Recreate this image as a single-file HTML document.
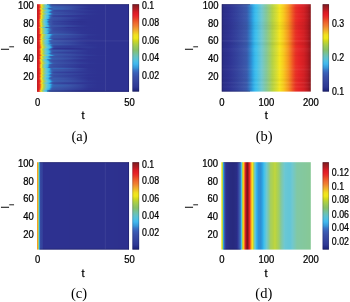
<!DOCTYPE html><html><head><meta charset="utf-8"><style>html,body{margin:0;padding:0;background:#fff;width:350px;height:302px;overflow:hidden}svg{display:block;will-change:transform}text{font-family:"Liberation Sans",sans-serif}text.cap{font-family:"Liberation Serif",serif}text{stroke:#000;stroke-width:0.25px}text.cap{stroke-width:0}text.yl{stroke-width:0.1px}</style></head><body><svg width="350" height="302" viewBox="0 0 350 302" font-family="Liberation Sans, sans-serif" fill="#000" stroke-linejoin="round"><defs><linearGradient id="g1"><stop offset="0" stop-color="#ba1a21"/><stop offset="0.008" stop-color="#ca1d23"/><stop offset="0.016" stop-color="#d72024"/><stop offset="0.024" stop-color="#e42326"/><stop offset="0.032" stop-color="#ef5c23"/><stop offset="0.04" stop-color="#f6a41f"/><stop offset="0.048" stop-color="#f6d81e"/><stop offset="0.056" stop-color="#e0df2b"/><stop offset="0.064" stop-color="#b7d344"/><stop offset="0.072" stop-color="#a3ce65"/><stop offset="0.08" stop-color="#89c893"/><stop offset="0.088" stop-color="#7bc8b5"/><stop offset="0.096" stop-color="#6cc7d2"/><stop offset="0.104" stop-color="#5bc5dc"/><stop offset="0.112" stop-color="#4dc2e5"/><stop offset="0.12" stop-color="#43c1eb"/><stop offset="0.128" stop-color="#39b8eb"/><stop offset="0.136" stop-color="#2da1e1"/><stop offset="0.144" stop-color="#307cc6"/><stop offset="0.152" stop-color="#3567b6"/><stop offset="0.16" stop-color="#3958ab"/><stop offset="0.168" stop-color="#3952a6"/><stop offset="0.176" stop-color="#384ea4"/><stop offset="0.184" stop-color="#374ca3"/><stop offset="0.192" stop-color="#374ca3"/><stop offset="0.2" stop-color="#374ba2"/><stop offset="0.24" stop-color="#3648a0"/><stop offset="0.28" stop-color="#35459f"/><stop offset="0.34" stop-color="#33419c"/><stop offset="0.4" stop-color="#323e9a"/><stop offset="0.48" stop-color="#303896"/><stop offset="0.56" stop-color="#2e3393"/><stop offset="0.66" stop-color="#2e3292"/><stop offset="0.8" stop-color="#2e3292"/><stop offset="1" stop-color="#2e3292"/></linearGradient><linearGradient id="g2"><stop offset="0" stop-color="#ba1a21"/><stop offset="0.008" stop-color="#cb1e23"/><stop offset="0.016" stop-color="#d82024"/><stop offset="0.024" stop-color="#e72826"/><stop offset="0.032" stop-color="#f16a22"/><stop offset="0.04" stop-color="#f7b41f"/><stop offset="0.048" stop-color="#f5e01e"/><stop offset="0.056" stop-color="#d0da35"/><stop offset="0.064" stop-color="#afd150"/><stop offset="0.072" stop-color="#98cc78"/><stop offset="0.08" stop-color="#81c8a4"/><stop offset="0.088" stop-color="#74c8c6"/><stop offset="0.096" stop-color="#62c6d8"/><stop offset="0.104" stop-color="#51c3e2"/><stop offset="0.112" stop-color="#46c1e9"/><stop offset="0.12" stop-color="#3bbbec"/><stop offset="0.128" stop-color="#2fa8e5"/><stop offset="0.136" stop-color="#3083ca"/><stop offset="0.144" stop-color="#356ab8"/><stop offset="0.152" stop-color="#385bad"/><stop offset="0.16" stop-color="#3a56a9"/><stop offset="0.168" stop-color="#3a53a8"/><stop offset="0.176" stop-color="#3952a7"/><stop offset="0.184" stop-color="#3951a6"/><stop offset="0.192" stop-color="#3950a5"/><stop offset="0.2" stop-color="#384fa5"/><stop offset="0.24" stop-color="#374da3"/><stop offset="0.28" stop-color="#3649a1"/><stop offset="0.34" stop-color="#35449e"/><stop offset="0.4" stop-color="#333f9b"/><stop offset="0.48" stop-color="#303795"/><stop offset="0.56" stop-color="#2e3393"/><stop offset="0.66" stop-color="#2e3292"/><stop offset="0.8" stop-color="#2e3292"/><stop offset="1" stop-color="#2e3292"/></linearGradient><linearGradient id="g3"><stop offset="0" stop-color="#ba1a21"/><stop offset="0.008" stop-color="#ca1d23"/><stop offset="0.016" stop-color="#d72024"/><stop offset="0.024" stop-color="#e62326"/><stop offset="0.032" stop-color="#f06023"/><stop offset="0.04" stop-color="#f6a81f"/><stop offset="0.048" stop-color="#f6da1e"/><stop offset="0.056" stop-color="#dbde2e"/><stop offset="0.064" stop-color="#b4d246"/><stop offset="0.072" stop-color="#a0ce69"/><stop offset="0.08" stop-color="#86c898"/><stop offset="0.088" stop-color="#79c8ba"/><stop offset="0.096" stop-color="#69c7d4"/><stop offset="0.104" stop-color="#58c4de"/><stop offset="0.112" stop-color="#4bc2e6"/><stop offset="0.12" stop-color="#3fc0ed"/><stop offset="0.128" stop-color="#38b6ea"/><stop offset="0.136" stop-color="#2e98da"/><stop offset="0.144" stop-color="#3273bf"/><stop offset="0.152" stop-color="#3664b4"/><stop offset="0.16" stop-color="#385daf"/><stop offset="0.168" stop-color="#385bad"/><stop offset="0.176" stop-color="#385daf"/><stop offset="0.184" stop-color="#385daf"/><stop offset="0.192" stop-color="#385cae"/><stop offset="0.2" stop-color="#385cae"/><stop offset="0.24" stop-color="#3958ab"/><stop offset="0.28" stop-color="#3a55a9"/><stop offset="0.34" stop-color="#384fa5"/><stop offset="0.4" stop-color="#3648a0"/><stop offset="0.48" stop-color="#323d99"/><stop offset="0.56" stop-color="#2e3393"/><stop offset="0.66" stop-color="#2e3292"/><stop offset="0.8" stop-color="#2e3292"/><stop offset="1" stop-color="#2e3292"/></linearGradient><linearGradient id="g4"><stop offset="0" stop-color="#ba1a21"/><stop offset="0.008" stop-color="#c91d22"/><stop offset="0.016" stop-color="#d52024"/><stop offset="0.024" stop-color="#df2225"/><stop offset="0.032" stop-color="#eb4125"/><stop offset="0.04" stop-color="#f38221"/><stop offset="0.048" stop-color="#f8c11e"/><stop offset="0.056" stop-color="#f5e11e"/><stop offset="0.064" stop-color="#d3dc33"/><stop offset="0.072" stop-color="#b3d248"/><stop offset="0.08" stop-color="#a1ce67"/><stop offset="0.088" stop-color="#89c992"/><stop offset="0.096" stop-color="#7cc8b1"/><stop offset="0.104" stop-color="#71c8ce"/><stop offset="0.112" stop-color="#60c5da"/><stop offset="0.12" stop-color="#52c3e2"/><stop offset="0.128" stop-color="#48c2e8"/><stop offset="0.136" stop-color="#3dbeed"/><stop offset="0.144" stop-color="#36b4ea"/><stop offset="0.152" stop-color="#2e98db"/><stop offset="0.16" stop-color="#317bc4"/><stop offset="0.168" stop-color="#346dba"/><stop offset="0.176" stop-color="#3664b4"/><stop offset="0.184" stop-color="#3761b2"/><stop offset="0.192" stop-color="#375fb0"/><stop offset="0.2" stop-color="#385eaf"/><stop offset="0.24" stop-color="#385bad"/><stop offset="0.28" stop-color="#3958ab"/><stop offset="0.34" stop-color="#3952a7"/><stop offset="0.4" stop-color="#374ba2"/><stop offset="0.48" stop-color="#34429c"/><stop offset="0.56" stop-color="#303896"/><stop offset="0.66" stop-color="#2e3392"/><stop offset="0.8" stop-color="#2e3292"/><stop offset="1" stop-color="#2e3292"/></linearGradient><linearGradient id="g5"><stop offset="0" stop-color="#ba1a21"/><stop offset="0.008" stop-color="#cd1e23"/><stop offset="0.016" stop-color="#db2125"/><stop offset="0.024" stop-color="#ea3c25"/><stop offset="0.032" stop-color="#f48f20"/><stop offset="0.04" stop-color="#f6d51e"/><stop offset="0.048" stop-color="#ddde2d"/><stop offset="0.056" stop-color="#b1d14b"/><stop offset="0.064" stop-color="#98cc77"/><stop offset="0.072" stop-color="#80c8a8"/><stop offset="0.08" stop-color="#71c8cd"/><stop offset="0.088" stop-color="#5cc5dc"/><stop offset="0.096" stop-color="#4cc2e6"/><stop offset="0.104" stop-color="#3ebfee"/><stop offset="0.112" stop-color="#34b0e8"/><stop offset="0.12" stop-color="#2f88cf"/><stop offset="0.128" stop-color="#356ab8"/><stop offset="0.136" stop-color="#385bad"/><stop offset="0.144" stop-color="#3a56a9"/><stop offset="0.152" stop-color="#3a56a9"/><stop offset="0.16" stop-color="#395aac"/><stop offset="0.168" stop-color="#385eaf"/><stop offset="0.176" stop-color="#3663b3"/><stop offset="0.184" stop-color="#3665b4"/><stop offset="0.192" stop-color="#3664b4"/><stop offset="0.2" stop-color="#3663b3"/><stop offset="0.24" stop-color="#375fb0"/><stop offset="0.28" stop-color="#385aad"/><stop offset="0.34" stop-color="#3952a7"/><stop offset="0.4" stop-color="#35479f"/><stop offset="0.48" stop-color="#303896"/><stop offset="0.56" stop-color="#2e3292"/><stop offset="0.66" stop-color="#2e3292"/><stop offset="0.8" stop-color="#2e3292"/><stop offset="1" stop-color="#2e3292"/></linearGradient><linearGradient id="g6"><stop offset="0" stop-color="#ba1a21"/><stop offset="0.008" stop-color="#cc1e23"/><stop offset="0.016" stop-color="#da2125"/><stop offset="0.024" stop-color="#e93525"/><stop offset="0.032" stop-color="#f38321"/><stop offset="0.04" stop-color="#f7d01e"/><stop offset="0.048" stop-color="#e8e226"/><stop offset="0.056" stop-color="#b8d343"/><stop offset="0.064" stop-color="#a1ce68"/><stop offset="0.072" stop-color="#85c89b"/><stop offset="0.08" stop-color="#76c8c0"/><stop offset="0.088" stop-color="#63c6d8"/><stop offset="0.096" stop-color="#51c3e2"/><stop offset="0.104" stop-color="#45c1ea"/><stop offset="0.112" stop-color="#3ab9eb"/><stop offset="0.12" stop-color="#2d9fe0"/><stop offset="0.128" stop-color="#3276c1"/><stop offset="0.136" stop-color="#3663b3"/><stop offset="0.144" stop-color="#3959ac"/><stop offset="0.152" stop-color="#3957aa"/><stop offset="0.16" stop-color="#385cae"/><stop offset="0.168" stop-color="#3762b2"/><stop offset="0.176" stop-color="#3567b6"/><stop offset="0.184" stop-color="#356ab8"/><stop offset="0.192" stop-color="#3569b7"/><stop offset="0.2" stop-color="#3568b7"/><stop offset="0.24" stop-color="#3664b4"/><stop offset="0.28" stop-color="#3760b1"/><stop offset="0.34" stop-color="#3957aa"/><stop offset="0.4" stop-color="#374ba2"/><stop offset="0.48" stop-color="#313b98"/><stop offset="0.56" stop-color="#2e3292"/><stop offset="0.66" stop-color="#2e3292"/><stop offset="0.8" stop-color="#2e3292"/><stop offset="1" stop-color="#2e3292"/></linearGradient><linearGradient id="g7"><stop offset="0" stop-color="#ba1a21"/><stop offset="0.008" stop-color="#c91d23"/><stop offset="0.016" stop-color="#d62024"/><stop offset="0.024" stop-color="#e12225"/><stop offset="0.032" stop-color="#ed4e24"/><stop offset="0.04" stop-color="#f59520"/><stop offset="0.048" stop-color="#f7d11e"/><stop offset="0.056" stop-color="#eee422"/><stop offset="0.064" stop-color="#c1d63e"/><stop offset="0.072" stop-color="#aad057"/><stop offset="0.08" stop-color="#95cb7e"/><stop offset="0.088" stop-color="#81c8a5"/><stop offset="0.096" stop-color="#75c8c4"/><stop offset="0.104" stop-color="#65c6d7"/><stop offset="0.112" stop-color="#55c4e0"/><stop offset="0.12" stop-color="#4ac2e7"/><stop offset="0.128" stop-color="#3ec0ee"/><stop offset="0.136" stop-color="#37b6ea"/><stop offset="0.144" stop-color="#2e99db"/><stop offset="0.152" stop-color="#3277c1"/><stop offset="0.16" stop-color="#3567b6"/><stop offset="0.168" stop-color="#385cae"/><stop offset="0.176" stop-color="#3959ab"/><stop offset="0.184" stop-color="#3957aa"/><stop offset="0.192" stop-color="#3956aa"/><stop offset="0.2" stop-color="#3a56a9"/><stop offset="0.24" stop-color="#3952a7"/><stop offset="0.28" stop-color="#3950a5"/><stop offset="0.34" stop-color="#374ba2"/><stop offset="0.4" stop-color="#35469f"/><stop offset="0.48" stop-color="#323e99"/><stop offset="0.56" stop-color="#2f3594"/><stop offset="0.66" stop-color="#2e3292"/><stop offset="0.8" stop-color="#2e3292"/><stop offset="1" stop-color="#2e3292"/></linearGradient><linearGradient id="g8"><stop offset="0" stop-color="#ba1a21"/><stop offset="0.008" stop-color="#c81d22"/><stop offset="0.016" stop-color="#d41f24"/><stop offset="0.024" stop-color="#de2125"/><stop offset="0.032" stop-color="#ea3c25"/><stop offset="0.04" stop-color="#f27a22"/><stop offset="0.048" stop-color="#f8b71e"/><stop offset="0.056" stop-color="#f6dd1e"/><stop offset="0.064" stop-color="#dcde2d"/><stop offset="0.072" stop-color="#b8d343"/><stop offset="0.08" stop-color="#a6cf5f"/><stop offset="0.088" stop-color="#90ca85"/><stop offset="0.096" stop-color="#80c8a8"/><stop offset="0.104" stop-color="#75c8c4"/><stop offset="0.112" stop-color="#65c6d6"/><stop offset="0.12" stop-color="#57c4df"/><stop offset="0.128" stop-color="#4cc2e6"/><stop offset="0.136" stop-color="#42c1eb"/><stop offset="0.144" stop-color="#3ab9eb"/><stop offset="0.152" stop-color="#2ea7e5"/><stop offset="0.16" stop-color="#3082c9"/><stop offset="0.168" stop-color="#3762b2"/><stop offset="0.176" stop-color="#3950a5"/><stop offset="0.184" stop-color="#3648a0"/><stop offset="0.192" stop-color="#35449e"/><stop offset="0.2" stop-color="#34449d"/><stop offset="0.24" stop-color="#33419b"/><stop offset="0.28" stop-color="#323e9a"/><stop offset="0.34" stop-color="#313c98"/><stop offset="0.4" stop-color="#313c98"/><stop offset="0.48" stop-color="#313b98"/><stop offset="0.56" stop-color="#303996"/><stop offset="0.66" stop-color="#2e3393"/><stop offset="0.8" stop-color="#2e3292"/><stop offset="1" stop-color="#2e3292"/></linearGradient><linearGradient id="g9"><stop offset="0" stop-color="#ba1a21"/><stop offset="0.008" stop-color="#ca1d23"/><stop offset="0.016" stop-color="#d72024"/><stop offset="0.024" stop-color="#e52326"/><stop offset="0.032" stop-color="#f05f23"/><stop offset="0.04" stop-color="#f6a71f"/><stop offset="0.048" stop-color="#f6da1e"/><stop offset="0.056" stop-color="#dcde2d"/><stop offset="0.064" stop-color="#b5d245"/><stop offset="0.072" stop-color="#a1ce68"/><stop offset="0.08" stop-color="#87c897"/><stop offset="0.088" stop-color="#79c8b8"/><stop offset="0.096" stop-color="#69c7d4"/><stop offset="0.104" stop-color="#59c4de"/><stop offset="0.112" stop-color="#4cc2e6"/><stop offset="0.12" stop-color="#40c0ed"/><stop offset="0.128" stop-color="#38b6ea"/><stop offset="0.136" stop-color="#2e9adc"/><stop offset="0.144" stop-color="#3276c1"/><stop offset="0.152" stop-color="#3664b4"/><stop offset="0.16" stop-color="#3958ab"/><stop offset="0.168" stop-color="#3952a7"/><stop offset="0.176" stop-color="#3950a5"/><stop offset="0.184" stop-color="#384fa4"/><stop offset="0.192" stop-color="#384ea4"/><stop offset="0.2" stop-color="#384da4"/><stop offset="0.24" stop-color="#374aa2"/><stop offset="0.28" stop-color="#3647a0"/><stop offset="0.34" stop-color="#34439d"/><stop offset="0.4" stop-color="#333f9a"/><stop offset="0.48" stop-color="#303896"/><stop offset="0.56" stop-color="#2e3393"/><stop offset="0.66" stop-color="#2e3292"/><stop offset="0.8" stop-color="#2e3292"/><stop offset="1" stop-color="#2e3292"/></linearGradient><linearGradient id="g10"><stop offset="0" stop-color="#ba1a21"/><stop offset="0.008" stop-color="#cb1e23"/><stop offset="0.016" stop-color="#d82024"/><stop offset="0.024" stop-color="#e72826"/><stop offset="0.032" stop-color="#f16a22"/><stop offset="0.04" stop-color="#f7b41f"/><stop offset="0.048" stop-color="#f5e01e"/><stop offset="0.056" stop-color="#cfda35"/><stop offset="0.064" stop-color="#afd150"/><stop offset="0.072" stop-color="#98cc78"/><stop offset="0.08" stop-color="#81c8a5"/><stop offset="0.088" stop-color="#74c8c6"/><stop offset="0.096" stop-color="#62c6d8"/><stop offset="0.104" stop-color="#51c3e2"/><stop offset="0.112" stop-color="#46c1e9"/><stop offset="0.12" stop-color="#3bbbec"/><stop offset="0.128" stop-color="#2fa8e5"/><stop offset="0.136" stop-color="#3082ca"/><stop offset="0.144" stop-color="#3569b8"/><stop offset="0.152" stop-color="#385bad"/><stop offset="0.16" stop-color="#3956aa"/><stop offset="0.168" stop-color="#3a54a8"/><stop offset="0.176" stop-color="#3a53a7"/><stop offset="0.184" stop-color="#3952a7"/><stop offset="0.192" stop-color="#3951a6"/><stop offset="0.2" stop-color="#3951a6"/><stop offset="0.24" stop-color="#384ea4"/><stop offset="0.28" stop-color="#374ba2"/><stop offset="0.34" stop-color="#35459f"/><stop offset="0.4" stop-color="#33409b"/><stop offset="0.48" stop-color="#303896"/><stop offset="0.56" stop-color="#2e3393"/><stop offset="0.66" stop-color="#2e3292"/><stop offset="0.8" stop-color="#2e3292"/><stop offset="1" stop-color="#2e3292"/></linearGradient><linearGradient id="g11"><stop offset="0" stop-color="#ba1a21"/><stop offset="0.008" stop-color="#c91d22"/><stop offset="0.016" stop-color="#d52024"/><stop offset="0.024" stop-color="#df2225"/><stop offset="0.032" stop-color="#eb4224"/><stop offset="0.04" stop-color="#f38521"/><stop offset="0.048" stop-color="#f8c31e"/><stop offset="0.056" stop-color="#f5e21e"/><stop offset="0.064" stop-color="#d1db34"/><stop offset="0.072" stop-color="#b2d24a"/><stop offset="0.08" stop-color="#a0ce6a"/><stop offset="0.088" stop-color="#87c895"/><stop offset="0.096" stop-color="#7bc8b4"/><stop offset="0.104" stop-color="#70c8d0"/><stop offset="0.112" stop-color="#5fc5da"/><stop offset="0.12" stop-color="#50c3e3"/><stop offset="0.128" stop-color="#47c1e9"/><stop offset="0.136" stop-color="#3cbded"/><stop offset="0.144" stop-color="#34b1e8"/><stop offset="0.152" stop-color="#2e93d6"/><stop offset="0.16" stop-color="#3370bd"/><stop offset="0.168" stop-color="#3760b1"/><stop offset="0.176" stop-color="#3a54a8"/><stop offset="0.184" stop-color="#3950a5"/><stop offset="0.192" stop-color="#384fa5"/><stop offset="0.2" stop-color="#384ea4"/><stop offset="0.24" stop-color="#374ba2"/><stop offset="0.28" stop-color="#3648a1"/><stop offset="0.34" stop-color="#35459e"/><stop offset="0.4" stop-color="#34429c"/><stop offset="0.48" stop-color="#323d99"/><stop offset="0.56" stop-color="#303795"/><stop offset="0.66" stop-color="#2e3392"/><stop offset="0.8" stop-color="#2e3292"/><stop offset="1" stop-color="#2e3292"/></linearGradient><linearGradient id="g12"><stop offset="0" stop-color="#ba1a21"/><stop offset="0.008" stop-color="#c91d22"/><stop offset="0.016" stop-color="#d52024"/><stop offset="0.024" stop-color="#df2225"/><stop offset="0.032" stop-color="#eb4124"/><stop offset="0.04" stop-color="#f38321"/><stop offset="0.048" stop-color="#f8c11e"/><stop offset="0.056" stop-color="#f5e11e"/><stop offset="0.064" stop-color="#d3dc33"/><stop offset="0.072" stop-color="#b3d248"/><stop offset="0.08" stop-color="#a1ce68"/><stop offset="0.088" stop-color="#89c892"/><stop offset="0.096" stop-color="#7cc8b2"/><stop offset="0.104" stop-color="#71c8ce"/><stop offset="0.112" stop-color="#60c5da"/><stop offset="0.12" stop-color="#51c3e2"/><stop offset="0.128" stop-color="#48c2e8"/><stop offset="0.136" stop-color="#3dbeed"/><stop offset="0.144" stop-color="#36b3e9"/><stop offset="0.152" stop-color="#2e97da"/><stop offset="0.16" stop-color="#3178c3"/><stop offset="0.168" stop-color="#356ab8"/><stop offset="0.176" stop-color="#3760b1"/><stop offset="0.184" stop-color="#385daf"/><stop offset="0.192" stop-color="#385bad"/><stop offset="0.2" stop-color="#385aad"/><stop offset="0.24" stop-color="#3957aa"/><stop offset="0.28" stop-color="#3a54a8"/><stop offset="0.34" stop-color="#384fa5"/><stop offset="0.4" stop-color="#3649a1"/><stop offset="0.48" stop-color="#33419c"/><stop offset="0.56" stop-color="#303896"/><stop offset="0.66" stop-color="#2e3392"/><stop offset="0.8" stop-color="#2e3292"/><stop offset="1" stop-color="#2e3292"/></linearGradient><linearGradient id="g13"><stop offset="0" stop-color="#ba1a21"/><stop offset="0.008" stop-color="#cc1e23"/><stop offset="0.016" stop-color="#d92024"/><stop offset="0.024" stop-color="#e82e25"/><stop offset="0.032" stop-color="#f27522"/><stop offset="0.04" stop-color="#f8c11e"/><stop offset="0.048" stop-color="#f5e61e"/><stop offset="0.056" stop-color="#c2d63d"/><stop offset="0.064" stop-color="#a8cf5b"/><stop offset="0.072" stop-color="#8eca89"/><stop offset="0.08" stop-color="#7cc8b1"/><stop offset="0.088" stop-color="#6dc8d2"/><stop offset="0.096" stop-color="#5ac5dd"/><stop offset="0.104" stop-color="#4cc2e6"/><stop offset="0.112" stop-color="#3ec0ee"/><stop offset="0.12" stop-color="#37b4ea"/><stop offset="0.128" stop-color="#2e91d5"/><stop offset="0.136" stop-color="#336fbc"/><stop offset="0.144" stop-color="#375eb0"/><stop offset="0.152" stop-color="#3958ab"/><stop offset="0.16" stop-color="#3a53a8"/><stop offset="0.168" stop-color="#3951a6"/><stop offset="0.176" stop-color="#384fa5"/><stop offset="0.184" stop-color="#384ea4"/><stop offset="0.192" stop-color="#384da3"/><stop offset="0.2" stop-color="#374ca3"/><stop offset="0.24" stop-color="#3649a1"/><stop offset="0.28" stop-color="#35469f"/><stop offset="0.34" stop-color="#33419c"/><stop offset="0.4" stop-color="#323c99"/><stop offset="0.48" stop-color="#2f3594"/><stop offset="0.56" stop-color="#2e3392"/><stop offset="0.66" stop-color="#2e3292"/><stop offset="0.8" stop-color="#2e3292"/><stop offset="1" stop-color="#2e3292"/></linearGradient><linearGradient id="g14"><stop offset="0" stop-color="#ba1a21"/><stop offset="0.008" stop-color="#cb1e23"/><stop offset="0.016" stop-color="#d82024"/><stop offset="0.024" stop-color="#e72926"/><stop offset="0.032" stop-color="#f16d22"/><stop offset="0.04" stop-color="#f7b71e"/><stop offset="0.048" stop-color="#f5e11e"/><stop offset="0.056" stop-color="#ccd937"/><stop offset="0.064" stop-color="#add053"/><stop offset="0.072" stop-color="#95cb7c"/><stop offset="0.08" stop-color="#80c8a8"/><stop offset="0.088" stop-color="#73c8c9"/><stop offset="0.096" stop-color="#60c5da"/><stop offset="0.104" stop-color="#50c3e3"/><stop offset="0.112" stop-color="#44c1ea"/><stop offset="0.12" stop-color="#3ab9ec"/><stop offset="0.128" stop-color="#2da3e3"/><stop offset="0.136" stop-color="#307cc5"/><stop offset="0.144" stop-color="#3567b6"/><stop offset="0.152" stop-color="#3959ab"/><stop offset="0.16" stop-color="#384ea4"/><stop offset="0.168" stop-color="#3547a0"/><stop offset="0.176" stop-color="#33409b"/><stop offset="0.184" stop-color="#323c99"/><stop offset="0.192" stop-color="#313c98"/><stop offset="0.2" stop-color="#313b98"/><stop offset="0.24" stop-color="#303896"/><stop offset="0.28" stop-color="#2f3594"/><stop offset="0.34" stop-color="#2e3292"/><stop offset="0.4" stop-color="#2e3292"/><stop offset="0.48" stop-color="#2e3191"/><stop offset="0.56" stop-color="#2e3392"/><stop offset="0.66" stop-color="#2e3292"/><stop offset="0.8" stop-color="#2e3292"/><stop offset="1" stop-color="#2e3292"/></linearGradient><linearGradient id="g15"><stop offset="0" stop-color="#ba1a21"/><stop offset="0.008" stop-color="#ca1d23"/><stop offset="0.016" stop-color="#d72024"/><stop offset="0.024" stop-color="#e32226"/><stop offset="0.032" stop-color="#ef5a23"/><stop offset="0.04" stop-color="#f6a21f"/><stop offset="0.048" stop-color="#f6d71e"/><stop offset="0.056" stop-color="#e2e02a"/><stop offset="0.064" stop-color="#b8d343"/><stop offset="0.072" stop-color="#a4ce63"/><stop offset="0.08" stop-color="#8ac990"/><stop offset="0.088" stop-color="#7cc8b3"/><stop offset="0.096" stop-color="#6ec8d1"/><stop offset="0.104" stop-color="#5cc5dc"/><stop offset="0.112" stop-color="#4ec3e4"/><stop offset="0.12" stop-color="#43c1eb"/><stop offset="0.128" stop-color="#3ab9eb"/><stop offset="0.136" stop-color="#2da5e4"/><stop offset="0.144" stop-color="#3080c8"/><stop offset="0.152" stop-color="#3568b7"/><stop offset="0.16" stop-color="#3957aa"/><stop offset="0.168" stop-color="#3950a5"/><stop offset="0.176" stop-color="#374ba2"/><stop offset="0.184" stop-color="#3649a1"/><stop offset="0.192" stop-color="#3648a0"/><stop offset="0.2" stop-color="#3647a0"/><stop offset="0.24" stop-color="#35459e"/><stop offset="0.28" stop-color="#34429c"/><stop offset="0.34" stop-color="#323e9a"/><stop offset="0.4" stop-color="#313b98"/><stop offset="0.48" stop-color="#303795"/><stop offset="0.56" stop-color="#2e3393"/><stop offset="0.66" stop-color="#2e3292"/><stop offset="0.8" stop-color="#2e3292"/><stop offset="1" stop-color="#2e3292"/></linearGradient><linearGradient id="g16"><stop offset="0" stop-color="#ba1a21"/><stop offset="0.008" stop-color="#cb1e23"/><stop offset="0.016" stop-color="#d92024"/><stop offset="0.024" stop-color="#e72c26"/><stop offset="0.032" stop-color="#f27122"/><stop offset="0.04" stop-color="#f8bc1e"/><stop offset="0.048" stop-color="#f5e41e"/><stop offset="0.056" stop-color="#c7d83a"/><stop offset="0.064" stop-color="#abd057"/><stop offset="0.072" stop-color="#92ca83"/><stop offset="0.08" stop-color="#7ec8ad"/><stop offset="0.088" stop-color="#71c8cf"/><stop offset="0.096" stop-color="#5dc5db"/><stop offset="0.104" stop-color="#4ec3e5"/><stop offset="0.112" stop-color="#42c1ec"/><stop offset="0.12" stop-color="#38b7eb"/><stop offset="0.128" stop-color="#2e9adb"/><stop offset="0.136" stop-color="#3273bf"/><stop offset="0.144" stop-color="#3762b2"/><stop offset="0.152" stop-color="#3959ac"/><stop offset="0.16" stop-color="#3956aa"/><stop offset="0.168" stop-color="#3a56a9"/><stop offset="0.176" stop-color="#3a55a9"/><stop offset="0.184" stop-color="#3a55a8"/><stop offset="0.192" stop-color="#3a54a8"/><stop offset="0.2" stop-color="#3a53a8"/><stop offset="0.24" stop-color="#3950a6"/><stop offset="0.28" stop-color="#384da3"/><stop offset="0.34" stop-color="#3647a0"/><stop offset="0.4" stop-color="#33419c"/><stop offset="0.48" stop-color="#303796"/><stop offset="0.56" stop-color="#2e3392"/><stop offset="0.66" stop-color="#2e3292"/><stop offset="0.8" stop-color="#2e3292"/><stop offset="1" stop-color="#2e3292"/></linearGradient><linearGradient id="g17"><stop offset="0" stop-color="#ba1a21"/><stop offset="0.008" stop-color="#cb1e23"/><stop offset="0.016" stop-color="#d82024"/><stop offset="0.024" stop-color="#e72926"/><stop offset="0.032" stop-color="#f16c22"/><stop offset="0.04" stop-color="#f7b61e"/><stop offset="0.048" stop-color="#f5e11e"/><stop offset="0.056" stop-color="#cdda36"/><stop offset="0.064" stop-color="#aed152"/><stop offset="0.072" stop-color="#96cb7b"/><stop offset="0.08" stop-color="#80c8a7"/><stop offset="0.088" stop-color="#73c8c8"/><stop offset="0.096" stop-color="#61c6d9"/><stop offset="0.104" stop-color="#50c3e3"/><stop offset="0.112" stop-color="#45c1ea"/><stop offset="0.12" stop-color="#3abaec"/><stop offset="0.128" stop-color="#2da5e4"/><stop offset="0.136" stop-color="#307fc7"/><stop offset="0.144" stop-color="#3568b6"/><stop offset="0.152" stop-color="#385bad"/><stop offset="0.16" stop-color="#3a56a9"/><stop offset="0.168" stop-color="#3a54a8"/><stop offset="0.176" stop-color="#3a53a7"/><stop offset="0.184" stop-color="#3952a7"/><stop offset="0.192" stop-color="#3951a6"/><stop offset="0.2" stop-color="#3950a6"/><stop offset="0.24" stop-color="#384ea4"/><stop offset="0.28" stop-color="#374aa2"/><stop offset="0.34" stop-color="#35459e"/><stop offset="0.4" stop-color="#33409b"/><stop offset="0.48" stop-color="#303795"/><stop offset="0.56" stop-color="#2e3393"/><stop offset="0.66" stop-color="#2e3292"/><stop offset="0.8" stop-color="#2e3292"/><stop offset="1" stop-color="#2e3292"/></linearGradient><linearGradient id="g18"><stop offset="0" stop-color="#ba1a21"/><stop offset="0.008" stop-color="#ce1e23"/><stop offset="0.016" stop-color="#dd2125"/><stop offset="0.024" stop-color="#ec4924"/><stop offset="0.032" stop-color="#f6a41f"/><stop offset="0.04" stop-color="#f6df1e"/><stop offset="0.048" stop-color="#c7d83a"/><stop offset="0.056" stop-color="#a7cf5d"/><stop offset="0.064" stop-color="#88c893"/><stop offset="0.072" stop-color="#77c8bd"/><stop offset="0.08" stop-color="#63c6d8"/><stop offset="0.088" stop-color="#50c3e3"/><stop offset="0.096" stop-color="#42c1eb"/><stop offset="0.104" stop-color="#37b5ea"/><stop offset="0.112" stop-color="#2f8dd2"/><stop offset="0.12" stop-color="#346bb9"/><stop offset="0.128" stop-color="#385bad"/><stop offset="0.136" stop-color="#3a56a9"/><stop offset="0.144" stop-color="#3a54a8"/><stop offset="0.152" stop-color="#3a53a8"/><stop offset="0.16" stop-color="#3952a7"/><stop offset="0.168" stop-color="#3951a6"/><stop offset="0.176" stop-color="#3950a5"/><stop offset="0.184" stop-color="#384fa5"/><stop offset="0.192" stop-color="#384ea4"/><stop offset="0.2" stop-color="#384ea4"/><stop offset="0.24" stop-color="#364aa2"/><stop offset="0.28" stop-color="#35469f"/><stop offset="0.34" stop-color="#333f9b"/><stop offset="0.4" stop-color="#303796"/><stop offset="0.48" stop-color="#2e3292"/><stop offset="0.56" stop-color="#2e3292"/><stop offset="0.66" stop-color="#2e3292"/><stop offset="0.8" stop-color="#2e3292"/><stop offset="1" stop-color="#2e3292"/></linearGradient><linearGradient id="g19"><stop offset="0" stop-color="#ba1a21"/><stop offset="0.008" stop-color="#cc1e23"/><stop offset="0.016" stop-color="#da2125"/><stop offset="0.024" stop-color="#e93325"/><stop offset="0.032" stop-color="#f37e21"/><stop offset="0.04" stop-color="#f7ca1e"/><stop offset="0.048" stop-color="#eee423"/><stop offset="0.056" stop-color="#bcd441"/><stop offset="0.064" stop-color="#a4ce63"/><stop offset="0.072" stop-color="#87c896"/><stop offset="0.08" stop-color="#79c8bb"/><stop offset="0.088" stop-color="#67c6d6"/><stop offset="0.096" stop-color="#54c4e1"/><stop offset="0.104" stop-color="#48c2e8"/><stop offset="0.112" stop-color="#3bbcec"/><stop offset="0.12" stop-color="#2fa8e5"/><stop offset="0.128" stop-color="#3080c9"/><stop offset="0.136" stop-color="#3567b6"/><stop offset="0.144" stop-color="#385aad"/><stop offset="0.152" stop-color="#3a55a9"/><stop offset="0.16" stop-color="#3a53a7"/><stop offset="0.168" stop-color="#3951a6"/><stop offset="0.176" stop-color="#384ea4"/><stop offset="0.184" stop-color="#384da4"/><stop offset="0.192" stop-color="#374da3"/><stop offset="0.2" stop-color="#374ca3"/><stop offset="0.24" stop-color="#3649a1"/><stop offset="0.28" stop-color="#35459e"/><stop offset="0.34" stop-color="#33409b"/><stop offset="0.4" stop-color="#313b98"/><stop offset="0.48" stop-color="#2e3393"/><stop offset="0.56" stop-color="#2e3392"/><stop offset="0.66" stop-color="#2e3292"/><stop offset="0.8" stop-color="#2e3292"/><stop offset="1" stop-color="#2e3292"/></linearGradient><linearGradient id="g20"><stop offset="0" stop-color="#ba1a21"/><stop offset="0.008" stop-color="#ce1e23"/><stop offset="0.016" stop-color="#dc2125"/><stop offset="0.024" stop-color="#ec4624"/><stop offset="0.032" stop-color="#f6a21f"/><stop offset="0.04" stop-color="#f6dd1e"/><stop offset="0.048" stop-color="#cad938"/><stop offset="0.056" stop-color="#a9cf5a"/><stop offset="0.064" stop-color="#8bc98f"/><stop offset="0.072" stop-color="#79c8ba"/><stop offset="0.08" stop-color="#65c6d7"/><stop offset="0.088" stop-color="#51c3e3"/><stop offset="0.096" stop-color="#44c1eb"/><stop offset="0.104" stop-color="#38b7eb"/><stop offset="0.112" stop-color="#2e93d6"/><stop offset="0.12" stop-color="#346dbb"/><stop offset="0.128" stop-color="#385cae"/><stop offset="0.136" stop-color="#3956aa"/><stop offset="0.144" stop-color="#3a55a8"/><stop offset="0.152" stop-color="#3953a7"/><stop offset="0.16" stop-color="#384ea4"/><stop offset="0.168" stop-color="#3649a1"/><stop offset="0.176" stop-color="#35459e"/><stop offset="0.184" stop-color="#34429d"/><stop offset="0.192" stop-color="#34429c"/><stop offset="0.2" stop-color="#33419c"/><stop offset="0.24" stop-color="#323d99"/><stop offset="0.28" stop-color="#313997"/><stop offset="0.34" stop-color="#2f3493"/><stop offset="0.4" stop-color="#2d3190"/><stop offset="0.48" stop-color="#2d318f"/><stop offset="0.56" stop-color="#2e3292"/><stop offset="0.66" stop-color="#2e3292"/><stop offset="0.8" stop-color="#2e3292"/><stop offset="1" stop-color="#2e3292"/></linearGradient><linearGradient id="g21"><stop offset="0" stop-color="#ba1a21"/><stop offset="0.008" stop-color="#cd1e23"/><stop offset="0.016" stop-color="#db2125"/><stop offset="0.024" stop-color="#eb3f25"/><stop offset="0.032" stop-color="#f59620"/><stop offset="0.04" stop-color="#f6d71e"/><stop offset="0.048" stop-color="#d8dd30"/><stop offset="0.056" stop-color="#afd14f"/><stop offset="0.064" stop-color="#95cb7e"/><stop offset="0.072" stop-color="#7ec8ad"/><stop offset="0.08" stop-color="#6ec8d1"/><stop offset="0.088" stop-color="#59c4de"/><stop offset="0.096" stop-color="#4ac2e7"/><stop offset="0.104" stop-color="#3cbded"/><stop offset="0.112" stop-color="#30a9e6"/><stop offset="0.12" stop-color="#307fc8"/><stop offset="0.128" stop-color="#3666b5"/><stop offset="0.136" stop-color="#395aac"/><stop offset="0.144" stop-color="#3a55a9"/><stop offset="0.152" stop-color="#3a54a8"/><stop offset="0.16" stop-color="#3950a5"/><stop offset="0.168" stop-color="#374ca3"/><stop offset="0.176" stop-color="#3649a1"/><stop offset="0.184" stop-color="#3547a0"/><stop offset="0.192" stop-color="#35469f"/><stop offset="0.2" stop-color="#35469f"/><stop offset="0.24" stop-color="#34429d"/><stop offset="0.28" stop-color="#323e9a"/><stop offset="0.34" stop-color="#303996"/><stop offset="0.4" stop-color="#2f3493"/><stop offset="0.48" stop-color="#2d3190"/><stop offset="0.56" stop-color="#2e3292"/><stop offset="0.66" stop-color="#2e3292"/><stop offset="0.8" stop-color="#2e3292"/><stop offset="1" stop-color="#2e3292"/></linearGradient><linearGradient id="g22"><stop offset="0" stop-color="#ba1a21"/><stop offset="0.008" stop-color="#cd1e23"/><stop offset="0.016" stop-color="#db2125"/><stop offset="0.024" stop-color="#ea3e25"/><stop offset="0.032" stop-color="#f59420"/><stop offset="0.04" stop-color="#f6d71e"/><stop offset="0.048" stop-color="#d9dd2f"/><stop offset="0.056" stop-color="#b0d14e"/><stop offset="0.064" stop-color="#96cb7c"/><stop offset="0.072" stop-color="#7ec8ac"/><stop offset="0.08" stop-color="#6fc8d1"/><stop offset="0.088" stop-color="#5ac4dd"/><stop offset="0.096" stop-color="#4ac2e7"/><stop offset="0.104" stop-color="#3dbeed"/><stop offset="0.112" stop-color="#31abe6"/><stop offset="0.12" stop-color="#3082ca"/><stop offset="0.128" stop-color="#3567b6"/><stop offset="0.136" stop-color="#395aac"/><stop offset="0.144" stop-color="#3a55a9"/><stop offset="0.152" stop-color="#3a54a8"/><stop offset="0.16" stop-color="#3951a6"/><stop offset="0.168" stop-color="#384ea4"/><stop offset="0.176" stop-color="#374ca3"/><stop offset="0.184" stop-color="#374aa2"/><stop offset="0.192" stop-color="#364aa1"/><stop offset="0.2" stop-color="#3649a1"/><stop offset="0.24" stop-color="#35469f"/><stop offset="0.28" stop-color="#34429c"/><stop offset="0.34" stop-color="#323c98"/><stop offset="0.4" stop-color="#303695"/><stop offset="0.48" stop-color="#2e3291"/><stop offset="0.56" stop-color="#2e3292"/><stop offset="0.66" stop-color="#2e3292"/><stop offset="0.8" stop-color="#2e3292"/><stop offset="1" stop-color="#2e3292"/></linearGradient><linearGradient id="g23"><stop offset="0" stop-color="#ba1a21"/><stop offset="0.008" stop-color="#cc1e23"/><stop offset="0.016" stop-color="#d92024"/><stop offset="0.024" stop-color="#e82f25"/><stop offset="0.032" stop-color="#f27622"/><stop offset="0.04" stop-color="#f8c21e"/><stop offset="0.048" stop-color="#f4e61e"/><stop offset="0.056" stop-color="#c1d63e"/><stop offset="0.064" stop-color="#a8cf5c"/><stop offset="0.072" stop-color="#8dc98a"/><stop offset="0.08" stop-color="#7cc8b2"/><stop offset="0.088" stop-color="#6cc7d2"/><stop offset="0.096" stop-color="#5ac4dd"/><stop offset="0.104" stop-color="#4bc2e6"/><stop offset="0.112" stop-color="#3ec0ee"/><stop offset="0.12" stop-color="#36b3e9"/><stop offset="0.128" stop-color="#2f8fd4"/><stop offset="0.136" stop-color="#346ebb"/><stop offset="0.144" stop-color="#385daf"/><stop offset="0.152" stop-color="#3956aa"/><stop offset="0.16" stop-color="#3850a5"/><stop offset="0.168" stop-color="#374ba2"/><stop offset="0.176" stop-color="#35469f"/><stop offset="0.184" stop-color="#34439d"/><stop offset="0.192" stop-color="#34429c"/><stop offset="0.2" stop-color="#33429c"/><stop offset="0.24" stop-color="#323f9a"/><stop offset="0.28" stop-color="#313b98"/><stop offset="0.34" stop-color="#303795"/><stop offset="0.4" stop-color="#2f3594"/><stop offset="0.48" stop-color="#2e3291"/><stop offset="0.56" stop-color="#2e3392"/><stop offset="0.66" stop-color="#2e3292"/><stop offset="0.8" stop-color="#2e3292"/><stop offset="1" stop-color="#2e3292"/></linearGradient><linearGradient id="g24"><stop offset="0" stop-color="#ba1a21"/><stop offset="0.008" stop-color="#cd1e23"/><stop offset="0.016" stop-color="#db2125"/><stop offset="0.024" stop-color="#eb3f25"/><stop offset="0.032" stop-color="#f59620"/><stop offset="0.04" stop-color="#f6d81e"/><stop offset="0.048" stop-color="#d7dd30"/><stop offset="0.056" stop-color="#afd14f"/><stop offset="0.064" stop-color="#94cb7f"/><stop offset="0.072" stop-color="#7ec8ae"/><stop offset="0.08" stop-color="#6dc8d2"/><stop offset="0.088" stop-color="#59c4de"/><stop offset="0.096" stop-color="#49c2e7"/><stop offset="0.104" stop-color="#3cbded"/><stop offset="0.112" stop-color="#2fa9e5"/><stop offset="0.12" stop-color="#307ec7"/><stop offset="0.128" stop-color="#3665b5"/><stop offset="0.136" stop-color="#3959ac"/><stop offset="0.144" stop-color="#3a55a9"/><stop offset="0.152" stop-color="#3a54a8"/><stop offset="0.16" stop-color="#3951a6"/><stop offset="0.168" stop-color="#384ea4"/><stop offset="0.176" stop-color="#374ca3"/><stop offset="0.184" stop-color="#374aa2"/><stop offset="0.192" stop-color="#364aa1"/><stop offset="0.2" stop-color="#3649a1"/><stop offset="0.24" stop-color="#35459f"/><stop offset="0.28" stop-color="#33429c"/><stop offset="0.34" stop-color="#313c98"/><stop offset="0.4" stop-color="#2f3695"/><stop offset="0.48" stop-color="#2e3291"/><stop offset="0.56" stop-color="#2e3292"/><stop offset="0.66" stop-color="#2e3292"/><stop offset="0.8" stop-color="#2e3292"/><stop offset="1" stop-color="#2e3292"/></linearGradient><linearGradient id="g25"><stop offset="0" stop-color="#ba1a21"/><stop offset="0.008" stop-color="#cb1e23"/><stop offset="0.016" stop-color="#d82024"/><stop offset="0.024" stop-color="#e72b26"/><stop offset="0.032" stop-color="#f16f22"/><stop offset="0.04" stop-color="#f8b91e"/><stop offset="0.048" stop-color="#f5e21e"/><stop offset="0.056" stop-color="#cad939"/><stop offset="0.064" stop-color="#acd054"/><stop offset="0.072" stop-color="#94cb7f"/><stop offset="0.08" stop-color="#7fc8aa"/><stop offset="0.088" stop-color="#72c8cc"/><stop offset="0.096" stop-color="#5fc5da"/><stop offset="0.104" stop-color="#4fc3e4"/><stop offset="0.112" stop-color="#43c1eb"/><stop offset="0.12" stop-color="#39b8eb"/><stop offset="0.128" stop-color="#2d9fdf"/><stop offset="0.136" stop-color="#3178c2"/><stop offset="0.144" stop-color="#3665b4"/><stop offset="0.152" stop-color="#395aac"/><stop offset="0.16" stop-color="#3957aa"/><stop offset="0.168" stop-color="#3956aa"/><stop offset="0.176" stop-color="#3956aa"/><stop offset="0.184" stop-color="#3a56a9"/><stop offset="0.192" stop-color="#3a55a9"/><stop offset="0.2" stop-color="#3a54a8"/><stop offset="0.24" stop-color="#3951a6"/><stop offset="0.28" stop-color="#384ea4"/><stop offset="0.34" stop-color="#3648a1"/><stop offset="0.4" stop-color="#34429c"/><stop offset="0.48" stop-color="#303896"/><stop offset="0.56" stop-color="#2e3392"/><stop offset="0.66" stop-color="#2e3292"/><stop offset="0.8" stop-color="#2e3292"/><stop offset="1" stop-color="#2e3292"/></linearGradient><linearGradient id="g26"><stop offset="0" stop-color="#ba1a21"/><stop offset="0.008" stop-color="#cb1e23"/><stop offset="0.016" stop-color="#d82024"/><stop offset="0.024" stop-color="#e72926"/><stop offset="0.032" stop-color="#f16d22"/><stop offset="0.04" stop-color="#f7b71e"/><stop offset="0.048" stop-color="#f5e11e"/><stop offset="0.056" stop-color="#cdda37"/><stop offset="0.064" stop-color="#add052"/><stop offset="0.072" stop-color="#96cb7c"/><stop offset="0.08" stop-color="#80c8a7"/><stop offset="0.088" stop-color="#73c8c9"/><stop offset="0.096" stop-color="#60c5d9"/><stop offset="0.104" stop-color="#50c3e3"/><stop offset="0.112" stop-color="#45c1ea"/><stop offset="0.12" stop-color="#3abaec"/><stop offset="0.128" stop-color="#2da4e3"/><stop offset="0.136" stop-color="#307dc6"/><stop offset="0.144" stop-color="#3567b6"/><stop offset="0.152" stop-color="#385bad"/><stop offset="0.16" stop-color="#3957aa"/><stop offset="0.168" stop-color="#3956aa"/><stop offset="0.176" stop-color="#3a56a9"/><stop offset="0.184" stop-color="#3a55a9"/><stop offset="0.192" stop-color="#3a54a8"/><stop offset="0.2" stop-color="#3a54a8"/><stop offset="0.24" stop-color="#3951a6"/><stop offset="0.28" stop-color="#384ea4"/><stop offset="0.34" stop-color="#3648a0"/><stop offset="0.4" stop-color="#34429c"/><stop offset="0.48" stop-color="#303896"/><stop offset="0.56" stop-color="#2e3393"/><stop offset="0.66" stop-color="#2e3292"/><stop offset="0.8" stop-color="#2e3292"/><stop offset="1" stop-color="#2e3292"/></linearGradient><linearGradient id="g27"><stop offset="0" stop-color="#ba1a21"/><stop offset="0.008" stop-color="#d21f24"/><stop offset="0.016" stop-color="#e72626"/><stop offset="0.024" stop-color="#f48c21"/><stop offset="0.032" stop-color="#f6de1e"/><stop offset="0.04" stop-color="#bdd540"/><stop offset="0.048" stop-color="#9acc74"/><stop offset="0.056" stop-color="#7cc8b2"/><stop offset="0.064" stop-color="#64c6d7"/><stop offset="0.072" stop-color="#4dc2e5"/><stop offset="0.08" stop-color="#3cbded"/><stop offset="0.088" stop-color="#2e9cdd"/><stop offset="0.096" stop-color="#346cba"/><stop offset="0.104" stop-color="#395aac"/><stop offset="0.112" stop-color="#3a55a9"/><stop offset="0.12" stop-color="#3a54a8"/><stop offset="0.128" stop-color="#3952a7"/><stop offset="0.136" stop-color="#3952a6"/><stop offset="0.144" stop-color="#3951a6"/><stop offset="0.152" stop-color="#3850a5"/><stop offset="0.16" stop-color="#384ea4"/><stop offset="0.168" stop-color="#374ca3"/><stop offset="0.176" stop-color="#374aa2"/><stop offset="0.184" stop-color="#3649a1"/><stop offset="0.192" stop-color="#3648a0"/><stop offset="0.2" stop-color="#35479f"/><stop offset="0.24" stop-color="#33429c"/><stop offset="0.28" stop-color="#313c98"/><stop offset="0.34" stop-color="#2e3292"/><stop offset="0.4" stop-color="#2e3191"/><stop offset="0.48" stop-color="#2e3291"/><stop offset="0.56" stop-color="#2e3292"/><stop offset="0.66" stop-color="#2e3292"/><stop offset="0.8" stop-color="#2e3292"/><stop offset="1" stop-color="#2e3292"/></linearGradient><linearGradient id="g28"><stop offset="0" stop-color="#ba1a21"/><stop offset="0.008" stop-color="#cb1e23"/><stop offset="0.016" stop-color="#d82024"/><stop offset="0.024" stop-color="#e72826"/><stop offset="0.032" stop-color="#f16b22"/><stop offset="0.04" stop-color="#f7b41e"/><stop offset="0.048" stop-color="#f5e01e"/><stop offset="0.056" stop-color="#cfda35"/><stop offset="0.064" stop-color="#aed150"/><stop offset="0.072" stop-color="#97cc79"/><stop offset="0.08" stop-color="#81c8a5"/><stop offset="0.088" stop-color="#74c8c6"/><stop offset="0.096" stop-color="#62c6d9"/><stop offset="0.104" stop-color="#51c3e3"/><stop offset="0.112" stop-color="#46c1e9"/><stop offset="0.12" stop-color="#3bbbec"/><stop offset="0.128" stop-color="#2ea7e5"/><stop offset="0.136" stop-color="#3081c9"/><stop offset="0.144" stop-color="#3569b7"/><stop offset="0.152" stop-color="#385aad"/><stop offset="0.16" stop-color="#3a53a7"/><stop offset="0.168" stop-color="#384fa5"/><stop offset="0.176" stop-color="#374ba2"/><stop offset="0.184" stop-color="#3649a1"/><stop offset="0.192" stop-color="#3648a1"/><stop offset="0.2" stop-color="#3648a0"/><stop offset="0.24" stop-color="#35459e"/><stop offset="0.28" stop-color="#34429c"/><stop offset="0.34" stop-color="#323d99"/><stop offset="0.4" stop-color="#313a97"/><stop offset="0.48" stop-color="#2f3594"/><stop offset="0.56" stop-color="#2e3393"/><stop offset="0.66" stop-color="#2e3292"/><stop offset="0.8" stop-color="#2e3292"/><stop offset="1" stop-color="#2e3292"/></linearGradient><linearGradient id="g29"><stop offset="0" stop-color="#ba1a21"/><stop offset="0.008" stop-color="#cd1e23"/><stop offset="0.016" stop-color="#db2125"/><stop offset="0.024" stop-color="#ea3a25"/><stop offset="0.032" stop-color="#f48c21"/><stop offset="0.04" stop-color="#f6d41e"/><stop offset="0.048" stop-color="#e0df2b"/><stop offset="0.056" stop-color="#b3d248"/><stop offset="0.064" stop-color="#9bcc73"/><stop offset="0.072" stop-color="#81c8a5"/><stop offset="0.08" stop-color="#72c8ca"/><stop offset="0.088" stop-color="#5ec5db"/><stop offset="0.096" stop-color="#4dc2e5"/><stop offset="0.104" stop-color="#40c0ed"/><stop offset="0.112" stop-color="#36b4e9"/><stop offset="0.12" stop-color="#2f8ed3"/><stop offset="0.128" stop-color="#346dba"/><stop offset="0.136" stop-color="#385cae"/><stop offset="0.144" stop-color="#3957aa"/><stop offset="0.152" stop-color="#3a54a8"/><stop offset="0.16" stop-color="#3950a6"/><stop offset="0.168" stop-color="#374da3"/><stop offset="0.176" stop-color="#3649a1"/><stop offset="0.184" stop-color="#3648a0"/><stop offset="0.192" stop-color="#3547a0"/><stop offset="0.2" stop-color="#35469f"/><stop offset="0.24" stop-color="#34439d"/><stop offset="0.28" stop-color="#333f9a"/><stop offset="0.34" stop-color="#313a97"/><stop offset="0.4" stop-color="#2f3594"/><stop offset="0.48" stop-color="#2d3190"/><stop offset="0.56" stop-color="#2e3292"/><stop offset="0.66" stop-color="#2e3292"/><stop offset="0.8" stop-color="#2e3292"/><stop offset="1" stop-color="#2e3292"/></linearGradient><linearGradient id="g30"><stop offset="0" stop-color="#ba1a21"/><stop offset="0.008" stop-color="#ca1d23"/><stop offset="0.016" stop-color="#d62024"/><stop offset="0.024" stop-color="#e22225"/><stop offset="0.032" stop-color="#ee5424"/><stop offset="0.04" stop-color="#f59c20"/><stop offset="0.048" stop-color="#f6d41e"/><stop offset="0.056" stop-color="#e8e226"/><stop offset="0.064" stop-color="#bdd541"/><stop offset="0.072" stop-color="#a7cf5d"/><stop offset="0.08" stop-color="#90ca87"/><stop offset="0.088" stop-color="#7ec8ac"/><stop offset="0.096" stop-color="#72c8cb"/><stop offset="0.104" stop-color="#60c6d9"/><stop offset="0.112" stop-color="#51c3e3"/><stop offset="0.12" stop-color="#47c1e9"/><stop offset="0.128" stop-color="#3cbced"/><stop offset="0.136" stop-color="#32ade7"/><stop offset="0.144" stop-color="#2f8cd2"/><stop offset="0.152" stop-color="#346ebb"/><stop offset="0.16" stop-color="#385bad"/><stop offset="0.168" stop-color="#3951a6"/><stop offset="0.176" stop-color="#374ba2"/><stop offset="0.184" stop-color="#3649a1"/><stop offset="0.192" stop-color="#3648a0"/><stop offset="0.2" stop-color="#3648a0"/><stop offset="0.24" stop-color="#35459e"/><stop offset="0.28" stop-color="#34429c"/><stop offset="0.34" stop-color="#323e9a"/><stop offset="0.4" stop-color="#323c98"/><stop offset="0.48" stop-color="#303896"/><stop offset="0.56" stop-color="#2f3493"/><stop offset="0.66" stop-color="#2e3292"/><stop offset="0.8" stop-color="#2e3292"/><stop offset="1" stop-color="#2e3292"/></linearGradient><linearGradient id="g31"><stop offset="0" stop-color="#ba1a21"/><stop offset="0.008" stop-color="#ce1e23"/><stop offset="0.016" stop-color="#dc2125"/><stop offset="0.024" stop-color="#eb4124"/><stop offset="0.032" stop-color="#f59a20"/><stop offset="0.04" stop-color="#f6d91e"/><stop offset="0.048" stop-color="#d3dc33"/><stop offset="0.056" stop-color="#add053"/><stop offset="0.064" stop-color="#91ca84"/><stop offset="0.072" stop-color="#7cc8b2"/><stop offset="0.08" stop-color="#6ac7d4"/><stop offset="0.088" stop-color="#56c4e0"/><stop offset="0.096" stop-color="#48c2e8"/><stop offset="0.104" stop-color="#3bbbec"/><stop offset="0.112" stop-color="#2da3e2"/><stop offset="0.12" stop-color="#3276c1"/><stop offset="0.128" stop-color="#3762b2"/><stop offset="0.136" stop-color="#3958ab"/><stop offset="0.144" stop-color="#3a55a9"/><stop offset="0.152" stop-color="#3a54a8"/><stop offset="0.16" stop-color="#3952a6"/><stop offset="0.168" stop-color="#3850a5"/><stop offset="0.176" stop-color="#384ea4"/><stop offset="0.184" stop-color="#374da3"/><stop offset="0.192" stop-color="#374ca3"/><stop offset="0.2" stop-color="#374ba2"/><stop offset="0.24" stop-color="#3648a0"/><stop offset="0.28" stop-color="#34449e"/><stop offset="0.34" stop-color="#323e9a"/><stop offset="0.4" stop-color="#303795"/><stop offset="0.48" stop-color="#2e3292"/><stop offset="0.56" stop-color="#2e3292"/><stop offset="0.66" stop-color="#2e3292"/><stop offset="0.8" stop-color="#2e3292"/><stop offset="1" stop-color="#2e3292"/></linearGradient><linearGradient id="g32"><stop offset="0" stop-color="#ba1a21"/><stop offset="0.008" stop-color="#cb1e23"/><stop offset="0.016" stop-color="#d82024"/><stop offset="0.024" stop-color="#e72826"/><stop offset="0.032" stop-color="#f16a22"/><stop offset="0.04" stop-color="#f7b41f"/><stop offset="0.048" stop-color="#f5e01e"/><stop offset="0.056" stop-color="#cfda35"/><stop offset="0.064" stop-color="#aed150"/><stop offset="0.072" stop-color="#98cc78"/><stop offset="0.08" stop-color="#81c8a5"/><stop offset="0.088" stop-color="#74c8c6"/><stop offset="0.096" stop-color="#62c6d9"/><stop offset="0.104" stop-color="#51c3e2"/><stop offset="0.112" stop-color="#46c1e9"/><stop offset="0.12" stop-color="#3bbbec"/><stop offset="0.128" stop-color="#2fa8e5"/><stop offset="0.136" stop-color="#3082ca"/><stop offset="0.144" stop-color="#3569b8"/><stop offset="0.152" stop-color="#385bad"/><stop offset="0.16" stop-color="#3a55a9"/><stop offset="0.168" stop-color="#3a53a7"/><stop offset="0.176" stop-color="#3951a6"/><stop offset="0.184" stop-color="#3850a5"/><stop offset="0.192" stop-color="#384fa5"/><stop offset="0.2" stop-color="#384ea4"/><stop offset="0.24" stop-color="#374ba2"/><stop offset="0.28" stop-color="#3648a0"/><stop offset="0.34" stop-color="#34439d"/><stop offset="0.4" stop-color="#323f9a"/><stop offset="0.48" stop-color="#303795"/><stop offset="0.56" stop-color="#2e3393"/><stop offset="0.66" stop-color="#2e3292"/><stop offset="0.8" stop-color="#2e3292"/><stop offset="1" stop-color="#2e3292"/></linearGradient><linearGradient id="g33"><stop offset="0" stop-color="#ba1a21"/><stop offset="0.008" stop-color="#cc1e23"/><stop offset="0.016" stop-color="#d92024"/><stop offset="0.024" stop-color="#e83025"/><stop offset="0.032" stop-color="#f27922"/><stop offset="0.04" stop-color="#f8c41e"/><stop offset="0.048" stop-color="#f2e520"/><stop offset="0.056" stop-color="#c0d63f"/><stop offset="0.064" stop-color="#a7cf5e"/><stop offset="0.072" stop-color="#8cc98e"/><stop offset="0.08" stop-color="#7bc8b5"/><stop offset="0.088" stop-color="#6ac7d4"/><stop offset="0.096" stop-color="#58c4de"/><stop offset="0.104" stop-color="#4ac2e7"/><stop offset="0.112" stop-color="#3dbfed"/><stop offset="0.12" stop-color="#34b0e8"/><stop offset="0.128" stop-color="#2f8bd0"/><stop offset="0.136" stop-color="#346cba"/><stop offset="0.144" stop-color="#385cae"/><stop offset="0.152" stop-color="#3957aa"/><stop offset="0.16" stop-color="#3a54a8"/><stop offset="0.168" stop-color="#3952a7"/><stop offset="0.176" stop-color="#3951a6"/><stop offset="0.184" stop-color="#3850a5"/><stop offset="0.192" stop-color="#384fa5"/><stop offset="0.2" stop-color="#384fa4"/><stop offset="0.24" stop-color="#374ba2"/><stop offset="0.28" stop-color="#3648a0"/><stop offset="0.34" stop-color="#34439d"/><stop offset="0.4" stop-color="#323d99"/><stop offset="0.48" stop-color="#2f3594"/><stop offset="0.56" stop-color="#2e3392"/><stop offset="0.66" stop-color="#2e3292"/><stop offset="0.8" stop-color="#2e3292"/><stop offset="1" stop-color="#2e3292"/></linearGradient><linearGradient id="g34"><stop offset="0" stop-color="#ba1a21"/><stop offset="0.008" stop-color="#cd1e23"/><stop offset="0.016" stop-color="#db2125"/><stop offset="0.024" stop-color="#eb3e25"/><stop offset="0.032" stop-color="#f59520"/><stop offset="0.04" stop-color="#f6d71e"/><stop offset="0.048" stop-color="#d8dd30"/><stop offset="0.056" stop-color="#afd14e"/><stop offset="0.064" stop-color="#95cb7d"/><stop offset="0.072" stop-color="#7ec8ad"/><stop offset="0.08" stop-color="#6ec8d1"/><stop offset="0.088" stop-color="#59c4de"/><stop offset="0.096" stop-color="#4ac2e7"/><stop offset="0.104" stop-color="#3cbded"/><stop offset="0.112" stop-color="#30aae6"/><stop offset="0.12" stop-color="#3080c8"/><stop offset="0.128" stop-color="#3666b5"/><stop offset="0.136" stop-color="#395aac"/><stop offset="0.144" stop-color="#3a55a9"/><stop offset="0.152" stop-color="#3a55a8"/><stop offset="0.16" stop-color="#3a55a9"/><stop offset="0.168" stop-color="#3a55a9"/><stop offset="0.176" stop-color="#3a56a9"/><stop offset="0.184" stop-color="#3a56a9"/><stop offset="0.192" stop-color="#3a55a9"/><stop offset="0.2" stop-color="#3a54a8"/><stop offset="0.24" stop-color="#3951a6"/><stop offset="0.28" stop-color="#374da3"/><stop offset="0.34" stop-color="#35469f"/><stop offset="0.4" stop-color="#323e9a"/><stop offset="0.48" stop-color="#2f3493"/><stop offset="0.56" stop-color="#2e3292"/><stop offset="0.66" stop-color="#2e3292"/><stop offset="0.8" stop-color="#2e3292"/><stop offset="1" stop-color="#2e3292"/></linearGradient><linearGradient id="g35"><stop offset="0" stop-color="#ba1a21"/><stop offset="0.008" stop-color="#c81d22"/><stop offset="0.016" stop-color="#d41f24"/><stop offset="0.024" stop-color="#de2125"/><stop offset="0.032" stop-color="#ea3c25"/><stop offset="0.04" stop-color="#f27a22"/><stop offset="0.048" stop-color="#f8b81e"/><stop offset="0.056" stop-color="#f6dd1e"/><stop offset="0.064" stop-color="#dcde2d"/><stop offset="0.072" stop-color="#b8d343"/><stop offset="0.08" stop-color="#a6cf60"/><stop offset="0.088" stop-color="#90ca86"/><stop offset="0.096" stop-color="#7fc8a9"/><stop offset="0.104" stop-color="#74c8c5"/><stop offset="0.112" stop-color="#65c6d7"/><stop offset="0.12" stop-color="#57c4df"/><stop offset="0.128" stop-color="#4cc2e6"/><stop offset="0.136" stop-color="#42c1ec"/><stop offset="0.144" stop-color="#3ab9eb"/><stop offset="0.152" stop-color="#2fa8e5"/><stop offset="0.16" stop-color="#2f8dd2"/><stop offset="0.168" stop-color="#3178c3"/><stop offset="0.176" stop-color="#336fbc"/><stop offset="0.184" stop-color="#356bb8"/><stop offset="0.192" stop-color="#3567b6"/><stop offset="0.2" stop-color="#3666b5"/><stop offset="0.24" stop-color="#3762b2"/><stop offset="0.28" stop-color="#375fb0"/><stop offset="0.34" stop-color="#3959ac"/><stop offset="0.4" stop-color="#3950a6"/><stop offset="0.48" stop-color="#35459e"/><stop offset="0.56" stop-color="#303996"/><stop offset="0.66" stop-color="#2e3393"/><stop offset="0.8" stop-color="#2e3292"/><stop offset="1" stop-color="#2e3292"/></linearGradient><linearGradient id="g36"><stop offset="0" stop-color="#ba1a21"/><stop offset="0.008" stop-color="#c91d22"/><stop offset="0.016" stop-color="#d52024"/><stop offset="0.024" stop-color="#df2225"/><stop offset="0.032" stop-color="#eb4025"/><stop offset="0.04" stop-color="#f38121"/><stop offset="0.048" stop-color="#f8bf1e"/><stop offset="0.056" stop-color="#f5e01e"/><stop offset="0.064" stop-color="#d5dc32"/><stop offset="0.072" stop-color="#b4d247"/><stop offset="0.08" stop-color="#a2ce66"/><stop offset="0.088" stop-color="#8ac990"/><stop offset="0.096" stop-color="#7dc8b0"/><stop offset="0.104" stop-color="#71c8cc"/><stop offset="0.112" stop-color="#61c6d9"/><stop offset="0.12" stop-color="#52c3e2"/><stop offset="0.128" stop-color="#48c2e8"/><stop offset="0.136" stop-color="#3dbfee"/><stop offset="0.144" stop-color="#37b5ea"/><stop offset="0.152" stop-color="#2e9bdc"/><stop offset="0.16" stop-color="#307bc5"/><stop offset="0.168" stop-color="#346bb9"/><stop offset="0.176" stop-color="#3760b0"/><stop offset="0.184" stop-color="#385cae"/><stop offset="0.192" stop-color="#395aac"/><stop offset="0.2" stop-color="#3959ac"/><stop offset="0.24" stop-color="#3a55a9"/><stop offset="0.28" stop-color="#3a53a7"/><stop offset="0.34" stop-color="#384ea4"/><stop offset="0.4" stop-color="#3649a1"/><stop offset="0.48" stop-color="#33419c"/><stop offset="0.56" stop-color="#303896"/><stop offset="0.66" stop-color="#2e3392"/><stop offset="0.8" stop-color="#2e3292"/><stop offset="1" stop-color="#2e3292"/></linearGradient><linearGradient id="g37"><stop offset="0" stop-color="#ba1a21"/><stop offset="0.008" stop-color="#ca1d23"/><stop offset="0.016" stop-color="#d72024"/><stop offset="0.024" stop-color="#e32226"/><stop offset="0.032" stop-color="#ef5923"/><stop offset="0.04" stop-color="#f6a11f"/><stop offset="0.048" stop-color="#f6d71e"/><stop offset="0.056" stop-color="#e3e029"/><stop offset="0.064" stop-color="#b9d443"/><stop offset="0.072" stop-color="#a4ce62"/><stop offset="0.08" stop-color="#8bc98f"/><stop offset="0.088" stop-color="#7cc8b2"/><stop offset="0.096" stop-color="#6fc8d1"/><stop offset="0.104" stop-color="#5dc5db"/><stop offset="0.112" stop-color="#4fc3e4"/><stop offset="0.12" stop-color="#44c1ea"/><stop offset="0.128" stop-color="#3abaec"/><stop offset="0.136" stop-color="#2ea6e4"/><stop offset="0.144" stop-color="#3082ca"/><stop offset="0.152" stop-color="#356ab8"/><stop offset="0.16" stop-color="#385bad"/><stop offset="0.168" stop-color="#3a55a9"/><stop offset="0.176" stop-color="#3952a7"/><stop offset="0.184" stop-color="#3951a6"/><stop offset="0.192" stop-color="#3950a6"/><stop offset="0.2" stop-color="#3850a5"/><stop offset="0.24" stop-color="#374da3"/><stop offset="0.28" stop-color="#364aa2"/><stop offset="0.34" stop-color="#35459f"/><stop offset="0.4" stop-color="#33419c"/><stop offset="0.48" stop-color="#313a97"/><stop offset="0.56" stop-color="#2e3393"/><stop offset="0.66" stop-color="#2e3292"/><stop offset="0.8" stop-color="#2e3292"/><stop offset="1" stop-color="#2e3292"/></linearGradient><linearGradient id="g38"><stop offset="0" stop-color="#ba1a21"/><stop offset="0.008" stop-color="#ca1d23"/><stop offset="0.016" stop-color="#d62024"/><stop offset="0.024" stop-color="#e12225"/><stop offset="0.032" stop-color="#ee5224"/><stop offset="0.04" stop-color="#f59a20"/><stop offset="0.048" stop-color="#f6d31e"/><stop offset="0.056" stop-color="#eae325"/><stop offset="0.064" stop-color="#bed540"/><stop offset="0.072" stop-color="#a8cf5b"/><stop offset="0.08" stop-color="#91ca84"/><stop offset="0.088" stop-color="#7fc8aa"/><stop offset="0.096" stop-color="#73c8c8"/><stop offset="0.104" stop-color="#62c6d9"/><stop offset="0.112" stop-color="#52c3e2"/><stop offset="0.12" stop-color="#48c2e8"/><stop offset="0.128" stop-color="#3cbded"/><stop offset="0.136" stop-color="#34b0e8"/><stop offset="0.144" stop-color="#2f91d5"/><stop offset="0.152" stop-color="#3371bd"/><stop offset="0.16" stop-color="#3664b4"/><stop offset="0.168" stop-color="#385daf"/><stop offset="0.176" stop-color="#385bad"/><stop offset="0.184" stop-color="#385aad"/><stop offset="0.192" stop-color="#3959ac"/><stop offset="0.2" stop-color="#3959ab"/><stop offset="0.24" stop-color="#3a55a9"/><stop offset="0.28" stop-color="#3952a7"/><stop offset="0.34" stop-color="#384da4"/><stop offset="0.4" stop-color="#3547a0"/><stop offset="0.48" stop-color="#323e9a"/><stop offset="0.56" stop-color="#2f3493"/><stop offset="0.66" stop-color="#2e3292"/><stop offset="0.8" stop-color="#2e3292"/><stop offset="1" stop-color="#2e3292"/></linearGradient><linearGradient id="g39"><stop offset="0" stop-color="#ba1a21"/><stop offset="0.008" stop-color="#ca1d23"/><stop offset="0.016" stop-color="#d72024"/><stop offset="0.024" stop-color="#e52326"/><stop offset="0.032" stop-color="#f06023"/><stop offset="0.04" stop-color="#f6a81f"/><stop offset="0.048" stop-color="#f6da1e"/><stop offset="0.056" stop-color="#dbde2e"/><stop offset="0.064" stop-color="#b4d246"/><stop offset="0.072" stop-color="#a0ce69"/><stop offset="0.08" stop-color="#86c898"/><stop offset="0.088" stop-color="#79c8b9"/><stop offset="0.096" stop-color="#69c7d4"/><stop offset="0.104" stop-color="#58c4de"/><stop offset="0.112" stop-color="#4bc2e6"/><stop offset="0.12" stop-color="#3fc0ed"/><stop offset="0.128" stop-color="#38b6ea"/><stop offset="0.136" stop-color="#2e98da"/><stop offset="0.144" stop-color="#3274bf"/><stop offset="0.152" stop-color="#3664b3"/><stop offset="0.16" stop-color="#395aac"/><stop offset="0.168" stop-color="#3a55a9"/><stop offset="0.176" stop-color="#3a54a8"/><stop offset="0.184" stop-color="#3a53a7"/><stop offset="0.192" stop-color="#3952a7"/><stop offset="0.2" stop-color="#3952a6"/><stop offset="0.24" stop-color="#384fa5"/><stop offset="0.28" stop-color="#374ca3"/><stop offset="0.34" stop-color="#3547a0"/><stop offset="0.4" stop-color="#34429c"/><stop offset="0.48" stop-color="#313a97"/><stop offset="0.56" stop-color="#2e3393"/><stop offset="0.66" stop-color="#2e3292"/><stop offset="0.8" stop-color="#2e3292"/><stop offset="1" stop-color="#2e3292"/></linearGradient><linearGradient id="g40"><stop offset="0" stop-color="#ba1a21"/><stop offset="0.008" stop-color="#cc1e23"/><stop offset="0.016" stop-color="#d92024"/><stop offset="0.024" stop-color="#e82f25"/><stop offset="0.032" stop-color="#f27822"/><stop offset="0.04" stop-color="#f8c31e"/><stop offset="0.048" stop-color="#f3e51f"/><stop offset="0.056" stop-color="#c0d63f"/><stop offset="0.064" stop-color="#a7cf5d"/><stop offset="0.072" stop-color="#8cc98d"/><stop offset="0.08" stop-color="#7bc8b4"/><stop offset="0.088" stop-color="#6bc7d3"/><stop offset="0.096" stop-color="#59c4de"/><stop offset="0.104" stop-color="#4bc2e6"/><stop offset="0.112" stop-color="#3dbfee"/><stop offset="0.12" stop-color="#34b1e8"/><stop offset="0.128" stop-color="#2f8dd2"/><stop offset="0.136" stop-color="#346dba"/><stop offset="0.144" stop-color="#385cae"/><stop offset="0.152" stop-color="#3957aa"/><stop offset="0.16" stop-color="#3952a7"/><stop offset="0.168" stop-color="#384fa5"/><stop offset="0.176" stop-color="#374ba2"/><stop offset="0.184" stop-color="#364aa1"/><stop offset="0.192" stop-color="#3649a1"/><stop offset="0.2" stop-color="#3648a0"/><stop offset="0.24" stop-color="#35459f"/><stop offset="0.28" stop-color="#34429c"/><stop offset="0.34" stop-color="#323d99"/><stop offset="0.4" stop-color="#313997"/><stop offset="0.48" stop-color="#2e3393"/><stop offset="0.56" stop-color="#2e3392"/><stop offset="0.66" stop-color="#2e3292"/><stop offset="0.8" stop-color="#2e3292"/><stop offset="1" stop-color="#2e3292"/></linearGradient><linearGradient id="g41"><stop offset="0" stop-color="#ba1a21"/><stop offset="0.008" stop-color="#c91d22"/><stop offset="0.016" stop-color="#d52024"/><stop offset="0.024" stop-color="#df2225"/><stop offset="0.032" stop-color="#eb4025"/><stop offset="0.04" stop-color="#f38121"/><stop offset="0.048" stop-color="#f8bf1e"/><stop offset="0.056" stop-color="#f5e11e"/><stop offset="0.064" stop-color="#d5dc32"/><stop offset="0.072" stop-color="#b4d247"/><stop offset="0.08" stop-color="#a2ce66"/><stop offset="0.088" stop-color="#8ac990"/><stop offset="0.096" stop-color="#7dc8b0"/><stop offset="0.104" stop-color="#71c8cc"/><stop offset="0.112" stop-color="#61c6d9"/><stop offset="0.12" stop-color="#52c3e2"/><stop offset="0.128" stop-color="#48c2e8"/><stop offset="0.136" stop-color="#3dbfee"/><stop offset="0.144" stop-color="#37b5ea"/><stop offset="0.152" stop-color="#2e99db"/><stop offset="0.16" stop-color="#3275c0"/><stop offset="0.168" stop-color="#3760b1"/><stop offset="0.176" stop-color="#3950a6"/><stop offset="0.184" stop-color="#374ba2"/><stop offset="0.192" stop-color="#364aa1"/><stop offset="0.2" stop-color="#3649a1"/><stop offset="0.24" stop-color="#35469f"/><stop offset="0.28" stop-color="#34439d"/><stop offset="0.34" stop-color="#33409b"/><stop offset="0.4" stop-color="#323e9a"/><stop offset="0.48" stop-color="#313c98"/><stop offset="0.56" stop-color="#303896"/><stop offset="0.66" stop-color="#2e3392"/><stop offset="0.8" stop-color="#2e3292"/><stop offset="1" stop-color="#2e3292"/></linearGradient><linearGradient id="g42"><stop offset="0" stop-color="#ba1a21"/><stop offset="0.008" stop-color="#cb1e23"/><stop offset="0.016" stop-color="#d82024"/><stop offset="0.024" stop-color="#e72b26"/><stop offset="0.032" stop-color="#f27022"/><stop offset="0.04" stop-color="#f8ba1e"/><stop offset="0.048" stop-color="#f5e31e"/><stop offset="0.056" stop-color="#c9d839"/><stop offset="0.064" stop-color="#abd055"/><stop offset="0.072" stop-color="#93cb81"/><stop offset="0.08" stop-color="#7fc8ab"/><stop offset="0.088" stop-color="#71c8cd"/><stop offset="0.096" stop-color="#5ec5db"/><stop offset="0.104" stop-color="#4ec3e4"/><stop offset="0.112" stop-color="#43c1eb"/><stop offset="0.12" stop-color="#39b8eb"/><stop offset="0.128" stop-color="#2e9dde"/><stop offset="0.136" stop-color="#3276c1"/><stop offset="0.144" stop-color="#3664b4"/><stop offset="0.152" stop-color="#395aac"/><stop offset="0.16" stop-color="#3956aa"/><stop offset="0.168" stop-color="#3a56a9"/><stop offset="0.176" stop-color="#3a55a9"/><stop offset="0.184" stop-color="#3a54a8"/><stop offset="0.192" stop-color="#3a54a8"/><stop offset="0.2" stop-color="#3a53a7"/><stop offset="0.24" stop-color="#3950a6"/><stop offset="0.28" stop-color="#384da3"/><stop offset="0.34" stop-color="#3647a0"/><stop offset="0.4" stop-color="#33419c"/><stop offset="0.48" stop-color="#303896"/><stop offset="0.56" stop-color="#2e3392"/><stop offset="0.66" stop-color="#2e3292"/><stop offset="0.8" stop-color="#2e3292"/><stop offset="1" stop-color="#2e3292"/></linearGradient><linearGradient id="g43"><stop offset="0" stop-color="#ba1a21"/><stop offset="0.008" stop-color="#cb1e23"/><stop offset="0.016" stop-color="#d92024"/><stop offset="0.024" stop-color="#e82c26"/><stop offset="0.032" stop-color="#f27222"/><stop offset="0.04" stop-color="#f8bd1e"/><stop offset="0.048" stop-color="#f5e41e"/><stop offset="0.056" stop-color="#c6d83b"/><stop offset="0.064" stop-color="#aad058"/><stop offset="0.072" stop-color="#91ca84"/><stop offset="0.08" stop-color="#7ec8ae"/><stop offset="0.088" stop-color="#70c8d0"/><stop offset="0.096" stop-color="#5cc5dc"/><stop offset="0.104" stop-color="#4dc2e5"/><stop offset="0.112" stop-color="#41c1ec"/><stop offset="0.12" stop-color="#38b6ea"/><stop offset="0.128" stop-color="#2e98da"/><stop offset="0.136" stop-color="#3372be"/><stop offset="0.144" stop-color="#3761b2"/><stop offset="0.152" stop-color="#3959ac"/><stop offset="0.16" stop-color="#3957aa"/><stop offset="0.168" stop-color="#3957aa"/><stop offset="0.176" stop-color="#3957aa"/><stop offset="0.184" stop-color="#3957aa"/><stop offset="0.192" stop-color="#3956aa"/><stop offset="0.2" stop-color="#3a56a9"/><stop offset="0.24" stop-color="#3952a7"/><stop offset="0.28" stop-color="#384fa5"/><stop offset="0.34" stop-color="#3649a1"/><stop offset="0.4" stop-color="#34439d"/><stop offset="0.48" stop-color="#303896"/><stop offset="0.56" stop-color="#2e3392"/><stop offset="0.66" stop-color="#2e3292"/><stop offset="0.8" stop-color="#2e3292"/><stop offset="1" stop-color="#2e3292"/></linearGradient><linearGradient id="g44"><stop offset="0" stop-color="#ba1a21"/><stop offset="0.008" stop-color="#cb1e23"/><stop offset="0.016" stop-color="#d82024"/><stop offset="0.024" stop-color="#e72726"/><stop offset="0.032" stop-color="#f16823"/><stop offset="0.04" stop-color="#f7b11f"/><stop offset="0.048" stop-color="#f6de1e"/><stop offset="0.056" stop-color="#d2db33"/><stop offset="0.064" stop-color="#b0d14d"/><stop offset="0.072" stop-color="#9acc75"/><stop offset="0.08" stop-color="#82c8a2"/><stop offset="0.088" stop-color="#75c8c3"/><stop offset="0.096" stop-color="#63c6d8"/><stop offset="0.104" stop-color="#53c3e2"/><stop offset="0.112" stop-color="#47c1e9"/><stop offset="0.12" stop-color="#3cbced"/><stop offset="0.128" stop-color="#31abe6"/><stop offset="0.136" stop-color="#2f87ce"/><stop offset="0.144" stop-color="#346cb9"/><stop offset="0.152" stop-color="#385cae"/><stop offset="0.16" stop-color="#3957aa"/><stop offset="0.168" stop-color="#3a55a9"/><stop offset="0.176" stop-color="#3a54a8"/><stop offset="0.184" stop-color="#3a53a7"/><stop offset="0.192" stop-color="#3952a7"/><stop offset="0.2" stop-color="#3952a7"/><stop offset="0.24" stop-color="#384fa5"/><stop offset="0.28" stop-color="#374ca3"/><stop offset="0.34" stop-color="#35479f"/><stop offset="0.4" stop-color="#33419c"/><stop offset="0.48" stop-color="#303896"/><stop offset="0.56" stop-color="#2e3393"/><stop offset="0.66" stop-color="#2e3292"/><stop offset="0.8" stop-color="#2e3292"/><stop offset="1" stop-color="#2e3292"/></linearGradient><linearGradient id="g45"><stop offset="0" stop-color="#ba1a21"/><stop offset="0.008" stop-color="#ca1d23"/><stop offset="0.016" stop-color="#d72024"/><stop offset="0.024" stop-color="#e32226"/><stop offset="0.032" stop-color="#ef5923"/><stop offset="0.04" stop-color="#f6a11f"/><stop offset="0.048" stop-color="#f6d71e"/><stop offset="0.056" stop-color="#e2e029"/><stop offset="0.064" stop-color="#b9d343"/><stop offset="0.072" stop-color="#a4ce62"/><stop offset="0.08" stop-color="#8bc98f"/><stop offset="0.088" stop-color="#7cc8b2"/><stop offset="0.096" stop-color="#6fc8d1"/><stop offset="0.104" stop-color="#5dc5db"/><stop offset="0.112" stop-color="#4fc3e4"/><stop offset="0.12" stop-color="#44c1eb"/><stop offset="0.128" stop-color="#3ab9ec"/><stop offset="0.136" stop-color="#2ea6e4"/><stop offset="0.144" stop-color="#3082c9"/><stop offset="0.152" stop-color="#356ab8"/><stop offset="0.16" stop-color="#385bad"/><stop offset="0.168" stop-color="#3956aa"/><stop offset="0.176" stop-color="#3a54a8"/><stop offset="0.184" stop-color="#3a53a7"/><stop offset="0.192" stop-color="#3952a7"/><stop offset="0.2" stop-color="#3951a6"/><stop offset="0.24" stop-color="#384fa4"/><stop offset="0.28" stop-color="#374ca3"/><stop offset="0.34" stop-color="#3547a0"/><stop offset="0.4" stop-color="#34429c"/><stop offset="0.48" stop-color="#313b98"/><stop offset="0.56" stop-color="#2e3393"/><stop offset="0.66" stop-color="#2e3292"/><stop offset="0.8" stop-color="#2e3292"/><stop offset="1" stop-color="#2e3292"/></linearGradient><linearGradient id="g46"><stop offset="0" stop-color="#ba1a21"/><stop offset="0.008" stop-color="#cc1e23"/><stop offset="0.016" stop-color="#da2125"/><stop offset="0.024" stop-color="#e93525"/><stop offset="0.032" stop-color="#f38321"/><stop offset="0.04" stop-color="#f7cf1e"/><stop offset="0.048" stop-color="#e9e225"/><stop offset="0.056" stop-color="#b9d343"/><stop offset="0.064" stop-color="#a1ce67"/><stop offset="0.072" stop-color="#85c89b"/><stop offset="0.08" stop-color="#76c8c0"/><stop offset="0.088" stop-color="#64c6d7"/><stop offset="0.096" stop-color="#52c3e2"/><stop offset="0.104" stop-color="#45c1ea"/><stop offset="0.112" stop-color="#3ab9ec"/><stop offset="0.12" stop-color="#2da0e1"/><stop offset="0.128" stop-color="#3177c2"/><stop offset="0.136" stop-color="#3663b3"/><stop offset="0.144" stop-color="#3959ac"/><stop offset="0.152" stop-color="#3a56a9"/><stop offset="0.16" stop-color="#3956aa"/><stop offset="0.168" stop-color="#3957aa"/><stop offset="0.176" stop-color="#3958ab"/><stop offset="0.184" stop-color="#3958ab"/><stop offset="0.192" stop-color="#3957aa"/><stop offset="0.2" stop-color="#3956aa"/><stop offset="0.24" stop-color="#3a53a7"/><stop offset="0.28" stop-color="#384fa5"/><stop offset="0.34" stop-color="#3649a1"/><stop offset="0.4" stop-color="#33419c"/><stop offset="0.48" stop-color="#2f3694"/><stop offset="0.56" stop-color="#2e3292"/><stop offset="0.66" stop-color="#2e3292"/><stop offset="0.8" stop-color="#2e3292"/><stop offset="1" stop-color="#2e3292"/></linearGradient><linearGradient id="g47"><stop offset="0" stop-color="#ba1a21"/><stop offset="0.008" stop-color="#c81d22"/><stop offset="0.016" stop-color="#d41f24"/><stop offset="0.024" stop-color="#df2225"/><stop offset="0.032" stop-color="#ea3d25"/><stop offset="0.04" stop-color="#f37c21"/><stop offset="0.048" stop-color="#f8ba1e"/><stop offset="0.056" stop-color="#f6de1e"/><stop offset="0.064" stop-color="#dade2f"/><stop offset="0.072" stop-color="#b7d344"/><stop offset="0.08" stop-color="#a5cf61"/><stop offset="0.088" stop-color="#8eca89"/><stop offset="0.096" stop-color="#7fc8ab"/><stop offset="0.104" stop-color="#74c8c7"/><stop offset="0.112" stop-color="#64c6d7"/><stop offset="0.12" stop-color="#55c4e0"/><stop offset="0.128" stop-color="#4bc2e6"/><stop offset="0.136" stop-color="#40c0ed"/><stop offset="0.144" stop-color="#39b8eb"/><stop offset="0.152" stop-color="#2da5e4"/><stop offset="0.16" stop-color="#2f86cd"/><stop offset="0.168" stop-color="#3371bd"/><stop offset="0.176" stop-color="#3666b5"/><stop offset="0.184" stop-color="#3761b2"/><stop offset="0.192" stop-color="#385eaf"/><stop offset="0.2" stop-color="#385dae"/><stop offset="0.24" stop-color="#3959ac"/><stop offset="0.28" stop-color="#3956aa"/><stop offset="0.34" stop-color="#3951a6"/><stop offset="0.4" stop-color="#374ba2"/><stop offset="0.48" stop-color="#34429d"/><stop offset="0.56" stop-color="#303996"/><stop offset="0.66" stop-color="#2e3393"/><stop offset="0.8" stop-color="#2e3292"/><stop offset="1" stop-color="#2e3292"/></linearGradient><linearGradient id="g48"><stop offset="0" stop-color="#ba1a21"/><stop offset="0.008" stop-color="#ca1d23"/><stop offset="0.016" stop-color="#d62024"/><stop offset="0.024" stop-color="#e22226"/><stop offset="0.032" stop-color="#ef5723"/><stop offset="0.04" stop-color="#f69e20"/><stop offset="0.048" stop-color="#f6d51e"/><stop offset="0.056" stop-color="#e5e128"/><stop offset="0.064" stop-color="#bbd442"/><stop offset="0.072" stop-color="#a6cf5f"/><stop offset="0.08" stop-color="#8dc98b"/><stop offset="0.088" stop-color="#7dc8af"/><stop offset="0.096" stop-color="#71c8ce"/><stop offset="0.104" stop-color="#5fc5da"/><stop offset="0.112" stop-color="#50c3e3"/><stop offset="0.12" stop-color="#45c1ea"/><stop offset="0.128" stop-color="#3bbbec"/><stop offset="0.136" stop-color="#30aae6"/><stop offset="0.144" stop-color="#2f87ce"/><stop offset="0.152" stop-color="#346cb9"/><stop offset="0.16" stop-color="#3958ab"/><stop offset="0.168" stop-color="#384fa5"/><stop offset="0.176" stop-color="#364aa1"/><stop offset="0.184" stop-color="#3547a0"/><stop offset="0.192" stop-color="#35469f"/><stop offset="0.2" stop-color="#35459f"/><stop offset="0.24" stop-color="#34439d"/><stop offset="0.28" stop-color="#33409b"/><stop offset="0.34" stop-color="#323c99"/><stop offset="0.4" stop-color="#313a97"/><stop offset="0.48" stop-color="#303795"/><stop offset="0.56" stop-color="#2e3393"/><stop offset="0.66" stop-color="#2e3292"/><stop offset="0.8" stop-color="#2e3292"/><stop offset="1" stop-color="#2e3292"/></linearGradient><linearGradient id="g49"><stop offset="0" stop-color="#ba1a21"/><stop offset="0.008" stop-color="#c81d22"/><stop offset="0.016" stop-color="#d41f24"/><stop offset="0.024" stop-color="#df2225"/><stop offset="0.032" stop-color="#eb3e25"/><stop offset="0.04" stop-color="#f37e21"/><stop offset="0.048" stop-color="#f8bb1e"/><stop offset="0.056" stop-color="#f6df1e"/><stop offset="0.064" stop-color="#d9dd2f"/><stop offset="0.072" stop-color="#b6d345"/><stop offset="0.08" stop-color="#a4ce63"/><stop offset="0.088" stop-color="#8dc98a"/><stop offset="0.096" stop-color="#7ec8ac"/><stop offset="0.104" stop-color="#73c8c8"/><stop offset="0.112" stop-color="#63c6d8"/><stop offset="0.12" stop-color="#55c4e0"/><stop offset="0.128" stop-color="#4ac2e7"/><stop offset="0.136" stop-color="#3fc0ed"/><stop offset="0.144" stop-color="#39b7eb"/><stop offset="0.152" stop-color="#2da1e1"/><stop offset="0.16" stop-color="#317ac4"/><stop offset="0.168" stop-color="#375fb0"/><stop offset="0.176" stop-color="#374da3"/><stop offset="0.184" stop-color="#35479f"/><stop offset="0.192" stop-color="#34449e"/><stop offset="0.2" stop-color="#34439d"/><stop offset="0.24" stop-color="#33409b"/><stop offset="0.28" stop-color="#323e9a"/><stop offset="0.34" stop-color="#313b98"/><stop offset="0.4" stop-color="#313b98"/><stop offset="0.48" stop-color="#313a97"/><stop offset="0.56" stop-color="#303896"/><stop offset="0.66" stop-color="#2e3393"/><stop offset="0.8" stop-color="#2e3292"/><stop offset="1" stop-color="#2e3292"/></linearGradient><linearGradient id="g50"><stop offset="0" stop-color="#ba1a21"/><stop offset="0.008" stop-color="#c81d22"/><stop offset="0.016" stop-color="#d41f24"/><stop offset="0.024" stop-color="#de2125"/><stop offset="0.032" stop-color="#e93825"/><stop offset="0.04" stop-color="#f27222"/><stop offset="0.048" stop-color="#f7af1f"/><stop offset="0.056" stop-color="#f6d91e"/><stop offset="0.064" stop-color="#e5e128"/><stop offset="0.072" stop-color="#bed540"/><stop offset="0.08" stop-color="#aad058"/><stop offset="0.088" stop-color="#97cb7a"/><stop offset="0.096" stop-color="#83c8a0"/><stop offset="0.104" stop-color="#78c8bb"/><stop offset="0.112" stop-color="#6ac7d3"/><stop offset="0.12" stop-color="#5cc5dc"/><stop offset="0.128" stop-color="#50c3e3"/><stop offset="0.136" stop-color="#46c1e9"/><stop offset="0.144" stop-color="#3cbded"/><stop offset="0.152" stop-color="#35b2e9"/><stop offset="0.16" stop-color="#2e91d5"/><stop offset="0.168" stop-color="#346dba"/><stop offset="0.176" stop-color="#3957ab"/><stop offset="0.184" stop-color="#374ba2"/><stop offset="0.192" stop-color="#3647a0"/><stop offset="0.2" stop-color="#35459e"/><stop offset="0.24" stop-color="#34429c"/><stop offset="0.28" stop-color="#33409b"/><stop offset="0.34" stop-color="#323d99"/><stop offset="0.4" stop-color="#323d99"/><stop offset="0.48" stop-color="#323c99"/><stop offset="0.56" stop-color="#313a97"/><stop offset="0.66" stop-color="#2e3393"/><stop offset="0.8" stop-color="#2e3292"/><stop offset="1" stop-color="#2e3292"/></linearGradient><linearGradient id="g51"><stop offset="0" stop-color="#ba1a21"/><stop offset="0.008" stop-color="#ca1d23"/><stop offset="0.016" stop-color="#d62024"/><stop offset="0.024" stop-color="#e12225"/><stop offset="0.032" stop-color="#ed5024"/><stop offset="0.04" stop-color="#f59720"/><stop offset="0.048" stop-color="#f7d21e"/><stop offset="0.056" stop-color="#ede323"/><stop offset="0.064" stop-color="#c0d63f"/><stop offset="0.072" stop-color="#aad059"/><stop offset="0.08" stop-color="#93cb80"/><stop offset="0.088" stop-color="#80c8a7"/><stop offset="0.096" stop-color="#74c8c6"/><stop offset="0.104" stop-color="#63c6d8"/><stop offset="0.112" stop-color="#54c3e1"/><stop offset="0.12" stop-color="#49c2e7"/><stop offset="0.128" stop-color="#3dbfee"/><stop offset="0.136" stop-color="#36b4e9"/><stop offset="0.144" stop-color="#2e96d8"/><stop offset="0.152" stop-color="#3371bd"/><stop offset="0.16" stop-color="#3958ab"/><stop offset="0.168" stop-color="#35469f"/><stop offset="0.176" stop-color="#313b98"/><stop offset="0.184" stop-color="#2f3594"/><stop offset="0.192" stop-color="#2f3594"/><stop offset="0.2" stop-color="#2f3493"/><stop offset="0.24" stop-color="#2e3291"/><stop offset="0.28" stop-color="#2d3190"/><stop offset="0.34" stop-color="#2d308e"/><stop offset="0.4" stop-color="#2d3190"/><stop offset="0.48" stop-color="#2e3292"/><stop offset="0.56" stop-color="#2f3594"/><stop offset="0.66" stop-color="#2e3292"/><stop offset="0.8" stop-color="#2e3292"/><stop offset="1" stop-color="#2e3292"/></linearGradient><linearGradient id="g52"><stop offset="0" stop-color="#ba1a21"/><stop offset="0.008" stop-color="#cb1e23"/><stop offset="0.016" stop-color="#d92024"/><stop offset="0.024" stop-color="#e72c26"/><stop offset="0.032" stop-color="#f27122"/><stop offset="0.04" stop-color="#f8bb1e"/><stop offset="0.048" stop-color="#f5e31e"/><stop offset="0.056" stop-color="#c8d83a"/><stop offset="0.064" stop-color="#abd056"/><stop offset="0.072" stop-color="#92ca82"/><stop offset="0.08" stop-color="#7ec8ac"/><stop offset="0.088" stop-color="#71c8ce"/><stop offset="0.096" stop-color="#5dc5db"/><stop offset="0.104" stop-color="#4ec3e4"/><stop offset="0.112" stop-color="#42c1eb"/><stop offset="0.12" stop-color="#38b7eb"/><stop offset="0.128" stop-color="#2e9bdc"/><stop offset="0.136" stop-color="#3274bf"/><stop offset="0.144" stop-color="#3663b3"/><stop offset="0.152" stop-color="#3958ab"/><stop offset="0.16" stop-color="#384ea4"/><stop offset="0.168" stop-color="#35479f"/><stop offset="0.176" stop-color="#33409b"/><stop offset="0.184" stop-color="#323c98"/><stop offset="0.192" stop-color="#313b98"/><stop offset="0.2" stop-color="#313b98"/><stop offset="0.24" stop-color="#303896"/><stop offset="0.28" stop-color="#2f3594"/><stop offset="0.34" stop-color="#2e3291"/><stop offset="0.4" stop-color="#2e3291"/><stop offset="0.48" stop-color="#2d3190"/><stop offset="0.56" stop-color="#2e3392"/><stop offset="0.66" stop-color="#2e3292"/><stop offset="0.8" stop-color="#2e3292"/><stop offset="1" stop-color="#2e3292"/></linearGradient><linearGradient id="g53"><stop offset="0" stop-color="#ba1a21"/><stop offset="0.008" stop-color="#cb1e23"/><stop offset="0.016" stop-color="#d82024"/><stop offset="0.024" stop-color="#e72826"/><stop offset="0.032" stop-color="#f16a22"/><stop offset="0.04" stop-color="#f7b41e"/><stop offset="0.048" stop-color="#f5e01e"/><stop offset="0.056" stop-color="#cfda35"/><stop offset="0.064" stop-color="#aed150"/><stop offset="0.072" stop-color="#98cc79"/><stop offset="0.08" stop-color="#81c8a5"/><stop offset="0.088" stop-color="#74c8c6"/><stop offset="0.096" stop-color="#62c6d9"/><stop offset="0.104" stop-color="#51c3e3"/><stop offset="0.112" stop-color="#46c1e9"/><stop offset="0.12" stop-color="#3bbbec"/><stop offset="0.128" stop-color="#2fa8e5"/><stop offset="0.136" stop-color="#3082ca"/><stop offset="0.144" stop-color="#3569b7"/><stop offset="0.152" stop-color="#385cae"/><stop offset="0.16" stop-color="#3959ab"/><stop offset="0.168" stop-color="#3958ab"/><stop offset="0.176" stop-color="#3959ac"/><stop offset="0.184" stop-color="#3959ab"/><stop offset="0.192" stop-color="#3958ab"/><stop offset="0.2" stop-color="#3957aa"/><stop offset="0.24" stop-color="#3a54a8"/><stop offset="0.28" stop-color="#3951a6"/><stop offset="0.34" stop-color="#374ba2"/><stop offset="0.4" stop-color="#34449e"/><stop offset="0.48" stop-color="#313a97"/><stop offset="0.56" stop-color="#2e3393"/><stop offset="0.66" stop-color="#2e3292"/><stop offset="0.8" stop-color="#2e3292"/><stop offset="1" stop-color="#2e3292"/></linearGradient><linearGradient id="g54"><stop offset="0" stop-color="#ba1a21"/><stop offset="0.008" stop-color="#c91d23"/><stop offset="0.016" stop-color="#d62024"/><stop offset="0.024" stop-color="#e12225"/><stop offset="0.032" stop-color="#ed4d24"/><stop offset="0.04" stop-color="#f59420"/><stop offset="0.048" stop-color="#f7d11e"/><stop offset="0.056" stop-color="#f0e421"/><stop offset="0.064" stop-color="#c3d63d"/><stop offset="0.072" stop-color="#abd056"/><stop offset="0.08" stop-color="#96cb7c"/><stop offset="0.088" stop-color="#82c8a4"/><stop offset="0.096" stop-color="#76c8c2"/><stop offset="0.104" stop-color="#65c6d6"/><stop offset="0.112" stop-color="#56c4e0"/><stop offset="0.12" stop-color="#4ac2e7"/><stop offset="0.128" stop-color="#3fc0ee"/><stop offset="0.136" stop-color="#38b6ea"/><stop offset="0.144" stop-color="#2e9cdd"/><stop offset="0.152" stop-color="#317ac4"/><stop offset="0.16" stop-color="#356ab8"/><stop offset="0.168" stop-color="#3761b2"/><stop offset="0.176" stop-color="#3760b0"/><stop offset="0.184" stop-color="#375fb0"/><stop offset="0.192" stop-color="#385eaf"/><stop offset="0.2" stop-color="#385daf"/><stop offset="0.24" stop-color="#395aac"/><stop offset="0.28" stop-color="#3957aa"/><stop offset="0.34" stop-color="#3951a6"/><stop offset="0.4" stop-color="#364aa1"/><stop offset="0.48" stop-color="#33409b"/><stop offset="0.56" stop-color="#2f3594"/><stop offset="0.66" stop-color="#2e3292"/><stop offset="0.8" stop-color="#2e3292"/><stop offset="1" stop-color="#2e3292"/></linearGradient><linearGradient id="g55"><stop offset="0" stop-color="#ba1a21"/><stop offset="0.008" stop-color="#ca1d23"/><stop offset="0.016" stop-color="#d72024"/><stop offset="0.024" stop-color="#e22226"/><stop offset="0.032" stop-color="#ef5723"/><stop offset="0.04" stop-color="#f69f20"/><stop offset="0.048" stop-color="#f6d61e"/><stop offset="0.056" stop-color="#e5e128"/><stop offset="0.064" stop-color="#bad442"/><stop offset="0.072" stop-color="#a5cf60"/><stop offset="0.08" stop-color="#8dc98c"/><stop offset="0.088" stop-color="#7dc8b0"/><stop offset="0.096" stop-color="#71c8cf"/><stop offset="0.104" stop-color="#5ec5db"/><stop offset="0.112" stop-color="#50c3e3"/><stop offset="0.12" stop-color="#45c1ea"/><stop offset="0.128" stop-color="#3bbbec"/><stop offset="0.136" stop-color="#2fa9e5"/><stop offset="0.144" stop-color="#2f86cd"/><stop offset="0.152" stop-color="#346bb9"/><stop offset="0.16" stop-color="#395aac"/><stop offset="0.168" stop-color="#3a53a8"/><stop offset="0.176" stop-color="#384fa5"/><stop offset="0.184" stop-color="#384da4"/><stop offset="0.192" stop-color="#374da3"/><stop offset="0.2" stop-color="#374ca3"/><stop offset="0.24" stop-color="#3649a1"/><stop offset="0.28" stop-color="#35469f"/><stop offset="0.34" stop-color="#34429c"/><stop offset="0.4" stop-color="#323f9a"/><stop offset="0.48" stop-color="#303997"/><stop offset="0.56" stop-color="#2e3393"/><stop offset="0.66" stop-color="#2e3292"/><stop offset="0.8" stop-color="#2e3292"/><stop offset="1" stop-color="#2e3292"/></linearGradient><linearGradient id="g56"><stop offset="0" stop-color="#ba1a21"/><stop offset="0.008" stop-color="#ca1d23"/><stop offset="0.016" stop-color="#d62024"/><stop offset="0.024" stop-color="#e12225"/><stop offset="0.032" stop-color="#ee5324"/><stop offset="0.04" stop-color="#f59b20"/><stop offset="0.048" stop-color="#f6d41e"/><stop offset="0.056" stop-color="#e9e225"/><stop offset="0.064" stop-color="#bdd540"/><stop offset="0.072" stop-color="#a8cf5c"/><stop offset="0.08" stop-color="#90ca85"/><stop offset="0.088" stop-color="#7fc8ab"/><stop offset="0.096" stop-color="#73c8ca"/><stop offset="0.104" stop-color="#61c6d9"/><stop offset="0.112" stop-color="#52c3e2"/><stop offset="0.12" stop-color="#47c1e9"/><stop offset="0.128" stop-color="#3cbded"/><stop offset="0.136" stop-color="#33afe8"/><stop offset="0.144" stop-color="#2f8fd3"/><stop offset="0.152" stop-color="#336fbc"/><stop offset="0.16" stop-color="#385cae"/><stop offset="0.168" stop-color="#3951a6"/><stop offset="0.176" stop-color="#374aa2"/><stop offset="0.184" stop-color="#3648a0"/><stop offset="0.192" stop-color="#3547a0"/><stop offset="0.2" stop-color="#35469f"/><stop offset="0.24" stop-color="#34449d"/><stop offset="0.28" stop-color="#33419c"/><stop offset="0.34" stop-color="#323d99"/><stop offset="0.4" stop-color="#313b98"/><stop offset="0.48" stop-color="#303896"/><stop offset="0.56" stop-color="#2f3493"/><stop offset="0.66" stop-color="#2e3292"/><stop offset="0.8" stop-color="#2e3292"/><stop offset="1" stop-color="#2e3292"/></linearGradient><linearGradient id="g57"><stop offset="0" stop-color="#ba1a21"/><stop offset="0.008" stop-color="#cb1e23"/><stop offset="0.016" stop-color="#d82024"/><stop offset="0.024" stop-color="#e72926"/><stop offset="0.032" stop-color="#f16c22"/><stop offset="0.04" stop-color="#f7b61e"/><stop offset="0.048" stop-color="#f5e11e"/><stop offset="0.056" stop-color="#cdda36"/><stop offset="0.064" stop-color="#add152"/><stop offset="0.072" stop-color="#96cb7b"/><stop offset="0.08" stop-color="#80c8a7"/><stop offset="0.088" stop-color="#73c8c8"/><stop offset="0.096" stop-color="#61c6d9"/><stop offset="0.104" stop-color="#50c3e3"/><stop offset="0.112" stop-color="#45c1ea"/><stop offset="0.12" stop-color="#3abaec"/><stop offset="0.128" stop-color="#2da5e4"/><stop offset="0.136" stop-color="#307ec7"/><stop offset="0.144" stop-color="#3568b6"/><stop offset="0.152" stop-color="#385bad"/><stop offset="0.16" stop-color="#3957aa"/><stop offset="0.168" stop-color="#3a56a9"/><stop offset="0.176" stop-color="#3a55a9"/><stop offset="0.184" stop-color="#3a54a8"/><stop offset="0.192" stop-color="#3a53a8"/><stop offset="0.2" stop-color="#3a53a7"/><stop offset="0.24" stop-color="#3950a5"/><stop offset="0.28" stop-color="#374da3"/><stop offset="0.34" stop-color="#3647a0"/><stop offset="0.4" stop-color="#33419c"/><stop offset="0.48" stop-color="#303896"/><stop offset="0.56" stop-color="#2e3393"/><stop offset="0.66" stop-color="#2e3292"/><stop offset="0.8" stop-color="#2e3292"/><stop offset="1" stop-color="#2e3292"/></linearGradient><linearGradient id="g58"><stop offset="0" stop-color="#ba1a21"/><stop offset="0.008" stop-color="#ca1d23"/><stop offset="0.016" stop-color="#d62024"/><stop offset="0.024" stop-color="#e12225"/><stop offset="0.032" stop-color="#ed4e24"/><stop offset="0.04" stop-color="#f59620"/><stop offset="0.048" stop-color="#f7d11e"/><stop offset="0.056" stop-color="#eee422"/><stop offset="0.064" stop-color="#c1d63e"/><stop offset="0.072" stop-color="#aad057"/><stop offset="0.08" stop-color="#94cb7e"/><stop offset="0.088" stop-color="#81c8a6"/><stop offset="0.096" stop-color="#75c8c4"/><stop offset="0.104" stop-color="#64c6d7"/><stop offset="0.112" stop-color="#55c4e0"/><stop offset="0.12" stop-color="#4ac2e7"/><stop offset="0.128" stop-color="#3ebfee"/><stop offset="0.136" stop-color="#37b5ea"/><stop offset="0.144" stop-color="#2e98db"/><stop offset="0.152" stop-color="#3277c1"/><stop offset="0.16" stop-color="#3569b7"/><stop offset="0.168" stop-color="#3760b1"/><stop offset="0.176" stop-color="#375eb0"/><stop offset="0.184" stop-color="#385eaf"/><stop offset="0.192" stop-color="#385daf"/><stop offset="0.2" stop-color="#385cae"/><stop offset="0.24" stop-color="#3959ac"/><stop offset="0.28" stop-color="#3a56a9"/><stop offset="0.34" stop-color="#3950a6"/><stop offset="0.4" stop-color="#3649a1"/><stop offset="0.48" stop-color="#333f9b"/><stop offset="0.56" stop-color="#2f3594"/><stop offset="0.66" stop-color="#2e3292"/><stop offset="0.8" stop-color="#2e3292"/><stop offset="1" stop-color="#2e3292"/></linearGradient><linearGradient id="g59"><stop offset="0" stop-color="#ba1a21"/><stop offset="0.008" stop-color="#c71d22"/><stop offset="0.016" stop-color="#d21f24"/><stop offset="0.024" stop-color="#dc2125"/><stop offset="0.032" stop-color="#e72b26"/><stop offset="0.04" stop-color="#f05d23"/><stop offset="0.048" stop-color="#f59820"/><stop offset="0.056" stop-color="#f7cc1e"/><stop offset="0.064" stop-color="#f5e31e"/><stop offset="0.072" stop-color="#d5dc32"/><stop offset="0.08" stop-color="#b6d345"/><stop offset="0.088" stop-color="#a6cf5f"/><stop offset="0.096" stop-color="#93cb81"/><stop offset="0.104" stop-color="#82c8a3"/><stop offset="0.112" stop-color="#78c8bc"/><stop offset="0.12" stop-color="#6bc7d3"/><stop offset="0.128" stop-color="#5ec5db"/><stop offset="0.136" stop-color="#51c3e3"/><stop offset="0.144" stop-color="#48c2e8"/><stop offset="0.152" stop-color="#3ec0ee"/><stop offset="0.16" stop-color="#39b8eb"/><stop offset="0.168" stop-color="#2ea7e5"/><stop offset="0.176" stop-color="#2f8ad0"/><stop offset="0.184" stop-color="#3371bd"/><stop offset="0.192" stop-color="#3665b4"/><stop offset="0.2" stop-color="#385cae"/><stop offset="0.24" stop-color="#3a54a8"/><stop offset="0.28" stop-color="#3952a7"/><stop offset="0.34" stop-color="#384fa4"/><stop offset="0.4" stop-color="#374aa2"/><stop offset="0.48" stop-color="#34449e"/><stop offset="0.56" stop-color="#323e9a"/><stop offset="0.66" stop-color="#2f3594"/><stop offset="0.8" stop-color="#2e3292"/><stop offset="1" stop-color="#2e3292"/></linearGradient><linearGradient id="g60"><stop offset="0" stop-color="#ba1a21"/><stop offset="0.008" stop-color="#cb1e23"/><stop offset="0.016" stop-color="#d82024"/><stop offset="0.024" stop-color="#e62526"/><stop offset="0.032" stop-color="#f16523"/><stop offset="0.04" stop-color="#f7ae1f"/><stop offset="0.048" stop-color="#f6dd1e"/><stop offset="0.056" stop-color="#d6dc31"/><stop offset="0.064" stop-color="#b1d14b"/><stop offset="0.072" stop-color="#9ccd70"/><stop offset="0.08" stop-color="#84c89e"/><stop offset="0.088" stop-color="#77c8bf"/><stop offset="0.096" stop-color="#66c6d6"/><stop offset="0.104" stop-color="#55c4e0"/><stop offset="0.112" stop-color="#49c2e8"/><stop offset="0.12" stop-color="#3dbeed"/><stop offset="0.128" stop-color="#34b0e8"/><stop offset="0.136" stop-color="#2f8ed3"/><stop offset="0.144" stop-color="#336fbc"/><stop offset="0.152" stop-color="#375fb0"/><stop offset="0.16" stop-color="#3958ab"/><stop offset="0.168" stop-color="#3a55a9"/><stop offset="0.176" stop-color="#3a54a8"/><stop offset="0.184" stop-color="#3a53a8"/><stop offset="0.192" stop-color="#3953a7"/><stop offset="0.2" stop-color="#3952a7"/><stop offset="0.24" stop-color="#384fa5"/><stop offset="0.28" stop-color="#374ca3"/><stop offset="0.34" stop-color="#3547a0"/><stop offset="0.4" stop-color="#33429c"/><stop offset="0.48" stop-color="#303996"/><stop offset="0.56" stop-color="#2e3393"/><stop offset="0.66" stop-color="#2e3292"/><stop offset="0.8" stop-color="#2e3292"/><stop offset="1" stop-color="#2e3292"/></linearGradient><linearGradient id="g61"><stop offset="0" stop-color="#ba1a21"/><stop offset="0.008" stop-color="#cc1e23"/><stop offset="0.016" stop-color="#d92024"/><stop offset="0.024" stop-color="#e83125"/><stop offset="0.032" stop-color="#f27a22"/><stop offset="0.04" stop-color="#f7c61e"/><stop offset="0.048" stop-color="#f1e521"/><stop offset="0.056" stop-color="#bed540"/><stop offset="0.064" stop-color="#a6cf60"/><stop offset="0.072" stop-color="#8ac990"/><stop offset="0.08" stop-color="#7ac8b7"/><stop offset="0.088" stop-color="#69c7d4"/><stop offset="0.096" stop-color="#57c4df"/><stop offset="0.104" stop-color="#49c2e7"/><stop offset="0.112" stop-color="#3cbeed"/><stop offset="0.12" stop-color="#32ade7"/><stop offset="0.128" stop-color="#2f87ce"/><stop offset="0.136" stop-color="#346bb9"/><stop offset="0.144" stop-color="#385bad"/><stop offset="0.152" stop-color="#3957aa"/><stop offset="0.16" stop-color="#3a55a9"/><stop offset="0.168" stop-color="#3a54a8"/><stop offset="0.176" stop-color="#3a53a7"/><stop offset="0.184" stop-color="#3952a7"/><stop offset="0.192" stop-color="#3952a6"/><stop offset="0.2" stop-color="#3951a6"/><stop offset="0.24" stop-color="#384ea4"/><stop offset="0.28" stop-color="#374aa2"/><stop offset="0.34" stop-color="#35459e"/><stop offset="0.4" stop-color="#323f9a"/><stop offset="0.48" stop-color="#2f3594"/><stop offset="0.56" stop-color="#2e3392"/><stop offset="0.66" stop-color="#2e3292"/><stop offset="0.8" stop-color="#2e3292"/><stop offset="1" stop-color="#2e3292"/></linearGradient><linearGradient id="g62"><stop offset="0" stop-color="#ba1a21"/><stop offset="0.008" stop-color="#ca1d23"/><stop offset="0.016" stop-color="#d62024"/><stop offset="0.024" stop-color="#e22225"/><stop offset="0.032" stop-color="#ef5623"/><stop offset="0.04" stop-color="#f69e20"/><stop offset="0.048" stop-color="#f6d51e"/><stop offset="0.056" stop-color="#e6e127"/><stop offset="0.064" stop-color="#bbd442"/><stop offset="0.072" stop-color="#a6cf5f"/><stop offset="0.08" stop-color="#8eca8a"/><stop offset="0.088" stop-color="#7dc8ae"/><stop offset="0.096" stop-color="#71c8cd"/><stop offset="0.104" stop-color="#5fc5da"/><stop offset="0.112" stop-color="#50c3e3"/><stop offset="0.12" stop-color="#46c1e9"/><stop offset="0.128" stop-color="#3bbbec"/><stop offset="0.136" stop-color="#31abe6"/><stop offset="0.144" stop-color="#2f88cf"/><stop offset="0.152" stop-color="#346ebb"/><stop offset="0.16" stop-color="#3760b1"/><stop offset="0.168" stop-color="#385cae"/><stop offset="0.176" stop-color="#385bad"/><stop offset="0.184" stop-color="#385aad"/><stop offset="0.192" stop-color="#395aac"/><stop offset="0.2" stop-color="#3959ab"/><stop offset="0.24" stop-color="#3a55a9"/><stop offset="0.28" stop-color="#3952a7"/><stop offset="0.34" stop-color="#384da4"/><stop offset="0.4" stop-color="#35479f"/><stop offset="0.48" stop-color="#323d99"/><stop offset="0.56" stop-color="#2e3393"/><stop offset="0.66" stop-color="#2e3292"/><stop offset="0.8" stop-color="#2e3292"/><stop offset="1" stop-color="#2e3292"/></linearGradient><linearGradient id="g63"><stop offset="0" stop-color="#ba1a21"/><stop offset="0.008" stop-color="#c91d23"/><stop offset="0.016" stop-color="#d52024"/><stop offset="0.024" stop-color="#e02225"/><stop offset="0.032" stop-color="#ec4624"/><stop offset="0.04" stop-color="#f48b21"/><stop offset="0.048" stop-color="#f7c91e"/><stop offset="0.056" stop-color="#f5e51e"/><stop offset="0.064" stop-color="#cbd938"/><stop offset="0.072" stop-color="#afd14f"/><stop offset="0.08" stop-color="#9ccd71"/><stop offset="0.088" stop-color="#85c89b"/><stop offset="0.096" stop-color="#79c8ba"/><stop offset="0.104" stop-color="#6ac7d4"/><stop offset="0.112" stop-color="#5bc5dd"/><stop offset="0.12" stop-color="#4ec3e4"/><stop offset="0.128" stop-color="#44c1ea"/><stop offset="0.136" stop-color="#3abaec"/><stop offset="0.144" stop-color="#30a9e6"/><stop offset="0.152" stop-color="#2f89cf"/><stop offset="0.16" stop-color="#3371bd"/><stop offset="0.168" stop-color="#3665b5"/><stop offset="0.176" stop-color="#3761b2"/><stop offset="0.184" stop-color="#375fb0"/><stop offset="0.192" stop-color="#375eb0"/><stop offset="0.2" stop-color="#385eaf"/><stop offset="0.24" stop-color="#395aac"/><stop offset="0.28" stop-color="#3957aa"/><stop offset="0.34" stop-color="#3951a6"/><stop offset="0.4" stop-color="#374ba2"/><stop offset="0.48" stop-color="#33419c"/><stop offset="0.56" stop-color="#303695"/><stop offset="0.66" stop-color="#2e3392"/><stop offset="0.8" stop-color="#2e3292"/><stop offset="1" stop-color="#2e3292"/></linearGradient><linearGradient id="g64"><stop offset="0" stop-color="#ba1a21"/><stop offset="0.008" stop-color="#ce1e23"/><stop offset="0.016" stop-color="#dd2125"/><stop offset="0.024" stop-color="#ec4924"/><stop offset="0.032" stop-color="#f6a41f"/><stop offset="0.04" stop-color="#f6df1e"/><stop offset="0.048" stop-color="#c7d83a"/><stop offset="0.056" stop-color="#a7cf5d"/><stop offset="0.064" stop-color="#88c893"/><stop offset="0.072" stop-color="#77c8bd"/><stop offset="0.08" stop-color="#63c6d8"/><stop offset="0.088" stop-color="#50c3e3"/><stop offset="0.096" stop-color="#42c1eb"/><stop offset="0.104" stop-color="#37b5ea"/><stop offset="0.112" stop-color="#2f8dd2"/><stop offset="0.12" stop-color="#346bb9"/><stop offset="0.128" stop-color="#385bad"/><stop offset="0.136" stop-color="#3a56a9"/><stop offset="0.144" stop-color="#3a54a8"/><stop offset="0.152" stop-color="#3a54a8"/><stop offset="0.16" stop-color="#3a54a8"/><stop offset="0.168" stop-color="#3a55a8"/><stop offset="0.176" stop-color="#3a55a9"/><stop offset="0.184" stop-color="#3a55a9"/><stop offset="0.192" stop-color="#3a54a8"/><stop offset="0.2" stop-color="#3a54a8"/><stop offset="0.24" stop-color="#3950a5"/><stop offset="0.28" stop-color="#374ca3"/><stop offset="0.34" stop-color="#35459e"/><stop offset="0.4" stop-color="#313b98"/><stop offset="0.48" stop-color="#2f3493"/><stop offset="0.56" stop-color="#2e3292"/><stop offset="0.66" stop-color="#2e3292"/><stop offset="0.8" stop-color="#2e3292"/><stop offset="1" stop-color="#2e3292"/></linearGradient><linearGradient id="g65"><stop offset="0" stop-color="#ba1a21"/><stop offset="0.008" stop-color="#cc1e23"/><stop offset="0.016" stop-color="#d92024"/><stop offset="0.024" stop-color="#e83025"/><stop offset="0.032" stop-color="#f27922"/><stop offset="0.04" stop-color="#f7c51e"/><stop offset="0.048" stop-color="#f2e520"/><stop offset="0.056" stop-color="#bfd53f"/><stop offset="0.064" stop-color="#a6cf5e"/><stop offset="0.072" stop-color="#8bc98f"/><stop offset="0.08" stop-color="#7ac8b6"/><stop offset="0.088" stop-color="#69c7d4"/><stop offset="0.096" stop-color="#58c4df"/><stop offset="0.104" stop-color="#4ac2e7"/><stop offset="0.112" stop-color="#3dbeed"/><stop offset="0.12" stop-color="#33afe8"/><stop offset="0.128" stop-color="#2f89cf"/><stop offset="0.136" stop-color="#346cb9"/><stop offset="0.144" stop-color="#385cae"/><stop offset="0.152" stop-color="#3956aa"/><stop offset="0.16" stop-color="#3a53a7"/><stop offset="0.168" stop-color="#3951a6"/><stop offset="0.176" stop-color="#384fa5"/><stop offset="0.184" stop-color="#384da4"/><stop offset="0.192" stop-color="#374da3"/><stop offset="0.2" stop-color="#374ca3"/><stop offset="0.24" stop-color="#3649a1"/><stop offset="0.28" stop-color="#35469f"/><stop offset="0.34" stop-color="#33409b"/><stop offset="0.4" stop-color="#313c98"/><stop offset="0.48" stop-color="#2f3493"/><stop offset="0.56" stop-color="#2e3392"/><stop offset="0.66" stop-color="#2e3292"/><stop offset="0.8" stop-color="#2e3292"/><stop offset="1" stop-color="#2e3292"/></linearGradient><linearGradient id="g66"><stop offset="0" stop-color="#ba1a21"/><stop offset="0.008" stop-color="#cb1e23"/><stop offset="0.016" stop-color="#d82024"/><stop offset="0.024" stop-color="#e72726"/><stop offset="0.032" stop-color="#f16823"/><stop offset="0.04" stop-color="#f7b11f"/><stop offset="0.048" stop-color="#f6de1e"/><stop offset="0.056" stop-color="#d2db33"/><stop offset="0.064" stop-color="#b0d14d"/><stop offset="0.072" stop-color="#9acc75"/><stop offset="0.08" stop-color="#82c8a2"/><stop offset="0.088" stop-color="#75c8c3"/><stop offset="0.096" stop-color="#64c6d7"/><stop offset="0.104" stop-color="#53c3e2"/><stop offset="0.112" stop-color="#47c1e8"/><stop offset="0.12" stop-color="#3cbced"/><stop offset="0.128" stop-color="#31abe6"/><stop offset="0.136" stop-color="#2f87ce"/><stop offset="0.144" stop-color="#346cb9"/><stop offset="0.152" stop-color="#385cae"/><stop offset="0.16" stop-color="#3956aa"/><stop offset="0.168" stop-color="#3a53a7"/><stop offset="0.176" stop-color="#3951a6"/><stop offset="0.184" stop-color="#3950a5"/><stop offset="0.192" stop-color="#384fa5"/><stop offset="0.2" stop-color="#384fa5"/><stop offset="0.24" stop-color="#374ca3"/><stop offset="0.28" stop-color="#3649a1"/><stop offset="0.34" stop-color="#34449e"/><stop offset="0.4" stop-color="#333f9a"/><stop offset="0.48" stop-color="#303795"/><stop offset="0.56" stop-color="#2e3393"/><stop offset="0.66" stop-color="#2e3292"/><stop offset="0.8" stop-color="#2e3292"/><stop offset="1" stop-color="#2e3292"/></linearGradient><linearGradient id="g67"><stop offset="0" stop-color="#ba1a21"/><stop offset="0.008" stop-color="#cb1e23"/><stop offset="0.016" stop-color="#d82024"/><stop offset="0.024" stop-color="#e62526"/><stop offset="0.032" stop-color="#f16523"/><stop offset="0.04" stop-color="#f7ae1f"/><stop offset="0.048" stop-color="#f6dd1e"/><stop offset="0.056" stop-color="#d6dc31"/><stop offset="0.064" stop-color="#b2d14a"/><stop offset="0.072" stop-color="#9ccd70"/><stop offset="0.08" stop-color="#84c89e"/><stop offset="0.088" stop-color="#77c8bf"/><stop offset="0.096" stop-color="#66c6d6"/><stop offset="0.104" stop-color="#55c4e0"/><stop offset="0.112" stop-color="#49c2e8"/><stop offset="0.12" stop-color="#3dbeed"/><stop offset="0.128" stop-color="#34b0e8"/><stop offset="0.136" stop-color="#2f8ed3"/><stop offset="0.144" stop-color="#336fbc"/><stop offset="0.152" stop-color="#375fb0"/><stop offset="0.16" stop-color="#3958ab"/><stop offset="0.168" stop-color="#3a55a8"/><stop offset="0.176" stop-color="#3a53a8"/><stop offset="0.184" stop-color="#3952a7"/><stop offset="0.192" stop-color="#3952a6"/><stop offset="0.2" stop-color="#3951a6"/><stop offset="0.24" stop-color="#384ea4"/><stop offset="0.28" stop-color="#374ba2"/><stop offset="0.34" stop-color="#35469f"/><stop offset="0.4" stop-color="#33419c"/><stop offset="0.48" stop-color="#303996"/><stop offset="0.56" stop-color="#2e3393"/><stop offset="0.66" stop-color="#2e3292"/><stop offset="0.8" stop-color="#2e3292"/><stop offset="1" stop-color="#2e3292"/></linearGradient><linearGradient id="g68"><stop offset="0" stop-color="#ba1a21"/><stop offset="0.008" stop-color="#c81d22"/><stop offset="0.016" stop-color="#d41f24"/><stop offset="0.024" stop-color="#de2125"/><stop offset="0.032" stop-color="#ea3b25"/><stop offset="0.04" stop-color="#f27822"/><stop offset="0.048" stop-color="#f7b61e"/><stop offset="0.056" stop-color="#f6dc1e"/><stop offset="0.064" stop-color="#dedf2c"/><stop offset="0.072" stop-color="#bad443"/><stop offset="0.08" stop-color="#a7cf5e"/><stop offset="0.088" stop-color="#92ca83"/><stop offset="0.096" stop-color="#80c8a7"/><stop offset="0.104" stop-color="#75c8c2"/><stop offset="0.112" stop-color="#66c6d6"/><stop offset="0.12" stop-color="#58c4de"/><stop offset="0.128" stop-color="#4dc2e5"/><stop offset="0.136" stop-color="#43c1eb"/><stop offset="0.144" stop-color="#3abaec"/><stop offset="0.152" stop-color="#30aae6"/><stop offset="0.16" stop-color="#2f8cd1"/><stop offset="0.168" stop-color="#3372be"/><stop offset="0.176" stop-color="#3665b4"/><stop offset="0.184" stop-color="#385daf"/><stop offset="0.192" stop-color="#3959ac"/><stop offset="0.2" stop-color="#3958ab"/><stop offset="0.24" stop-color="#3a54a8"/><stop offset="0.28" stop-color="#3952a7"/><stop offset="0.34" stop-color="#384ea4"/><stop offset="0.4" stop-color="#3649a1"/><stop offset="0.48" stop-color="#33429c"/><stop offset="0.56" stop-color="#313997"/><stop offset="0.66" stop-color="#2e3393"/><stop offset="0.8" stop-color="#2e3292"/><stop offset="1" stop-color="#2e3292"/></linearGradient><linearGradient id="g69"><stop offset="0" stop-color="#ba1a21"/><stop offset="0.008" stop-color="#cb1e23"/><stop offset="0.016" stop-color="#d92024"/><stop offset="0.024" stop-color="#e72c26"/><stop offset="0.032" stop-color="#f27122"/><stop offset="0.04" stop-color="#f8bc1e"/><stop offset="0.048" stop-color="#f5e41e"/><stop offset="0.056" stop-color="#c7d83a"/><stop offset="0.064" stop-color="#abd057"/><stop offset="0.072" stop-color="#92ca83"/><stop offset="0.08" stop-color="#7ec8ad"/><stop offset="0.088" stop-color="#71c8cf"/><stop offset="0.096" stop-color="#5dc5db"/><stop offset="0.104" stop-color="#4ec3e5"/><stop offset="0.112" stop-color="#42c1ec"/><stop offset="0.12" stop-color="#38b7eb"/><stop offset="0.128" stop-color="#2e99db"/><stop offset="0.136" stop-color="#3273bf"/><stop offset="0.144" stop-color="#3762b2"/><stop offset="0.152" stop-color="#3959ac"/><stop offset="0.16" stop-color="#3a55a9"/><stop offset="0.168" stop-color="#3a54a8"/><stop offset="0.176" stop-color="#3953a7"/><stop offset="0.184" stop-color="#3952a6"/><stop offset="0.192" stop-color="#3951a6"/><stop offset="0.2" stop-color="#3950a6"/><stop offset="0.24" stop-color="#384da4"/><stop offset="0.28" stop-color="#374aa2"/><stop offset="0.34" stop-color="#35459e"/><stop offset="0.4" stop-color="#333f9b"/><stop offset="0.48" stop-color="#303695"/><stop offset="0.56" stop-color="#2e3392"/><stop offset="0.66" stop-color="#2e3292"/><stop offset="0.8" stop-color="#2e3292"/><stop offset="1" stop-color="#2e3292"/></linearGradient><linearGradient id="g70"><stop offset="0" stop-color="#ba1a21"/><stop offset="0.008" stop-color="#cb1e23"/><stop offset="0.016" stop-color="#d82024"/><stop offset="0.024" stop-color="#e72a26"/><stop offset="0.032" stop-color="#f16f22"/><stop offset="0.04" stop-color="#f8b91e"/><stop offset="0.048" stop-color="#f5e21e"/><stop offset="0.056" stop-color="#cad938"/><stop offset="0.064" stop-color="#acd054"/><stop offset="0.072" stop-color="#94cb7f"/><stop offset="0.08" stop-color="#7fc8aa"/><stop offset="0.088" stop-color="#72c8cb"/><stop offset="0.096" stop-color="#5fc5da"/><stop offset="0.104" stop-color="#4fc3e4"/><stop offset="0.112" stop-color="#44c1eb"/><stop offset="0.12" stop-color="#39b8eb"/><stop offset="0.128" stop-color="#2da0e0"/><stop offset="0.136" stop-color="#3179c3"/><stop offset="0.144" stop-color="#3665b4"/><stop offset="0.152" stop-color="#3959ac"/><stop offset="0.16" stop-color="#3952a7"/><stop offset="0.168" stop-color="#384fa5"/><stop offset="0.176" stop-color="#374ca3"/><stop offset="0.184" stop-color="#374aa2"/><stop offset="0.192" stop-color="#364aa1"/><stop offset="0.2" stop-color="#3649a1"/><stop offset="0.24" stop-color="#35469f"/><stop offset="0.28" stop-color="#34439d"/><stop offset="0.34" stop-color="#323e9a"/><stop offset="0.4" stop-color="#313b98"/><stop offset="0.48" stop-color="#2f3494"/><stop offset="0.56" stop-color="#2e3392"/><stop offset="0.66" stop-color="#2e3292"/><stop offset="0.8" stop-color="#2e3292"/><stop offset="1" stop-color="#2e3292"/></linearGradient><linearGradient id="g71"><stop offset="0" stop-color="#ba1a21"/><stop offset="0.008" stop-color="#cc1e23"/><stop offset="0.016" stop-color="#d92024"/><stop offset="0.024" stop-color="#e83125"/><stop offset="0.032" stop-color="#f37b21"/><stop offset="0.04" stop-color="#f7c71e"/><stop offset="0.048" stop-color="#f0e421"/><stop offset="0.056" stop-color="#bed540"/><stop offset="0.064" stop-color="#a5cf61"/><stop offset="0.072" stop-color="#89c892"/><stop offset="0.08" stop-color="#7ac8b8"/><stop offset="0.088" stop-color="#68c7d5"/><stop offset="0.096" stop-color="#56c4e0"/><stop offset="0.104" stop-color="#49c2e8"/><stop offset="0.112" stop-color="#3cbded"/><stop offset="0.12" stop-color="#31ace6"/><stop offset="0.128" stop-color="#2f85cc"/><stop offset="0.136" stop-color="#356ab8"/><stop offset="0.144" stop-color="#385bad"/><stop offset="0.152" stop-color="#3956aa"/><stop offset="0.16" stop-color="#3a54a8"/><stop offset="0.168" stop-color="#3a53a7"/><stop offset="0.176" stop-color="#3952a7"/><stop offset="0.184" stop-color="#3951a6"/><stop offset="0.192" stop-color="#3951a6"/><stop offset="0.2" stop-color="#3950a5"/><stop offset="0.24" stop-color="#384da3"/><stop offset="0.28" stop-color="#3649a1"/><stop offset="0.34" stop-color="#34449e"/><stop offset="0.4" stop-color="#323e9a"/><stop offset="0.48" stop-color="#2f3594"/><stop offset="0.56" stop-color="#2e3392"/><stop offset="0.66" stop-color="#2e3292"/><stop offset="0.8" stop-color="#2e3292"/><stop offset="1" stop-color="#2e3292"/></linearGradient><linearGradient id="g72"><stop offset="0" stop-color="#ba1a21"/><stop offset="0.008" stop-color="#cc1e23"/><stop offset="0.016" stop-color="#d92024"/><stop offset="0.024" stop-color="#e82f25"/><stop offset="0.032" stop-color="#f27722"/><stop offset="0.04" stop-color="#f8c21e"/><stop offset="0.048" stop-color="#f4e61e"/><stop offset="0.056" stop-color="#c1d63e"/><stop offset="0.064" stop-color="#a8cf5c"/><stop offset="0.072" stop-color="#8dc98b"/><stop offset="0.08" stop-color="#7cc8b3"/><stop offset="0.088" stop-color="#6cc7d2"/><stop offset="0.096" stop-color="#59c4de"/><stop offset="0.104" stop-color="#4bc2e6"/><stop offset="0.112" stop-color="#3ec0ee"/><stop offset="0.12" stop-color="#35b2e9"/><stop offset="0.128" stop-color="#2f8fd3"/><stop offset="0.136" stop-color="#346ebb"/><stop offset="0.144" stop-color="#385daf"/><stop offset="0.152" stop-color="#3957aa"/><stop offset="0.16" stop-color="#3952a7"/><stop offset="0.168" stop-color="#384fa5"/><stop offset="0.176" stop-color="#374ca3"/><stop offset="0.184" stop-color="#374aa2"/><stop offset="0.192" stop-color="#364aa1"/><stop offset="0.2" stop-color="#3649a1"/><stop offset="0.24" stop-color="#35469f"/><stop offset="0.28" stop-color="#34439d"/><stop offset="0.34" stop-color="#323e9a"/><stop offset="0.4" stop-color="#313a97"/><stop offset="0.48" stop-color="#2e3393"/><stop offset="0.56" stop-color="#2e3392"/><stop offset="0.66" stop-color="#2e3292"/><stop offset="0.8" stop-color="#2e3292"/><stop offset="1" stop-color="#2e3292"/></linearGradient><linearGradient id="g73"><stop offset="0" stop-color="#ba1a21"/><stop offset="0.008" stop-color="#cd1e23"/><stop offset="0.016" stop-color="#db2125"/><stop offset="0.024" stop-color="#ea3925"/><stop offset="0.032" stop-color="#f48921"/><stop offset="0.04" stop-color="#f6d21e"/><stop offset="0.048" stop-color="#e2e029"/><stop offset="0.056" stop-color="#b4d246"/><stop offset="0.064" stop-color="#9dcd6f"/><stop offset="0.072" stop-color="#82c8a2"/><stop offset="0.08" stop-color="#74c8c7"/><stop offset="0.088" stop-color="#60c5da"/><stop offset="0.096" stop-color="#4fc3e4"/><stop offset="0.104" stop-color="#42c1ec"/><stop offset="0.112" stop-color="#38b6ea"/><stop offset="0.12" stop-color="#2e94d7"/><stop offset="0.128" stop-color="#336fbc"/><stop offset="0.136" stop-color="#385daf"/><stop offset="0.144" stop-color="#3957aa"/><stop offset="0.152" stop-color="#3a55a9"/><stop offset="0.16" stop-color="#3a55a9"/><stop offset="0.168" stop-color="#3a54a8"/><stop offset="0.176" stop-color="#3a54a8"/><stop offset="0.184" stop-color="#3a54a8"/><stop offset="0.192" stop-color="#3a53a8"/><stop offset="0.2" stop-color="#3a53a7"/><stop offset="0.24" stop-color="#384fa5"/><stop offset="0.28" stop-color="#374ca3"/><stop offset="0.34" stop-color="#35459f"/><stop offset="0.4" stop-color="#323e9a"/><stop offset="0.48" stop-color="#2f3493"/><stop offset="0.56" stop-color="#2e3292"/><stop offset="0.66" stop-color="#2e3292"/><stop offset="0.8" stop-color="#2e3292"/><stop offset="1" stop-color="#2e3292"/></linearGradient><linearGradient id="g74"><stop offset="0" stop-color="#ba1a21"/><stop offset="0.008" stop-color="#ca1d23"/><stop offset="0.016" stop-color="#d62024"/><stop offset="0.024" stop-color="#e22225"/><stop offset="0.032" stop-color="#ee5524"/><stop offset="0.04" stop-color="#f59d20"/><stop offset="0.048" stop-color="#f6d51e"/><stop offset="0.056" stop-color="#e7e226"/><stop offset="0.064" stop-color="#bcd541"/><stop offset="0.072" stop-color="#a7cf5e"/><stop offset="0.08" stop-color="#8fca88"/><stop offset="0.088" stop-color="#7ec8ad"/><stop offset="0.096" stop-color="#72c8cc"/><stop offset="0.104" stop-color="#60c5da"/><stop offset="0.112" stop-color="#51c3e3"/><stop offset="0.12" stop-color="#46c1e9"/><stop offset="0.128" stop-color="#3bbced"/><stop offset="0.136" stop-color="#32ace7"/><stop offset="0.144" stop-color="#2f8bd1"/><stop offset="0.152" stop-color="#3370bc"/><stop offset="0.16" stop-color="#3567b6"/><stop offset="0.168" stop-color="#3566b6"/><stop offset="0.176" stop-color="#3569b8"/><stop offset="0.184" stop-color="#346bb9"/><stop offset="0.192" stop-color="#356ab8"/><stop offset="0.2" stop-color="#356ab8"/><stop offset="0.24" stop-color="#3666b5"/><stop offset="0.28" stop-color="#3663b3"/><stop offset="0.34" stop-color="#385bad"/><stop offset="0.4" stop-color="#3950a6"/><stop offset="0.48" stop-color="#34429c"/><stop offset="0.56" stop-color="#2f3493"/><stop offset="0.66" stop-color="#2e3292"/><stop offset="0.8" stop-color="#2e3292"/><stop offset="1" stop-color="#2e3292"/></linearGradient><linearGradient id="g75"><stop offset="0" stop-color="#ba1a21"/><stop offset="0.008" stop-color="#ca1d23"/><stop offset="0.016" stop-color="#d62024"/><stop offset="0.024" stop-color="#e12225"/><stop offset="0.032" stop-color="#ee5124"/><stop offset="0.04" stop-color="#f59920"/><stop offset="0.048" stop-color="#f6d31e"/><stop offset="0.056" stop-color="#ebe324"/><stop offset="0.064" stop-color="#bfd53f"/><stop offset="0.072" stop-color="#a9cf5a"/><stop offset="0.08" stop-color="#92ca82"/><stop offset="0.088" stop-color="#7fc8a9"/><stop offset="0.096" stop-color="#73c8c7"/><stop offset="0.104" stop-color="#62c6d8"/><stop offset="0.112" stop-color="#53c3e2"/><stop offset="0.12" stop-color="#48c2e8"/><stop offset="0.128" stop-color="#3dbeed"/><stop offset="0.136" stop-color="#35b2e9"/><stop offset="0.144" stop-color="#2e92d6"/><stop offset="0.152" stop-color="#3372be"/><stop offset="0.16" stop-color="#3665b5"/><stop offset="0.168" stop-color="#385eaf"/><stop offset="0.176" stop-color="#385cae"/><stop offset="0.184" stop-color="#385cae"/><stop offset="0.192" stop-color="#385bad"/><stop offset="0.2" stop-color="#395aac"/><stop offset="0.24" stop-color="#3957aa"/><stop offset="0.28" stop-color="#3a54a8"/><stop offset="0.34" stop-color="#384ea4"/><stop offset="0.4" stop-color="#3648a0"/><stop offset="0.48" stop-color="#323e9a"/><stop offset="0.56" stop-color="#2f3493"/><stop offset="0.66" stop-color="#2e3292"/><stop offset="0.8" stop-color="#2e3292"/><stop offset="1" stop-color="#2e3292"/></linearGradient><linearGradient id="g76"><stop offset="0" stop-color="#ba1a21"/><stop offset="0.008" stop-color="#ca1d23"/><stop offset="0.016" stop-color="#d72024"/><stop offset="0.024" stop-color="#e42326"/><stop offset="0.032" stop-color="#f05c23"/><stop offset="0.04" stop-color="#f6a41f"/><stop offset="0.048" stop-color="#f6d81e"/><stop offset="0.056" stop-color="#dfdf2b"/><stop offset="0.064" stop-color="#b7d344"/><stop offset="0.072" stop-color="#a2ce65"/><stop offset="0.08" stop-color="#89c893"/><stop offset="0.088" stop-color="#7bc8b5"/><stop offset="0.096" stop-color="#6cc7d2"/><stop offset="0.104" stop-color="#5bc5dd"/><stop offset="0.112" stop-color="#4dc2e5"/><stop offset="0.12" stop-color="#42c1eb"/><stop offset="0.128" stop-color="#39b8eb"/><stop offset="0.136" stop-color="#2da0e0"/><stop offset="0.144" stop-color="#307cc5"/><stop offset="0.152" stop-color="#3567b6"/><stop offset="0.16" stop-color="#385cae"/><stop offset="0.168" stop-color="#3958ab"/><stop offset="0.176" stop-color="#3957aa"/><stop offset="0.184" stop-color="#3956aa"/><stop offset="0.192" stop-color="#3a55a9"/><stop offset="0.2" stop-color="#3a54a8"/><stop offset="0.24" stop-color="#3952a6"/><stop offset="0.28" stop-color="#384fa5"/><stop offset="0.34" stop-color="#364aa1"/><stop offset="0.4" stop-color="#34449e"/><stop offset="0.48" stop-color="#313b98"/><stop offset="0.56" stop-color="#2e3393"/><stop offset="0.66" stop-color="#2e3292"/><stop offset="0.8" stop-color="#2e3292"/><stop offset="1" stop-color="#2e3292"/></linearGradient><linearGradient id="g77"><stop offset="0" stop-color="#ba1a21"/><stop offset="0.008" stop-color="#c91d22"/><stop offset="0.016" stop-color="#d52024"/><stop offset="0.024" stop-color="#df2225"/><stop offset="0.032" stop-color="#eb4025"/><stop offset="0.04" stop-color="#f38121"/><stop offset="0.048" stop-color="#f8bf1e"/><stop offset="0.056" stop-color="#f5e01e"/><stop offset="0.064" stop-color="#d5dc32"/><stop offset="0.072" stop-color="#b4d247"/><stop offset="0.08" stop-color="#a2ce66"/><stop offset="0.088" stop-color="#8bc990"/><stop offset="0.096" stop-color="#7dc8b0"/><stop offset="0.104" stop-color="#72c8cc"/><stop offset="0.112" stop-color="#61c6d9"/><stop offset="0.12" stop-color="#52c3e2"/><stop offset="0.128" stop-color="#48c2e8"/><stop offset="0.136" stop-color="#3dbfee"/><stop offset="0.144" stop-color="#37b5ea"/><stop offset="0.152" stop-color="#2e9bdd"/><stop offset="0.16" stop-color="#307dc6"/><stop offset="0.168" stop-color="#346dba"/><stop offset="0.176" stop-color="#3663b3"/><stop offset="0.184" stop-color="#3760b1"/><stop offset="0.192" stop-color="#385eaf"/><stop offset="0.2" stop-color="#385dae"/><stop offset="0.24" stop-color="#3959ac"/><stop offset="0.28" stop-color="#3a56a9"/><stop offset="0.34" stop-color="#3951a6"/><stop offset="0.4" stop-color="#374ba2"/><stop offset="0.48" stop-color="#34429c"/><stop offset="0.56" stop-color="#303896"/><stop offset="0.66" stop-color="#2e3392"/><stop offset="0.8" stop-color="#2e3292"/><stop offset="1" stop-color="#2e3292"/></linearGradient><linearGradient id="g78"><stop offset="0" stop-color="#ba1a21"/><stop offset="0.008" stop-color="#cb1e23"/><stop offset="0.016" stop-color="#d92024"/><stop offset="0.024" stop-color="#e82d26"/><stop offset="0.032" stop-color="#f27322"/><stop offset="0.04" stop-color="#f8bd1e"/><stop offset="0.048" stop-color="#f5e41e"/><stop offset="0.056" stop-color="#c6d73b"/><stop offset="0.064" stop-color="#aad058"/><stop offset="0.072" stop-color="#91ca85"/><stop offset="0.08" stop-color="#7dc8ae"/><stop offset="0.088" stop-color="#70c8d0"/><stop offset="0.096" stop-color="#5cc5dc"/><stop offset="0.104" stop-color="#4dc2e5"/><stop offset="0.112" stop-color="#41c0ec"/><stop offset="0.12" stop-color="#38b6ea"/><stop offset="0.128" stop-color="#2e97d9"/><stop offset="0.136" stop-color="#3372be"/><stop offset="0.144" stop-color="#3761b2"/><stop offset="0.152" stop-color="#3958ab"/><stop offset="0.16" stop-color="#3951a6"/><stop offset="0.168" stop-color="#374ca3"/><stop offset="0.176" stop-color="#3648a0"/><stop offset="0.184" stop-color="#35459e"/><stop offset="0.192" stop-color="#35459e"/><stop offset="0.2" stop-color="#34449e"/><stop offset="0.24" stop-color="#33419c"/><stop offset="0.28" stop-color="#323e9a"/><stop offset="0.34" stop-color="#313997"/><stop offset="0.4" stop-color="#303795"/><stop offset="0.48" stop-color="#2e3292"/><stop offset="0.56" stop-color="#2e3392"/><stop offset="0.66" stop-color="#2e3292"/><stop offset="0.8" stop-color="#2e3292"/><stop offset="1" stop-color="#2e3292"/></linearGradient><linearGradient id="g79"><stop offset="0" stop-color="#ba1a21"/><stop offset="0.008" stop-color="#c91d23"/><stop offset="0.016" stop-color="#d62024"/><stop offset="0.024" stop-color="#e12225"/><stop offset="0.032" stop-color="#ed4a24"/><stop offset="0.04" stop-color="#f49020"/><stop offset="0.048" stop-color="#f7cf1e"/><stop offset="0.056" stop-color="#f2e520"/><stop offset="0.064" stop-color="#c6d73b"/><stop offset="0.072" stop-color="#add053"/><stop offset="0.08" stop-color="#98cc78"/><stop offset="0.088" stop-color="#83c8a1"/><stop offset="0.096" stop-color="#77c8bf"/><stop offset="0.104" stop-color="#67c7d5"/><stop offset="0.112" stop-color="#58c4df"/><stop offset="0.12" stop-color="#4cc2e6"/><stop offset="0.128" stop-color="#41c0ec"/><stop offset="0.136" stop-color="#39b8eb"/><stop offset="0.144" stop-color="#2da2e1"/><stop offset="0.152" stop-color="#307ec7"/><stop offset="0.16" stop-color="#3664b4"/><stop offset="0.168" stop-color="#3952a7"/><stop offset="0.176" stop-color="#374ba2"/><stop offset="0.184" stop-color="#35479f"/><stop offset="0.192" stop-color="#35469f"/><stop offset="0.2" stop-color="#35459f"/><stop offset="0.24" stop-color="#34429d"/><stop offset="0.28" stop-color="#33409b"/><stop offset="0.34" stop-color="#323d99"/><stop offset="0.4" stop-color="#313b98"/><stop offset="0.48" stop-color="#303996"/><stop offset="0.56" stop-color="#2f3694"/><stop offset="0.66" stop-color="#2e3392"/><stop offset="0.8" stop-color="#2e3292"/><stop offset="1" stop-color="#2e3292"/></linearGradient><linearGradient id="g80"><stop offset="0" stop-color="#ba1a21"/><stop offset="0.008" stop-color="#c91d22"/><stop offset="0.016" stop-color="#d52024"/><stop offset="0.024" stop-color="#df2225"/><stop offset="0.032" stop-color="#eb4224"/><stop offset="0.04" stop-color="#f38521"/><stop offset="0.048" stop-color="#f8c31e"/><stop offset="0.056" stop-color="#f5e21e"/><stop offset="0.064" stop-color="#d1db34"/><stop offset="0.072" stop-color="#b2d24a"/><stop offset="0.08" stop-color="#a0ce6a"/><stop offset="0.088" stop-color="#87c895"/><stop offset="0.096" stop-color="#7bc8b4"/><stop offset="0.104" stop-color="#70c8d0"/><stop offset="0.112" stop-color="#5fc5da"/><stop offset="0.12" stop-color="#50c3e3"/><stop offset="0.128" stop-color="#47c1e9"/><stop offset="0.136" stop-color="#3cbded"/><stop offset="0.144" stop-color="#34b1e8"/><stop offset="0.152" stop-color="#2e93d7"/><stop offset="0.16" stop-color="#3273bf"/><stop offset="0.168" stop-color="#3665b5"/><stop offset="0.176" stop-color="#385cae"/><stop offset="0.184" stop-color="#3958ab"/><stop offset="0.192" stop-color="#3956aa"/><stop offset="0.2" stop-color="#3a55a9"/><stop offset="0.24" stop-color="#3952a7"/><stop offset="0.28" stop-color="#3850a5"/><stop offset="0.34" stop-color="#374ba2"/><stop offset="0.4" stop-color="#35479f"/><stop offset="0.48" stop-color="#333f9b"/><stop offset="0.56" stop-color="#303795"/><stop offset="0.66" stop-color="#2e3392"/><stop offset="0.8" stop-color="#2e3292"/><stop offset="1" stop-color="#2e3292"/></linearGradient><linearGradient id="g81"><stop offset="0" stop-color="#ba1a21"/><stop offset="0.008" stop-color="#ca1d23"/><stop offset="0.016" stop-color="#d72024"/><stop offset="0.024" stop-color="#e52326"/><stop offset="0.032" stop-color="#f05f23"/><stop offset="0.04" stop-color="#f6a71f"/><stop offset="0.048" stop-color="#f6d91e"/><stop offset="0.056" stop-color="#dddf2d"/><stop offset="0.064" stop-color="#b5d245"/><stop offset="0.072" stop-color="#a1ce67"/><stop offset="0.08" stop-color="#87c897"/><stop offset="0.088" stop-color="#7ac8b8"/><stop offset="0.096" stop-color="#6ac7d4"/><stop offset="0.104" stop-color="#59c4de"/><stop offset="0.112" stop-color="#4cc2e6"/><stop offset="0.12" stop-color="#40c0ed"/><stop offset="0.128" stop-color="#38b7eb"/><stop offset="0.136" stop-color="#2e9bdd"/><stop offset="0.144" stop-color="#3277c1"/><stop offset="0.152" stop-color="#3665b4"/><stop offset="0.16" stop-color="#385aad"/><stop offset="0.168" stop-color="#3a56a9"/><stop offset="0.176" stop-color="#3a55a9"/><stop offset="0.184" stop-color="#3a54a8"/><stop offset="0.192" stop-color="#3a53a7"/><stop offset="0.2" stop-color="#3952a7"/><stop offset="0.24" stop-color="#3850a5"/><stop offset="0.28" stop-color="#374da3"/><stop offset="0.34" stop-color="#3648a0"/><stop offset="0.4" stop-color="#34429d"/><stop offset="0.48" stop-color="#313a97"/><stop offset="0.56" stop-color="#2e3393"/><stop offset="0.66" stop-color="#2e3292"/><stop offset="0.8" stop-color="#2e3292"/><stop offset="1" stop-color="#2e3292"/></linearGradient><linearGradient id="g82"><stop offset="0" stop-color="#ba1a21"/><stop offset="0.008" stop-color="#cb1e23"/><stop offset="0.016" stop-color="#d82024"/><stop offset="0.024" stop-color="#e72926"/><stop offset="0.032" stop-color="#f16b22"/><stop offset="0.04" stop-color="#f7b51e"/><stop offset="0.048" stop-color="#f5e01e"/><stop offset="0.056" stop-color="#ceda36"/><stop offset="0.064" stop-color="#aed151"/><stop offset="0.072" stop-color="#97cb7a"/><stop offset="0.08" stop-color="#81c8a6"/><stop offset="0.088" stop-color="#73c8c7"/><stop offset="0.096" stop-color="#61c6d9"/><stop offset="0.104" stop-color="#51c3e3"/><stop offset="0.112" stop-color="#45c1ea"/><stop offset="0.12" stop-color="#3abaec"/><stop offset="0.128" stop-color="#2ea6e4"/><stop offset="0.136" stop-color="#3080c8"/><stop offset="0.144" stop-color="#3568b7"/><stop offset="0.152" stop-color="#385aad"/><stop offset="0.16" stop-color="#3a54a8"/><stop offset="0.168" stop-color="#3951a6"/><stop offset="0.176" stop-color="#384fa5"/><stop offset="0.184" stop-color="#384da3"/><stop offset="0.192" stop-color="#374ca3"/><stop offset="0.2" stop-color="#374ca3"/><stop offset="0.24" stop-color="#3649a1"/><stop offset="0.28" stop-color="#35469f"/><stop offset="0.34" stop-color="#33419c"/><stop offset="0.4" stop-color="#323d99"/><stop offset="0.48" stop-color="#2f3694"/><stop offset="0.56" stop-color="#2e3393"/><stop offset="0.66" stop-color="#2e3292"/><stop offset="0.8" stop-color="#2e3292"/><stop offset="1" stop-color="#2e3292"/></linearGradient><linearGradient id="g83"><stop offset="0" stop-color="#ba1a21"/><stop offset="0.008" stop-color="#c91d23"/><stop offset="0.016" stop-color="#d52024"/><stop offset="0.024" stop-color="#e02225"/><stop offset="0.032" stop-color="#ec4724"/><stop offset="0.04" stop-color="#f48b21"/><stop offset="0.048" stop-color="#f7ca1e"/><stop offset="0.056" stop-color="#f5e61e"/><stop offset="0.064" stop-color="#cad938"/><stop offset="0.072" stop-color="#afd150"/><stop offset="0.08" stop-color="#9bcc72"/><stop offset="0.088" stop-color="#85c89c"/><stop offset="0.096" stop-color="#78c8bb"/><stop offset="0.104" stop-color="#6ac7d4"/><stop offset="0.112" stop-color="#5ac5dd"/><stop offset="0.12" stop-color="#4ec2e5"/><stop offset="0.128" stop-color="#43c1eb"/><stop offset="0.136" stop-color="#3abaec"/><stop offset="0.144" stop-color="#2fa8e5"/><stop offset="0.152" stop-color="#2f86cd"/><stop offset="0.16" stop-color="#356ab8"/><stop offset="0.168" stop-color="#3959ac"/><stop offset="0.176" stop-color="#3951a6"/><stop offset="0.184" stop-color="#384da4"/><stop offset="0.192" stop-color="#374ca3"/><stop offset="0.2" stop-color="#374ca3"/><stop offset="0.24" stop-color="#3649a1"/><stop offset="0.28" stop-color="#35469f"/><stop offset="0.34" stop-color="#34429d"/><stop offset="0.4" stop-color="#33409b"/><stop offset="0.48" stop-color="#313b98"/><stop offset="0.56" stop-color="#2f3695"/><stop offset="0.66" stop-color="#2e3392"/><stop offset="0.8" stop-color="#2e3292"/><stop offset="1" stop-color="#2e3292"/></linearGradient><linearGradient id="g84"><stop offset="0" stop-color="#ba1a21"/><stop offset="0.008" stop-color="#ca1d23"/><stop offset="0.016" stop-color="#d72024"/><stop offset="0.024" stop-color="#e52326"/><stop offset="0.032" stop-color="#f06023"/><stop offset="0.04" stop-color="#f6a81f"/><stop offset="0.048" stop-color="#f6da1e"/><stop offset="0.056" stop-color="#dbde2e"/><stop offset="0.064" stop-color="#b4d246"/><stop offset="0.072" stop-color="#a0ce69"/><stop offset="0.08" stop-color="#86c898"/><stop offset="0.088" stop-color="#79c8ba"/><stop offset="0.096" stop-color="#69c7d4"/><stop offset="0.104" stop-color="#58c4de"/><stop offset="0.112" stop-color="#4bc2e6"/><stop offset="0.12" stop-color="#3fc0ed"/><stop offset="0.128" stop-color="#38b6ea"/><stop offset="0.136" stop-color="#2e98da"/><stop offset="0.144" stop-color="#3273bf"/><stop offset="0.152" stop-color="#3663b3"/><stop offset="0.16" stop-color="#3959ab"/><stop offset="0.168" stop-color="#3a54a8"/><stop offset="0.176" stop-color="#3952a7"/><stop offset="0.184" stop-color="#3951a6"/><stop offset="0.192" stop-color="#3950a6"/><stop offset="0.2" stop-color="#3850a5"/><stop offset="0.24" stop-color="#374da3"/><stop offset="0.28" stop-color="#364aa1"/><stop offset="0.34" stop-color="#35459e"/><stop offset="0.4" stop-color="#33409b"/><stop offset="0.48" stop-color="#303996"/><stop offset="0.56" stop-color="#2e3393"/><stop offset="0.66" stop-color="#2e3292"/><stop offset="0.8" stop-color="#2e3292"/><stop offset="1" stop-color="#2e3292"/></linearGradient><linearGradient id="g85"><stop offset="0" stop-color="#ba1a21"/><stop offset="0.008" stop-color="#cb1e23"/><stop offset="0.016" stop-color="#d82024"/><stop offset="0.024" stop-color="#e72a26"/><stop offset="0.032" stop-color="#f16d22"/><stop offset="0.04" stop-color="#f7b71e"/><stop offset="0.048" stop-color="#f5e11e"/><stop offset="0.056" stop-color="#ccd937"/><stop offset="0.064" stop-color="#add053"/><stop offset="0.072" stop-color="#95cb7d"/><stop offset="0.08" stop-color="#80c8a8"/><stop offset="0.088" stop-color="#73c8c9"/><stop offset="0.096" stop-color="#60c5da"/><stop offset="0.104" stop-color="#50c3e3"/><stop offset="0.112" stop-color="#44c1ea"/><stop offset="0.12" stop-color="#3ab9ec"/><stop offset="0.128" stop-color="#2da3e2"/><stop offset="0.136" stop-color="#307cc5"/><stop offset="0.144" stop-color="#3567b6"/><stop offset="0.152" stop-color="#385bad"/><stop offset="0.16" stop-color="#3958ab"/><stop offset="0.168" stop-color="#3959ac"/><stop offset="0.176" stop-color="#395aac"/><stop offset="0.184" stop-color="#395aac"/><stop offset="0.192" stop-color="#3959ac"/><stop offset="0.2" stop-color="#3958ab"/><stop offset="0.24" stop-color="#3a55a9"/><stop offset="0.28" stop-color="#3952a6"/><stop offset="0.34" stop-color="#374ca3"/><stop offset="0.4" stop-color="#35459e"/><stop offset="0.48" stop-color="#313a97"/><stop offset="0.56" stop-color="#2e3392"/><stop offset="0.66" stop-color="#2e3292"/><stop offset="0.8" stop-color="#2e3292"/><stop offset="1" stop-color="#2e3292"/></linearGradient><linearGradient id="g86"><stop offset="0" stop-color="#ba1a21"/><stop offset="0.008" stop-color="#cb1e23"/><stop offset="0.016" stop-color="#d92024"/><stop offset="0.024" stop-color="#e82c26"/><stop offset="0.032" stop-color="#f27222"/><stop offset="0.04" stop-color="#f8bd1e"/><stop offset="0.048" stop-color="#f5e41e"/><stop offset="0.056" stop-color="#c6d83b"/><stop offset="0.064" stop-color="#aad057"/><stop offset="0.072" stop-color="#91ca84"/><stop offset="0.08" stop-color="#7ec8ad"/><stop offset="0.088" stop-color="#70c8cf"/><stop offset="0.096" stop-color="#5dc5dc"/><stop offset="0.104" stop-color="#4dc2e5"/><stop offset="0.112" stop-color="#42c1ec"/><stop offset="0.12" stop-color="#38b7eb"/><stop offset="0.128" stop-color="#2e98db"/><stop offset="0.136" stop-color="#3373be"/><stop offset="0.144" stop-color="#3762b2"/><stop offset="0.152" stop-color="#395aac"/><stop offset="0.16" stop-color="#3959ac"/><stop offset="0.168" stop-color="#385bad"/><stop offset="0.176" stop-color="#385dae"/><stop offset="0.184" stop-color="#385daf"/><stop offset="0.192" stop-color="#385dae"/><stop offset="0.2" stop-color="#385cae"/><stop offset="0.24" stop-color="#3958ab"/><stop offset="0.28" stop-color="#3a54a8"/><stop offset="0.34" stop-color="#384ea4"/><stop offset="0.4" stop-color="#35469f"/><stop offset="0.48" stop-color="#313a97"/><stop offset="0.56" stop-color="#2e3392"/><stop offset="0.66" stop-color="#2e3292"/><stop offset="0.8" stop-color="#2e3292"/><stop offset="1" stop-color="#2e3292"/></linearGradient><linearGradient id="g87"><stop offset="0" stop-color="#ba1a21"/><stop offset="0.008" stop-color="#c91d23"/><stop offset="0.016" stop-color="#d62024"/><stop offset="0.024" stop-color="#e12225"/><stop offset="0.032" stop-color="#ed4d24"/><stop offset="0.04" stop-color="#f59420"/><stop offset="0.048" stop-color="#f7d11e"/><stop offset="0.056" stop-color="#f0e421"/><stop offset="0.064" stop-color="#c3d63d"/><stop offset="0.072" stop-color="#abd056"/><stop offset="0.08" stop-color="#96cb7c"/><stop offset="0.088" stop-color="#82c8a4"/><stop offset="0.096" stop-color="#76c8c2"/><stop offset="0.104" stop-color="#65c6d6"/><stop offset="0.112" stop-color="#56c4e0"/><stop offset="0.12" stop-color="#4ac2e7"/><stop offset="0.128" stop-color="#3ec0ee"/><stop offset="0.136" stop-color="#38b6ea"/><stop offset="0.144" stop-color="#2e9cdd"/><stop offset="0.152" stop-color="#317ac3"/><stop offset="0.16" stop-color="#3568b7"/><stop offset="0.168" stop-color="#385dae"/><stop offset="0.176" stop-color="#3959ac"/><stop offset="0.184" stop-color="#3957aa"/><stop offset="0.192" stop-color="#3956aa"/><stop offset="0.2" stop-color="#3a56a9"/><stop offset="0.24" stop-color="#3952a7"/><stop offset="0.28" stop-color="#3950a5"/><stop offset="0.34" stop-color="#374ba2"/><stop offset="0.4" stop-color="#35469f"/><stop offset="0.48" stop-color="#323e9a"/><stop offset="0.56" stop-color="#2f3594"/><stop offset="0.66" stop-color="#2e3292"/><stop offset="0.8" stop-color="#2e3292"/><stop offset="1" stop-color="#2e3292"/></linearGradient><linearGradient id="g88"><stop offset="0" stop-color="#ba1a21"/><stop offset="0.008" stop-color="#c91d23"/><stop offset="0.016" stop-color="#d52024"/><stop offset="0.024" stop-color="#e02225"/><stop offset="0.032" stop-color="#ec4624"/><stop offset="0.04" stop-color="#f48a21"/><stop offset="0.048" stop-color="#f7c91e"/><stop offset="0.056" stop-color="#f5e51e"/><stop offset="0.064" stop-color="#cbd938"/><stop offset="0.072" stop-color="#afd14f"/><stop offset="0.08" stop-color="#9ccd71"/><stop offset="0.088" stop-color="#85c89b"/><stop offset="0.096" stop-color="#79c8b9"/><stop offset="0.104" stop-color="#6ac7d3"/><stop offset="0.112" stop-color="#5bc5dd"/><stop offset="0.12" stop-color="#4ec3e4"/><stop offset="0.128" stop-color="#44c1ea"/><stop offset="0.136" stop-color="#3abaec"/><stop offset="0.144" stop-color="#30aae6"/><stop offset="0.152" stop-color="#2f8ad0"/><stop offset="0.16" stop-color="#3372be"/><stop offset="0.168" stop-color="#3666b5"/><stop offset="0.176" stop-color="#3663b3"/><stop offset="0.184" stop-color="#3760b1"/><stop offset="0.192" stop-color="#3760b0"/><stop offset="0.2" stop-color="#375fb0"/><stop offset="0.24" stop-color="#385bad"/><stop offset="0.28" stop-color="#3958ab"/><stop offset="0.34" stop-color="#3952a7"/><stop offset="0.4" stop-color="#374ba2"/><stop offset="0.48" stop-color="#33419c"/><stop offset="0.56" stop-color="#303695"/><stop offset="0.66" stop-color="#2e3392"/><stop offset="0.8" stop-color="#2e3292"/><stop offset="1" stop-color="#2e3292"/></linearGradient><linearGradient id="g89"><stop offset="0" stop-color="#ba1a21"/><stop offset="0.008" stop-color="#c81d22"/><stop offset="0.016" stop-color="#d41f24"/><stop offset="0.024" stop-color="#de2125"/><stop offset="0.032" stop-color="#ea3c25"/><stop offset="0.04" stop-color="#f27a22"/><stop offset="0.048" stop-color="#f7b71e"/><stop offset="0.056" stop-color="#f6dd1e"/><stop offset="0.064" stop-color="#dddf2d"/><stop offset="0.072" stop-color="#b9d343"/><stop offset="0.08" stop-color="#a6cf5f"/><stop offset="0.088" stop-color="#91ca85"/><stop offset="0.096" stop-color="#80c8a8"/><stop offset="0.104" stop-color="#75c8c4"/><stop offset="0.112" stop-color="#66c6d6"/><stop offset="0.12" stop-color="#57c4df"/><stop offset="0.128" stop-color="#4cc2e6"/><stop offset="0.136" stop-color="#43c1eb"/><stop offset="0.144" stop-color="#3ab9ec"/><stop offset="0.152" stop-color="#2fa9e5"/><stop offset="0.16" stop-color="#2f8bd1"/><stop offset="0.168" stop-color="#3273bf"/><stop offset="0.176" stop-color="#3567b6"/><stop offset="0.184" stop-color="#3761b1"/><stop offset="0.192" stop-color="#385dae"/><stop offset="0.2" stop-color="#385cae"/><stop offset="0.24" stop-color="#3958ab"/><stop offset="0.28" stop-color="#3a55a9"/><stop offset="0.34" stop-color="#3951a6"/><stop offset="0.4" stop-color="#374ba2"/><stop offset="0.48" stop-color="#34429d"/><stop offset="0.56" stop-color="#303997"/><stop offset="0.66" stop-color="#2e3393"/><stop offset="0.8" stop-color="#2e3292"/><stop offset="1" stop-color="#2e3292"/></linearGradient><linearGradient id="g90"><stop offset="0" stop-color="#ba1a21"/><stop offset="0.008" stop-color="#c91d23"/><stop offset="0.016" stop-color="#d62024"/><stop offset="0.024" stop-color="#e12225"/><stop offset="0.032" stop-color="#ed4c24"/><stop offset="0.04" stop-color="#f59220"/><stop offset="0.048" stop-color="#f7d01e"/><stop offset="0.056" stop-color="#f1e520"/><stop offset="0.064" stop-color="#c4d73c"/><stop offset="0.072" stop-color="#acd054"/><stop offset="0.08" stop-color="#97cc7a"/><stop offset="0.088" stop-color="#82c8a2"/><stop offset="0.096" stop-color="#76c8c1"/><stop offset="0.104" stop-color="#66c6d6"/><stop offset="0.112" stop-color="#57c4df"/><stop offset="0.12" stop-color="#4bc2e6"/><stop offset="0.128" stop-color="#40c0ed"/><stop offset="0.136" stop-color="#38b7eb"/><stop offset="0.144" stop-color="#2d9fdf"/><stop offset="0.152" stop-color="#307cc5"/><stop offset="0.16" stop-color="#3666b5"/><stop offset="0.168" stop-color="#3957aa"/><stop offset="0.176" stop-color="#3952a7"/><stop offset="0.184" stop-color="#384fa5"/><stop offset="0.192" stop-color="#384fa4"/><stop offset="0.2" stop-color="#384ea4"/><stop offset="0.24" stop-color="#374ba2"/><stop offset="0.28" stop-color="#3648a0"/><stop offset="0.34" stop-color="#34449e"/><stop offset="0.4" stop-color="#33419c"/><stop offset="0.48" stop-color="#313b98"/><stop offset="0.56" stop-color="#2f3594"/><stop offset="0.66" stop-color="#2e3392"/><stop offset="0.8" stop-color="#2e3292"/><stop offset="1" stop-color="#2e3292"/></linearGradient><linearGradient id="g91"><stop offset="0" stop-color="#ba1a21"/><stop offset="0.008" stop-color="#cb1e23"/><stop offset="0.016" stop-color="#d82024"/><stop offset="0.024" stop-color="#e72926"/><stop offset="0.032" stop-color="#f16b22"/><stop offset="0.04" stop-color="#f7b51e"/><stop offset="0.048" stop-color="#f5e01e"/><stop offset="0.056" stop-color="#ceda36"/><stop offset="0.064" stop-color="#aed151"/><stop offset="0.072" stop-color="#97cb7a"/><stop offset="0.08" stop-color="#81c8a6"/><stop offset="0.088" stop-color="#73c8c7"/><stop offset="0.096" stop-color="#61c6d9"/><stop offset="0.104" stop-color="#51c3e3"/><stop offset="0.112" stop-color="#45c1ea"/><stop offset="0.12" stop-color="#3abaec"/><stop offset="0.128" stop-color="#2ea6e4"/><stop offset="0.136" stop-color="#3080c8"/><stop offset="0.144" stop-color="#3568b7"/><stop offset="0.152" stop-color="#395aac"/><stop offset="0.16" stop-color="#3951a6"/><stop offset="0.168" stop-color="#374da3"/><stop offset="0.176" stop-color="#3648a0"/><stop offset="0.184" stop-color="#35469f"/><stop offset="0.192" stop-color="#35459e"/><stop offset="0.2" stop-color="#35459e"/><stop offset="0.24" stop-color="#34429c"/><stop offset="0.28" stop-color="#323e9a"/><stop offset="0.34" stop-color="#313a97"/><stop offset="0.4" stop-color="#303896"/><stop offset="0.48" stop-color="#2f3393"/><stop offset="0.56" stop-color="#2e3393"/><stop offset="0.66" stop-color="#2e3292"/><stop offset="0.8" stop-color="#2e3292"/><stop offset="1" stop-color="#2e3292"/></linearGradient><linearGradient id="g92"><stop offset="0" stop-color="#ba1a21"/><stop offset="0.008" stop-color="#c81d22"/><stop offset="0.016" stop-color="#d41f24"/><stop offset="0.024" stop-color="#df2225"/><stop offset="0.032" stop-color="#ea3d25"/><stop offset="0.04" stop-color="#f37d21"/><stop offset="0.048" stop-color="#f8ba1e"/><stop offset="0.056" stop-color="#f6de1e"/><stop offset="0.064" stop-color="#dade2f"/><stop offset="0.072" stop-color="#b7d344"/><stop offset="0.08" stop-color="#a5cf62"/><stop offset="0.088" stop-color="#8eca89"/><stop offset="0.096" stop-color="#7fc8ab"/><stop offset="0.104" stop-color="#74c8c7"/><stop offset="0.112" stop-color="#64c6d7"/><stop offset="0.12" stop-color="#55c4e0"/><stop offset="0.128" stop-color="#4bc2e6"/><stop offset="0.136" stop-color="#40c0ed"/><stop offset="0.144" stop-color="#39b8eb"/><stop offset="0.152" stop-color="#2da4e3"/><stop offset="0.16" stop-color="#3083ca"/><stop offset="0.168" stop-color="#346bb9"/><stop offset="0.176" stop-color="#385dae"/><stop offset="0.184" stop-color="#3957aa"/><stop offset="0.192" stop-color="#3a54a8"/><stop offset="0.2" stop-color="#3a53a7"/><stop offset="0.24" stop-color="#3950a5"/><stop offset="0.28" stop-color="#384ea4"/><stop offset="0.34" stop-color="#364aa1"/><stop offset="0.4" stop-color="#35469f"/><stop offset="0.48" stop-color="#33409b"/><stop offset="0.56" stop-color="#303996"/><stop offset="0.66" stop-color="#2e3393"/><stop offset="0.8" stop-color="#2e3292"/><stop offset="1" stop-color="#2e3292"/></linearGradient><linearGradient id="g93"><stop offset="0" stop-color="#ba1a21"/><stop offset="0.008" stop-color="#c81d22"/><stop offset="0.016" stop-color="#d41f24"/><stop offset="0.024" stop-color="#df2225"/><stop offset="0.032" stop-color="#ea3d25"/><stop offset="0.04" stop-color="#f37b21"/><stop offset="0.048" stop-color="#f8b91e"/><stop offset="0.056" stop-color="#f6de1e"/><stop offset="0.064" stop-color="#dbde2e"/><stop offset="0.072" stop-color="#b7d344"/><stop offset="0.08" stop-color="#a5cf61"/><stop offset="0.088" stop-color="#8fca87"/><stop offset="0.096" stop-color="#7fc8aa"/><stop offset="0.104" stop-color="#74c8c6"/><stop offset="0.112" stop-color="#64c6d7"/><stop offset="0.12" stop-color="#56c4e0"/><stop offset="0.128" stop-color="#4bc2e6"/><stop offset="0.136" stop-color="#41c1ec"/><stop offset="0.144" stop-color="#39b8eb"/><stop offset="0.152" stop-color="#2ea7e5"/><stop offset="0.16" stop-color="#2f8bd1"/><stop offset="0.168" stop-color="#3178c2"/><stop offset="0.176" stop-color="#336fbc"/><stop offset="0.184" stop-color="#346bb9"/><stop offset="0.192" stop-color="#3568b7"/><stop offset="0.2" stop-color="#3567b6"/><stop offset="0.24" stop-color="#3663b3"/><stop offset="0.28" stop-color="#3760b1"/><stop offset="0.34" stop-color="#395aac"/><stop offset="0.4" stop-color="#3951a6"/><stop offset="0.48" stop-color="#35459f"/><stop offset="0.56" stop-color="#303996"/><stop offset="0.66" stop-color="#2e3393"/><stop offset="0.8" stop-color="#2e3292"/><stop offset="1" stop-color="#2e3292"/></linearGradient><linearGradient id="g94"><stop offset="0" stop-color="#ba1a21"/><stop offset="0.008" stop-color="#c91d23"/><stop offset="0.016" stop-color="#d52024"/><stop offset="0.024" stop-color="#e02225"/><stop offset="0.032" stop-color="#ec4924"/><stop offset="0.04" stop-color="#f48e20"/><stop offset="0.048" stop-color="#f7cd1e"/><stop offset="0.056" stop-color="#f3e51f"/><stop offset="0.064" stop-color="#c7d83a"/><stop offset="0.072" stop-color="#add152"/><stop offset="0.08" stop-color="#99cc76"/><stop offset="0.088" stop-color="#83c89f"/><stop offset="0.096" stop-color="#77c8bd"/><stop offset="0.104" stop-color="#68c7d5"/><stop offset="0.112" stop-color="#59c4de"/><stop offset="0.12" stop-color="#4cc2e5"/><stop offset="0.128" stop-color="#42c1eb"/><stop offset="0.136" stop-color="#39b8eb"/><stop offset="0.144" stop-color="#2da4e4"/><stop offset="0.152" stop-color="#3083ca"/><stop offset="0.16" stop-color="#336fbc"/><stop offset="0.168" stop-color="#3664b4"/><stop offset="0.176" stop-color="#3664b4"/><stop offset="0.184" stop-color="#3663b3"/><stop offset="0.192" stop-color="#3762b2"/><stop offset="0.2" stop-color="#3761b2"/><stop offset="0.24" stop-color="#385eaf"/><stop offset="0.28" stop-color="#385aad"/><stop offset="0.34" stop-color="#3a54a8"/><stop offset="0.4" stop-color="#374ca3"/><stop offset="0.48" stop-color="#33429c"/><stop offset="0.56" stop-color="#2f3694"/><stop offset="0.66" stop-color="#2e3392"/><stop offset="0.8" stop-color="#2e3292"/><stop offset="1" stop-color="#2e3292"/></linearGradient><linearGradient id="g95"><stop offset="0" stop-color="#ba1a21"/><stop offset="0.008" stop-color="#c91d22"/><stop offset="0.016" stop-color="#d52024"/><stop offset="0.024" stop-color="#df2225"/><stop offset="0.032" stop-color="#eb3f25"/><stop offset="0.04" stop-color="#f37f21"/><stop offset="0.048" stop-color="#f8bd1e"/><stop offset="0.056" stop-color="#f5df1e"/><stop offset="0.064" stop-color="#d7dd30"/><stop offset="0.072" stop-color="#b5d246"/><stop offset="0.08" stop-color="#a3ce64"/><stop offset="0.088" stop-color="#8cc98d"/><stop offset="0.096" stop-color="#7ec8ae"/><stop offset="0.104" stop-color="#72c8ca"/><stop offset="0.112" stop-color="#62c6d8"/><stop offset="0.12" stop-color="#54c3e1"/><stop offset="0.128" stop-color="#49c2e7"/><stop offset="0.136" stop-color="#3ec0ee"/><stop offset="0.144" stop-color="#38b6ea"/><stop offset="0.152" stop-color="#2d9fe0"/><stop offset="0.16" stop-color="#3082c9"/><stop offset="0.168" stop-color="#3371bd"/><stop offset="0.176" stop-color="#3666b5"/><stop offset="0.184" stop-color="#3664b3"/><stop offset="0.192" stop-color="#3761b1"/><stop offset="0.2" stop-color="#3760b1"/><stop offset="0.24" stop-color="#385cae"/><stop offset="0.28" stop-color="#3959ac"/><stop offset="0.34" stop-color="#3a53a8"/><stop offset="0.4" stop-color="#374da3"/><stop offset="0.48" stop-color="#34439d"/><stop offset="0.56" stop-color="#303896"/><stop offset="0.66" stop-color="#2e3392"/><stop offset="0.8" stop-color="#2e3292"/><stop offset="1" stop-color="#2e3292"/></linearGradient><linearGradient id="g96"><stop offset="0" stop-color="#ba1a21"/><stop offset="0.008" stop-color="#c91d23"/><stop offset="0.016" stop-color="#d52024"/><stop offset="0.024" stop-color="#e02225"/><stop offset="0.032" stop-color="#ec4724"/><stop offset="0.04" stop-color="#f48c21"/><stop offset="0.048" stop-color="#f7cb1e"/><stop offset="0.056" stop-color="#f5e61e"/><stop offset="0.064" stop-color="#c9d939"/><stop offset="0.072" stop-color="#aed150"/><stop offset="0.08" stop-color="#9bcc73"/><stop offset="0.088" stop-color="#84c89d"/><stop offset="0.096" stop-color="#78c8bb"/><stop offset="0.104" stop-color="#69c7d4"/><stop offset="0.112" stop-color="#5ac4dd"/><stop offset="0.12" stop-color="#4dc2e5"/><stop offset="0.128" stop-color="#43c1eb"/><stop offset="0.136" stop-color="#3ab9ec"/><stop offset="0.144" stop-color="#2ea7e5"/><stop offset="0.152" stop-color="#2f86cd"/><stop offset="0.16" stop-color="#346ebb"/><stop offset="0.168" stop-color="#3761b2"/><stop offset="0.176" stop-color="#385daf"/><stop offset="0.184" stop-color="#385bad"/><stop offset="0.192" stop-color="#395aac"/><stop offset="0.2" stop-color="#3959ac"/><stop offset="0.24" stop-color="#3a56a9"/><stop offset="0.28" stop-color="#3a53a7"/><stop offset="0.34" stop-color="#384ea4"/><stop offset="0.4" stop-color="#3648a0"/><stop offset="0.48" stop-color="#33409b"/><stop offset="0.56" stop-color="#2f3695"/><stop offset="0.66" stop-color="#2e3392"/><stop offset="0.8" stop-color="#2e3292"/><stop offset="1" stop-color="#2e3292"/></linearGradient><linearGradient id="g97"><stop offset="0" stop-color="#ba1a21"/><stop offset="0.008" stop-color="#ca1d23"/><stop offset="0.016" stop-color="#d62024"/><stop offset="0.024" stop-color="#e22225"/><stop offset="0.032" stop-color="#ee5623"/><stop offset="0.04" stop-color="#f69d20"/><stop offset="0.048" stop-color="#f6d51e"/><stop offset="0.056" stop-color="#e6e227"/><stop offset="0.064" stop-color="#bcd441"/><stop offset="0.072" stop-color="#a6cf5e"/><stop offset="0.08" stop-color="#8eca89"/><stop offset="0.088" stop-color="#7ec8ae"/><stop offset="0.096" stop-color="#71c8cd"/><stop offset="0.104" stop-color="#60c5da"/><stop offset="0.112" stop-color="#50c3e3"/><stop offset="0.12" stop-color="#46c1e9"/><stop offset="0.128" stop-color="#3bbcec"/><stop offset="0.136" stop-color="#31abe6"/><stop offset="0.144" stop-color="#2f8acf"/><stop offset="0.152" stop-color="#346ebb"/><stop offset="0.16" stop-color="#375fb0"/><stop offset="0.168" stop-color="#395aac"/><stop offset="0.176" stop-color="#3957aa"/><stop offset="0.184" stop-color="#3957aa"/><stop offset="0.192" stop-color="#3a56a9"/><stop offset="0.2" stop-color="#3a55a9"/><stop offset="0.24" stop-color="#3952a7"/><stop offset="0.28" stop-color="#384fa5"/><stop offset="0.34" stop-color="#374aa2"/><stop offset="0.4" stop-color="#35459e"/><stop offset="0.48" stop-color="#323c99"/><stop offset="0.56" stop-color="#2f3393"/><stop offset="0.66" stop-color="#2e3292"/><stop offset="0.8" stop-color="#2e3292"/><stop offset="1" stop-color="#2e3292"/></linearGradient><linearGradient id="g98"><stop offset="0" stop-color="#ba1a21"/><stop offset="0.008" stop-color="#ca1d23"/><stop offset="0.016" stop-color="#d72024"/><stop offset="0.024" stop-color="#e32226"/><stop offset="0.032" stop-color="#ef5a23"/><stop offset="0.04" stop-color="#f6a21f"/><stop offset="0.048" stop-color="#f6d71e"/><stop offset="0.056" stop-color="#e2e02a"/><stop offset="0.064" stop-color="#b8d343"/><stop offset="0.072" stop-color="#a4ce63"/><stop offset="0.08" stop-color="#8ac990"/><stop offset="0.088" stop-color="#7cc8b3"/><stop offset="0.096" stop-color="#6ec8d1"/><stop offset="0.104" stop-color="#5cc5dc"/><stop offset="0.112" stop-color="#4ec3e4"/><stop offset="0.12" stop-color="#43c1eb"/><stop offset="0.128" stop-color="#3ab9eb"/><stop offset="0.136" stop-color="#2da5e4"/><stop offset="0.144" stop-color="#3080c8"/><stop offset="0.152" stop-color="#3569b8"/><stop offset="0.16" stop-color="#385bad"/><stop offset="0.168" stop-color="#3957aa"/><stop offset="0.176" stop-color="#3a55a9"/><stop offset="0.184" stop-color="#3a54a8"/><stop offset="0.192" stop-color="#3a53a7"/><stop offset="0.2" stop-color="#3952a7"/><stop offset="0.24" stop-color="#3850a5"/><stop offset="0.28" stop-color="#374da3"/><stop offset="0.34" stop-color="#3648a0"/><stop offset="0.4" stop-color="#34439d"/><stop offset="0.48" stop-color="#313b98"/><stop offset="0.56" stop-color="#2e3393"/><stop offset="0.66" stop-color="#2e3292"/><stop offset="0.8" stop-color="#2e3292"/><stop offset="1" stop-color="#2e3292"/></linearGradient><linearGradient id="g99"><stop offset="0" stop-color="#ba1a21"/><stop offset="0.008" stop-color="#ce1e23"/><stop offset="0.016" stop-color="#dd2125"/><stop offset="0.024" stop-color="#ec4924"/><stop offset="0.032" stop-color="#f6a41f"/><stop offset="0.04" stop-color="#f6df1e"/><stop offset="0.048" stop-color="#c7d83a"/><stop offset="0.056" stop-color="#a7cf5d"/><stop offset="0.064" stop-color="#88c893"/><stop offset="0.072" stop-color="#77c8bd"/><stop offset="0.08" stop-color="#63c6d8"/><stop offset="0.088" stop-color="#50c3e3"/><stop offset="0.096" stop-color="#42c1eb"/><stop offset="0.104" stop-color="#37b5ea"/><stop offset="0.112" stop-color="#2f8dd2"/><stop offset="0.12" stop-color="#346bb9"/><stop offset="0.128" stop-color="#385bad"/><stop offset="0.136" stop-color="#3a56a9"/><stop offset="0.144" stop-color="#3a54a8"/><stop offset="0.152" stop-color="#3a53a7"/><stop offset="0.16" stop-color="#3952a6"/><stop offset="0.168" stop-color="#3950a5"/><stop offset="0.176" stop-color="#384fa5"/><stop offset="0.184" stop-color="#384ea4"/><stop offset="0.192" stop-color="#384da3"/><stop offset="0.2" stop-color="#374ca3"/><stop offset="0.24" stop-color="#3648a1"/><stop offset="0.28" stop-color="#34449e"/><stop offset="0.34" stop-color="#323e9a"/><stop offset="0.4" stop-color="#303795"/><stop offset="0.48" stop-color="#2e3292"/><stop offset="0.56" stop-color="#2e3292"/><stop offset="0.66" stop-color="#2e3292"/><stop offset="0.8" stop-color="#2e3292"/><stop offset="1" stop-color="#2e3292"/></linearGradient><linearGradient id="g100"><stop offset="0" stop-color="#ba1a21"/><stop offset="0.008" stop-color="#cb1e23"/><stop offset="0.016" stop-color="#d92024"/><stop offset="0.024" stop-color="#e72c26"/><stop offset="0.032" stop-color="#f27222"/><stop offset="0.04" stop-color="#f8bc1e"/><stop offset="0.048" stop-color="#f5e41e"/><stop offset="0.056" stop-color="#c7d83a"/><stop offset="0.064" stop-color="#aad057"/><stop offset="0.072" stop-color="#91ca83"/><stop offset="0.08" stop-color="#7ec8ad"/><stop offset="0.088" stop-color="#70c8cf"/><stop offset="0.096" stop-color="#5dc5dc"/><stop offset="0.104" stop-color="#4ec2e5"/><stop offset="0.112" stop-color="#42c1ec"/><stop offset="0.12" stop-color="#38b7eb"/><stop offset="0.128" stop-color="#2e99db"/><stop offset="0.136" stop-color="#3273bf"/><stop offset="0.144" stop-color="#3762b2"/><stop offset="0.152" stop-color="#3959ac"/><stop offset="0.16" stop-color="#3a55a9"/><stop offset="0.168" stop-color="#3a54a8"/><stop offset="0.176" stop-color="#3a53a7"/><stop offset="0.184" stop-color="#3952a7"/><stop offset="0.192" stop-color="#3951a6"/><stop offset="0.2" stop-color="#3951a6"/><stop offset="0.24" stop-color="#384ea4"/><stop offset="0.28" stop-color="#374aa2"/><stop offset="0.34" stop-color="#35459e"/><stop offset="0.4" stop-color="#333f9b"/><stop offset="0.48" stop-color="#303695"/><stop offset="0.56" stop-color="#2e3392"/><stop offset="0.66" stop-color="#2e3292"/><stop offset="0.8" stop-color="#2e3292"/><stop offset="1" stop-color="#2e3292"/></linearGradient><linearGradient id="g101" x1="0" x2="0" y1="0" y2="1"><stop offset="0.0000" stop-color="#7d191e"/><stop offset="0.0210" stop-color="#901c20"/><stop offset="0.0550" stop-color="#b01c22"/><stop offset="0.0900" stop-color="#d81c24"/><stop offset="0.1240" stop-color="#e82028"/><stop offset="0.1580" stop-color="#e83828"/><stop offset="0.1920" stop-color="#ec5828"/><stop offset="0.2260" stop-color="#f07030"/><stop offset="0.2490" stop-color="#f08030"/><stop offset="0.2840" stop-color="#f0a030"/><stop offset="0.3180" stop-color="#f0c028"/><stop offset="0.3520" stop-color="#f0e020"/><stop offset="0.3870" stop-color="#f0e818"/><stop offset="0.4210" stop-color="#d0d820"/><stop offset="0.4550" stop-color="#b0d040"/><stop offset="0.4900" stop-color="#98c858"/><stop offset="0.5240" stop-color="#88c068"/><stop offset="0.5800" stop-color="#70c2aa"/><stop offset="0.6160" stop-color="#60c2cc"/><stop offset="0.6500" stop-color="#50c0e2"/><stop offset="0.6840" stop-color="#40b8ee"/><stop offset="0.7300" stop-color="#3896d7"/><stop offset="0.7530" stop-color="#3a78c8"/><stop offset="0.7870" stop-color="#3a60b8"/><stop offset="0.8330" stop-color="#3a50a8"/><stop offset="0.8900" stop-color="#34449e"/><stop offset="0.9470" stop-color="#2e3894"/><stop offset="0.9820" stop-color="#202880"/><stop offset="1.0000" stop-color="#1c2070"/></linearGradient><linearGradient id="g102"><stop offset="0" stop-color="#21216b"/><stop offset="0.0056" stop-color="#232471"/><stop offset="0.0112" stop-color="#252778"/><stop offset="0.0168" stop-color="#292c84"/><stop offset="0.0224" stop-color="#2b2e89"/><stop offset="0.0281" stop-color="#2b2f8a"/><stop offset="0.0337" stop-color="#2c2f8b"/><stop offset="0.0393" stop-color="#2c2f8c"/><stop offset="0.0449" stop-color="#2c308c"/><stop offset="0.0505" stop-color="#2c308d"/><stop offset="0.0561" stop-color="#2d308e"/><stop offset="0.0617" stop-color="#2d318f"/><stop offset="0.0673" stop-color="#2d3190"/><stop offset="0.073" stop-color="#2e3191"/><stop offset="0.0786" stop-color="#2e3292"/><stop offset="0.0842" stop-color="#2e3392"/><stop offset="0.0898" stop-color="#2f3493"/><stop offset="0.0954" stop-color="#2f3594"/><stop offset="0.101" stop-color="#2f3695"/><stop offset="0.1066" stop-color="#303795"/><stop offset="0.1122" stop-color="#303896"/><stop offset="0.1178" stop-color="#313997"/><stop offset="0.1235" stop-color="#313a97"/><stop offset="0.1291" stop-color="#313b98"/><stop offset="0.1347" stop-color="#323c99"/><stop offset="0.1403" stop-color="#323d99"/><stop offset="0.1459" stop-color="#323e9a"/><stop offset="0.1515" stop-color="#333f9b"/><stop offset="0.1571" stop-color="#33409b"/><stop offset="0.1627" stop-color="#33419c"/><stop offset="0.1684" stop-color="#34429d"/><stop offset="0.174" stop-color="#34439d"/><stop offset="0.1796" stop-color="#35449e"/><stop offset="0.1852" stop-color="#35469f"/><stop offset="0.1908" stop-color="#35479f"/><stop offset="0.1964" stop-color="#3648a0"/><stop offset="0.202" stop-color="#3649a1"/><stop offset="0.2076" stop-color="#374aa2"/><stop offset="0.2132" stop-color="#374ca3"/><stop offset="0.2189" stop-color="#374da3"/><stop offset="0.2245" stop-color="#384ea4"/><stop offset="0.2301" stop-color="#384fa5"/><stop offset="0.2357" stop-color="#3950a6"/><stop offset="0.2413" stop-color="#3952a6"/><stop offset="0.2469" stop-color="#3a53a7"/><stop offset="0.2525" stop-color="#3a54a8"/><stop offset="0.2581" stop-color="#3a55a9"/><stop offset="0.2637" stop-color="#3957aa"/><stop offset="0.2694" stop-color="#3958ab"/><stop offset="0.275" stop-color="#395aac"/><stop offset="0.2806" stop-color="#385bad"/><stop offset="0.2862" stop-color="#375fb0"/><stop offset="0.2918" stop-color="#3664b4"/><stop offset="0.2974" stop-color="#356ab8"/><stop offset="0.303" stop-color="#3370bd"/><stop offset="0.3086" stop-color="#3276c1"/><stop offset="0.3143" stop-color="#307cc5"/><stop offset="0.3199" stop-color="#3081c9"/><stop offset="0.3255" stop-color="#2f87ce"/><stop offset="0.3311" stop-color="#2f8dd2"/><stop offset="0.3367" stop-color="#2e93d7"/><stop offset="0.3423" stop-color="#2e9adc"/><stop offset="0.3479" stop-color="#2da2e2"/><stop offset="0.3535" stop-color="#2fa8e5"/><stop offset="0.3591" stop-color="#32ade7"/><stop offset="0.3648" stop-color="#35b2e9"/><stop offset="0.3704" stop-color="#38b7eb"/><stop offset="0.376" stop-color="#3bbbec"/><stop offset="0.3816" stop-color="#3cbded"/><stop offset="0.3872" stop-color="#3ec0ee"/><stop offset="0.3928" stop-color="#42c1ec"/><stop offset="0.3984" stop-color="#47c1e9"/><stop offset="0.404" stop-color="#4bc2e6"/><stop offset="0.4097" stop-color="#50c3e3"/><stop offset="0.4153" stop-color="#55c4e0"/><stop offset="0.4209" stop-color="#59c4de"/><stop offset="0.4265" stop-color="#5ec5db"/><stop offset="0.4321" stop-color="#63c6d8"/><stop offset="0.4377" stop-color="#67c7d5"/><stop offset="0.4433" stop-color="#6cc7d2"/><stop offset="0.4489" stop-color="#71c8cf"/><stop offset="0.4545" stop-color="#73c8c9"/><stop offset="0.4602" stop-color="#75c8c3"/><stop offset="0.4658" stop-color="#78c8bd"/><stop offset="0.4714" stop-color="#7ac8b7"/><stop offset="0.477" stop-color="#7cc8b1"/><stop offset="0.4826" stop-color="#7fc8ab"/><stop offset="0.4882" stop-color="#81c8a5"/><stop offset="0.4938" stop-color="#83c89f"/><stop offset="0.4994" stop-color="#86c89a"/><stop offset="0.5051" stop-color="#88c893"/><stop offset="0.5107" stop-color="#8cc98d"/><stop offset="0.5163" stop-color="#90ca87"/><stop offset="0.5219" stop-color="#93cb80"/><stop offset="0.5275" stop-color="#97cc7a"/><stop offset="0.5331" stop-color="#9acc73"/><stop offset="0.5387" stop-color="#9ecd6d"/><stop offset="0.5443" stop-color="#a3ce65"/><stop offset="0.5499" stop-color="#a7cf5d"/><stop offset="0.5556" stop-color="#abd055"/><stop offset="0.5612" stop-color="#b0d14e"/><stop offset="0.5668" stop-color="#b3d247"/><stop offset="0.5724" stop-color="#b7d344"/><stop offset="0.578" stop-color="#bbd441"/><stop offset="0.5836" stop-color="#c0d63f"/><stop offset="0.5892" stop-color="#c4d73c"/><stop offset="0.5948" stop-color="#c8d83a"/><stop offset="0.6004" stop-color="#ccd937"/><stop offset="0.6061" stop-color="#d0db35"/><stop offset="0.6117" stop-color="#d4dc32"/><stop offset="0.6173" stop-color="#d9dd30"/><stop offset="0.6229" stop-color="#dddf2d"/><stop offset="0.6285" stop-color="#e2e02a"/><stop offset="0.6341" stop-color="#e7e226"/><stop offset="0.6397" stop-color="#ede323"/><stop offset="0.6453" stop-color="#f2e520"/><stop offset="0.651" stop-color="#f5e51e"/><stop offset="0.6566" stop-color="#f5e11e"/><stop offset="0.6622" stop-color="#f6de1e"/><stop offset="0.6678" stop-color="#f6da1e"/><stop offset="0.6734" stop-color="#f6d61e"/><stop offset="0.679" stop-color="#f6d31e"/><stop offset="0.6846" stop-color="#f7cf1e"/><stop offset="0.6902" stop-color="#f7cb1e"/><stop offset="0.6958" stop-color="#f7c71e"/><stop offset="0.7015" stop-color="#f8c21e"/><stop offset="0.7071" stop-color="#f8bc1e"/><stop offset="0.7127" stop-color="#f7b71e"/><stop offset="0.7183" stop-color="#f7b21f"/><stop offset="0.7239" stop-color="#f7ac1f"/><stop offset="0.7295" stop-color="#f6a71f"/><stop offset="0.7351" stop-color="#f6a21f"/><stop offset="0.7407" stop-color="#f59c20"/><stop offset="0.7464" stop-color="#f59720"/><stop offset="0.752" stop-color="#f49020"/><stop offset="0.7576" stop-color="#f48921"/><stop offset="0.7632" stop-color="#f38121"/><stop offset="0.7688" stop-color="#f27a22"/><stop offset="0.7744" stop-color="#f27322"/><stop offset="0.78" stop-color="#f16b22"/><stop offset="0.7856" stop-color="#f06423"/><stop offset="0.7912" stop-color="#f05d23"/><stop offset="0.7969" stop-color="#ee5523"/><stop offset="0.8025" stop-color="#ed4f24"/><stop offset="0.8081" stop-color="#ec4824"/><stop offset="0.8137" stop-color="#eb4224"/><stop offset="0.8193" stop-color="#ea3c25"/><stop offset="0.8249" stop-color="#e93525"/><stop offset="0.8305" stop-color="#e83125"/><stop offset="0.8361" stop-color="#e82e25"/><stop offset="0.8418" stop-color="#e82c26"/><stop offset="0.8474" stop-color="#e72a26"/><stop offset="0.853" stop-color="#e72826"/><stop offset="0.8586" stop-color="#e62626"/><stop offset="0.8642" stop-color="#e62426"/><stop offset="0.8698" stop-color="#e52326"/><stop offset="0.8754" stop-color="#e32226"/><stop offset="0.881" stop-color="#e12225"/><stop offset="0.8866" stop-color="#df2225"/><stop offset="0.8923" stop-color="#dd2125"/><stop offset="0.8979" stop-color="#db2125"/><stop offset="0.9035" stop-color="#d92024"/><stop offset="0.9091" stop-color="#d72024"/><stop offset="0.9147" stop-color="#d52024"/><stop offset="0.9203" stop-color="#d31f24"/><stop offset="0.9259" stop-color="#d01f23"/><stop offset="0.9315" stop-color="#cc1e23"/><stop offset="0.9371" stop-color="#c81d22"/><stop offset="0.9428" stop-color="#c41c22"/><stop offset="0.9484" stop-color="#c01b21"/><stop offset="0.954" stop-color="#bc1b21"/><stop offset="0.9596" stop-color="#b81a20"/><stop offset="0.9652" stop-color="#b31920"/><stop offset="0.9708" stop-color="#ac181f"/><stop offset="0.9764" stop-color="#a6181e"/><stop offset="0.982" stop-color="#9f171d"/><stop offset="0.9877" stop-color="#97171c"/><stop offset="0.9933" stop-color="#8f161b"/><stop offset="0.9989" stop-color="#861619"/></linearGradient><linearGradient id="g103"><stop offset="0.000" stop-color="#ffffff" stop-opacity="0.50"/><stop offset="0.205" stop-color="#ffffff" stop-opacity="0.60"/><stop offset="0.318" stop-color="#ffffff" stop-opacity="1.00"/><stop offset="0.452" stop-color="#ffffff" stop-opacity="0.80"/><stop offset="0.598" stop-color="#ffffff" stop-opacity="1.00"/><stop offset="0.879" stop-color="#ffffff" stop-opacity="1.00"/><stop offset="1.002" stop-color="#ffffff" stop-opacity="0.80"/></linearGradient><linearGradient id="g104"><stop offset="0.000" stop-color="#000000" stop-opacity="0.50"/><stop offset="0.205" stop-color="#000000" stop-opacity="0.60"/><stop offset="0.318" stop-color="#000000" stop-opacity="1.00"/><stop offset="0.452" stop-color="#000000" stop-opacity="0.80"/><stop offset="0.598" stop-color="#000000" stop-opacity="1.00"/><stop offset="0.879" stop-color="#000000" stop-opacity="1.00"/><stop offset="1.002" stop-color="#000000" stop-opacity="0.80"/></linearGradient><linearGradient id="g105" x1="0" x2="0" y1="0" y2="1"><stop offset="0.0000" stop-color="#7d191e"/><stop offset="0.0210" stop-color="#901c20"/><stop offset="0.0550" stop-color="#b01c22"/><stop offset="0.0900" stop-color="#d81c24"/><stop offset="0.1240" stop-color="#e82028"/><stop offset="0.1580" stop-color="#e83828"/><stop offset="0.1920" stop-color="#ec5828"/><stop offset="0.2260" stop-color="#f07030"/><stop offset="0.2490" stop-color="#f08030"/><stop offset="0.2840" stop-color="#f0a030"/><stop offset="0.3180" stop-color="#f0c028"/><stop offset="0.3520" stop-color="#f0e020"/><stop offset="0.3870" stop-color="#f0e818"/><stop offset="0.4210" stop-color="#d0d820"/><stop offset="0.4550" stop-color="#b0d040"/><stop offset="0.4900" stop-color="#98c858"/><stop offset="0.5240" stop-color="#88c068"/><stop offset="0.5800" stop-color="#70c2aa"/><stop offset="0.6160" stop-color="#60c2cc"/><stop offset="0.6500" stop-color="#50c0e2"/><stop offset="0.6840" stop-color="#40b8ee"/><stop offset="0.7300" stop-color="#3896d7"/><stop offset="0.7530" stop-color="#3a78c8"/><stop offset="0.7870" stop-color="#3a60b8"/><stop offset="0.8330" stop-color="#3a50a8"/><stop offset="0.8900" stop-color="#34449e"/><stop offset="0.9470" stop-color="#2e3894"/><stop offset="0.9820" stop-color="#202880"/><stop offset="1.0000" stop-color="#1c2070"/></linearGradient><linearGradient id="g106"><stop offset="0" stop-color="#f48d20"/><stop offset="0.0022" stop-color="#f59520"/><stop offset="0.0043" stop-color="#f59b20"/><stop offset="0.0065" stop-color="#f6a11f"/><stop offset="0.0087" stop-color="#f6a61f"/><stop offset="0.0109" stop-color="#f8bf1e"/><stop offset="0.013" stop-color="#f0e421"/><stop offset="0.0152" stop-color="#add152"/><stop offset="0.0174" stop-color="#85c89a"/><stop offset="0.0196" stop-color="#74c8c7"/><stop offset="0.0217" stop-color="#51c3e3"/><stop offset="0.0239" stop-color="#37b5ea"/><stop offset="0.0261" stop-color="#2da3e3"/><stop offset="0.0283" stop-color="#2f8ad0"/><stop offset="0.0304" stop-color="#3274c0"/><stop offset="0.0326" stop-color="#3663b3"/><stop offset="0.0348" stop-color="#3952a7"/><stop offset="0.037" stop-color="#364aa2"/><stop offset="0.0391" stop-color="#3649a1"/><stop offset="0.0413" stop-color="#3648a0"/><stop offset="0.0435" stop-color="#3547a0"/><stop offset="0.0457" stop-color="#35469f"/><stop offset="0.0478" stop-color="#35459e"/><stop offset="0.05" stop-color="#34449e"/><stop offset="0.0522" stop-color="#34439d"/><stop offset="0.0543" stop-color="#34429c"/><stop offset="0.0565" stop-color="#33419c"/><stop offset="0.0587" stop-color="#33409b"/><stop offset="0.0609" stop-color="#323e99"/><stop offset="0.063" stop-color="#313997"/><stop offset="0.0652" stop-color="#2f3594"/><stop offset="0.0674" stop-color="#2e3292"/><stop offset="0.0696" stop-color="#2d3190"/><stop offset="0.0717" stop-color="#2d3190"/><stop offset="0.0739" stop-color="#2d3190"/><stop offset="0.0761" stop-color="#2d3190"/><stop offset="0.0783" stop-color="#2d3190"/><stop offset="0.0804" stop-color="#2d3190"/><stop offset="0.0826" stop-color="#2d3190"/><stop offset="0.0848" stop-color="#2d3190"/><stop offset="0.087" stop-color="#2d3190"/><stop offset="0.0891" stop-color="#2d3190"/><stop offset="0.0913" stop-color="#2d3190"/><stop offset="0.0935" stop-color="#2d3190"/><stop offset="0.0957" stop-color="#2d3190"/><stop offset="0.0978" stop-color="#2d3190"/><stop offset="0.1" stop-color="#2d3190"/><stop offset="0.1022" stop-color="#2d3190"/><stop offset="0.1043" stop-color="#2d3190"/><stop offset="0.1065" stop-color="#2d3190"/><stop offset="0.1087" stop-color="#2d3190"/><stop offset="0.1109" stop-color="#2d3190"/><stop offset="0.113" stop-color="#2d3190"/><stop offset="0.1152" stop-color="#2d3190"/><stop offset="0.1174" stop-color="#2d3190"/><stop offset="0.1196" stop-color="#2d3190"/><stop offset="0.1217" stop-color="#2d3190"/><stop offset="0.1239" stop-color="#2d3190"/><stop offset="0.1261" stop-color="#2d3190"/><stop offset="0.1283" stop-color="#2d3190"/><stop offset="0.1304" stop-color="#2d3190"/><stop offset="0.1326" stop-color="#2d3190"/><stop offset="0.1348" stop-color="#2d3190"/><stop offset="0.137" stop-color="#2d3190"/><stop offset="0.1391" stop-color="#2d3190"/><stop offset="0.1413" stop-color="#2d3190"/><stop offset="0.1435" stop-color="#2d3190"/><stop offset="0.1457" stop-color="#2d3190"/><stop offset="0.1478" stop-color="#2d3190"/><stop offset="0.15" stop-color="#2d3190"/><stop offset="0.1522" stop-color="#2d3190"/><stop offset="0.1543" stop-color="#2d3190"/><stop offset="0.1565" stop-color="#2d3190"/><stop offset="0.1587" stop-color="#2d3190"/><stop offset="0.1609" stop-color="#2d3190"/><stop offset="0.163" stop-color="#2d3190"/><stop offset="0.1652" stop-color="#2d3190"/><stop offset="0.1674" stop-color="#2d3190"/><stop offset="0.1696" stop-color="#2d3190"/><stop offset="0.1717" stop-color="#2d3190"/><stop offset="0.1739" stop-color="#2d3190"/><stop offset="0.1761" stop-color="#2d3190"/><stop offset="0.1783" stop-color="#2d3190"/><stop offset="0.1804" stop-color="#2d3190"/><stop offset="0.1826" stop-color="#2d3190"/><stop offset="0.1848" stop-color="#2d3190"/><stop offset="0.187" stop-color="#2d3190"/><stop offset="0.1891" stop-color="#2d3190"/><stop offset="0.1913" stop-color="#2d3190"/><stop offset="0.1935" stop-color="#2d3190"/><stop offset="0.1957" stop-color="#2d3190"/><stop offset="0.1978" stop-color="#2d3190"/><stop offset="0.2" stop-color="#2d3190"/><stop offset="0.2022" stop-color="#2d3190"/><stop offset="0.2043" stop-color="#2d3190"/><stop offset="0.2065" stop-color="#2d3190"/><stop offset="0.2087" stop-color="#2d3190"/><stop offset="0.2109" stop-color="#2d3190"/><stop offset="0.213" stop-color="#2d3190"/><stop offset="0.2152" stop-color="#2d3190"/><stop offset="0.2174" stop-color="#2d3190"/><stop offset="0.2196" stop-color="#2d3190"/><stop offset="0.2217" stop-color="#2d3190"/><stop offset="0.2239" stop-color="#2d3190"/><stop offset="0.2261" stop-color="#2d3190"/><stop offset="0.2283" stop-color="#2d3190"/><stop offset="0.2304" stop-color="#2d3190"/><stop offset="0.2326" stop-color="#2d3190"/><stop offset="0.2348" stop-color="#2d3190"/><stop offset="0.237" stop-color="#2d3190"/><stop offset="0.2391" stop-color="#2d3190"/><stop offset="0.2413" stop-color="#2d3190"/><stop offset="0.2435" stop-color="#2d3190"/><stop offset="0.2457" stop-color="#2d3190"/><stop offset="0.2478" stop-color="#2d3190"/><stop offset="0.25" stop-color="#2d3190"/><stop offset="0.2522" stop-color="#2d3190"/><stop offset="0.2543" stop-color="#2d3190"/><stop offset="0.2565" stop-color="#2d3190"/><stop offset="0.2587" stop-color="#2d3190"/><stop offset="0.2609" stop-color="#2d3190"/><stop offset="0.263" stop-color="#2d3190"/><stop offset="0.2652" stop-color="#2d3190"/><stop offset="0.2674" stop-color="#2d3190"/><stop offset="0.2696" stop-color="#2d3190"/><stop offset="0.2717" stop-color="#2d3190"/><stop offset="0.2739" stop-color="#2d3190"/><stop offset="0.2761" stop-color="#2d3190"/><stop offset="0.2783" stop-color="#2d3190"/><stop offset="0.2804" stop-color="#2d3190"/><stop offset="0.2826" stop-color="#2d3190"/><stop offset="0.2848" stop-color="#2d3190"/><stop offset="0.287" stop-color="#2d3190"/><stop offset="0.2891" stop-color="#2d3190"/><stop offset="0.2913" stop-color="#2d3190"/><stop offset="0.2935" stop-color="#2d3190"/><stop offset="0.2957" stop-color="#2d3190"/><stop offset="0.2978" stop-color="#2d3190"/><stop offset="0.3" stop-color="#2d3190"/><stop offset="0.3022" stop-color="#2d3190"/><stop offset="0.3043" stop-color="#2d3190"/><stop offset="0.3065" stop-color="#2d3190"/><stop offset="0.3087" stop-color="#2d3190"/><stop offset="0.3109" stop-color="#2d3190"/><stop offset="0.313" stop-color="#2d3190"/><stop offset="0.3152" stop-color="#2d3190"/><stop offset="0.3174" stop-color="#2d3190"/><stop offset="0.3196" stop-color="#2d3190"/><stop offset="0.3217" stop-color="#2d3190"/><stop offset="0.3239" stop-color="#2d3190"/><stop offset="0.3261" stop-color="#2d3190"/><stop offset="0.3283" stop-color="#2d3190"/><stop offset="0.3304" stop-color="#2d3190"/><stop offset="0.3326" stop-color="#2d3190"/><stop offset="0.3348" stop-color="#2d3190"/><stop offset="0.337" stop-color="#2d3190"/><stop offset="0.3391" stop-color="#2d3190"/><stop offset="0.3413" stop-color="#2d3190"/><stop offset="0.3435" stop-color="#2d3190"/><stop offset="0.3457" stop-color="#2d3190"/><stop offset="0.3478" stop-color="#2d3190"/><stop offset="0.35" stop-color="#2d318f"/><stop offset="0.3522" stop-color="#2d318f"/><stop offset="0.3543" stop-color="#2d318f"/><stop offset="0.3565" stop-color="#2d318f"/><stop offset="0.3587" stop-color="#2d318f"/><stop offset="0.3609" stop-color="#2d318f"/><stop offset="0.363" stop-color="#2d318f"/><stop offset="0.3652" stop-color="#2d318f"/><stop offset="0.3674" stop-color="#2d318f"/><stop offset="0.3696" stop-color="#2d318f"/><stop offset="0.3717" stop-color="#2d318f"/><stop offset="0.3739" stop-color="#2d318f"/><stop offset="0.3761" stop-color="#2d318f"/><stop offset="0.3783" stop-color="#2d318f"/><stop offset="0.3804" stop-color="#2d318f"/><stop offset="0.3826" stop-color="#2d318f"/><stop offset="0.3848" stop-color="#2d318f"/><stop offset="0.387" stop-color="#2d318f"/><stop offset="0.3891" stop-color="#2d318f"/><stop offset="0.3913" stop-color="#2d318f"/><stop offset="0.3935" stop-color="#2d318f"/><stop offset="0.3957" stop-color="#2d318f"/><stop offset="0.3978" stop-color="#2d318f"/><stop offset="0.4" stop-color="#2d318f"/><stop offset="0.4022" stop-color="#2d318f"/><stop offset="0.4043" stop-color="#2d318f"/><stop offset="0.4065" stop-color="#2d318f"/><stop offset="0.4087" stop-color="#2d318f"/><stop offset="0.4109" stop-color="#2d318f"/><stop offset="0.413" stop-color="#2d318f"/><stop offset="0.4152" stop-color="#2d318f"/><stop offset="0.4174" stop-color="#2d318f"/><stop offset="0.4196" stop-color="#2d318f"/><stop offset="0.4217" stop-color="#2d318f"/><stop offset="0.4239" stop-color="#2d318f"/><stop offset="0.4261" stop-color="#2d318f"/><stop offset="0.4283" stop-color="#2d318f"/><stop offset="0.4304" stop-color="#2d318f"/><stop offset="0.4326" stop-color="#2d318f"/><stop offset="0.4348" stop-color="#2d318f"/><stop offset="0.437" stop-color="#2d318f"/><stop offset="0.4391" stop-color="#2d318f"/><stop offset="0.4413" stop-color="#2d318f"/><stop offset="0.4435" stop-color="#2d318f"/><stop offset="0.4457" stop-color="#2d318f"/><stop offset="0.4478" stop-color="#2d318f"/><stop offset="0.45" stop-color="#2d318f"/><stop offset="0.4522" stop-color="#2d318f"/><stop offset="0.4543" stop-color="#2d318f"/><stop offset="0.4565" stop-color="#2d318f"/><stop offset="0.4587" stop-color="#2d318f"/><stop offset="0.4609" stop-color="#2d318f"/><stop offset="0.463" stop-color="#2d318f"/><stop offset="0.4652" stop-color="#2d318f"/><stop offset="0.4674" stop-color="#2d318f"/><stop offset="0.4696" stop-color="#2d318f"/><stop offset="0.4717" stop-color="#2d318f"/><stop offset="0.4739" stop-color="#2d318f"/><stop offset="0.4761" stop-color="#2d318f"/><stop offset="0.4783" stop-color="#2d318f"/><stop offset="0.4804" stop-color="#2d318f"/><stop offset="0.4826" stop-color="#2d318f"/><stop offset="0.4848" stop-color="#2d318f"/><stop offset="0.487" stop-color="#2d318f"/><stop offset="0.4891" stop-color="#2d318f"/><stop offset="0.4913" stop-color="#2d318f"/><stop offset="0.4935" stop-color="#2d318f"/><stop offset="0.4957" stop-color="#2d318f"/><stop offset="0.4978" stop-color="#2d318f"/><stop offset="0.5" stop-color="#2d318f"/><stop offset="0.5022" stop-color="#2d318f"/><stop offset="0.5043" stop-color="#2d318f"/><stop offset="0.5065" stop-color="#2d318f"/><stop offset="0.5087" stop-color="#2d318f"/><stop offset="0.5109" stop-color="#2d318f"/><stop offset="0.513" stop-color="#2d318f"/><stop offset="0.5152" stop-color="#2d318f"/><stop offset="0.5174" stop-color="#2d318f"/><stop offset="0.5196" stop-color="#2d318f"/><stop offset="0.5217" stop-color="#2d318f"/><stop offset="0.5239" stop-color="#2d318f"/><stop offset="0.5261" stop-color="#2d318f"/><stop offset="0.5283" stop-color="#2d318f"/><stop offset="0.5304" stop-color="#2d318f"/><stop offset="0.5326" stop-color="#2d318f"/><stop offset="0.5348" stop-color="#2d318f"/><stop offset="0.537" stop-color="#2d318f"/><stop offset="0.5391" stop-color="#2d318f"/><stop offset="0.5413" stop-color="#2d318f"/><stop offset="0.5435" stop-color="#2d318f"/><stop offset="0.5457" stop-color="#2d318f"/><stop offset="0.5478" stop-color="#2d318f"/><stop offset="0.55" stop-color="#2d318f"/><stop offset="0.5522" stop-color="#2d318f"/><stop offset="0.5543" stop-color="#2d318f"/><stop offset="0.5565" stop-color="#2d318f"/><stop offset="0.5587" stop-color="#2d318f"/><stop offset="0.5609" stop-color="#2d318f"/><stop offset="0.563" stop-color="#2d318f"/><stop offset="0.5652" stop-color="#2d318f"/><stop offset="0.5674" stop-color="#2d318f"/><stop offset="0.5696" stop-color="#2d318f"/><stop offset="0.5717" stop-color="#2d318f"/><stop offset="0.5739" stop-color="#2d318f"/><stop offset="0.5761" stop-color="#2d318f"/><stop offset="0.5783" stop-color="#2d318f"/><stop offset="0.5804" stop-color="#2d318f"/><stop offset="0.5826" stop-color="#2d318f"/><stop offset="0.5848" stop-color="#2d318f"/><stop offset="0.587" stop-color="#2d318f"/><stop offset="0.5891" stop-color="#2d318f"/><stop offset="0.5913" stop-color="#2d318f"/><stop offset="0.5935" stop-color="#2d318f"/><stop offset="0.5957" stop-color="#2d318f"/><stop offset="0.5978" stop-color="#2d318f"/><stop offset="0.6" stop-color="#2d318f"/><stop offset="0.6022" stop-color="#2d318f"/><stop offset="0.6043" stop-color="#2d318f"/><stop offset="0.6065" stop-color="#2d318f"/><stop offset="0.6087" stop-color="#2d318f"/><stop offset="0.6109" stop-color="#2d318f"/><stop offset="0.613" stop-color="#2d318f"/><stop offset="0.6152" stop-color="#2d318f"/><stop offset="0.6174" stop-color="#2d318f"/><stop offset="0.6196" stop-color="#2d318f"/><stop offset="0.6217" stop-color="#2d318f"/><stop offset="0.6239" stop-color="#2d318f"/><stop offset="0.6261" stop-color="#2d318f"/><stop offset="0.6283" stop-color="#2d318f"/><stop offset="0.6304" stop-color="#2d318f"/><stop offset="0.6326" stop-color="#2d318f"/><stop offset="0.6348" stop-color="#2d318f"/><stop offset="0.637" stop-color="#2d318f"/><stop offset="0.6391" stop-color="#2d318f"/><stop offset="0.6413" stop-color="#2d318f"/><stop offset="0.6435" stop-color="#2d318f"/><stop offset="0.6457" stop-color="#2d318f"/><stop offset="0.6478" stop-color="#2d318f"/><stop offset="0.65" stop-color="#2d318f"/><stop offset="0.6522" stop-color="#2d318f"/><stop offset="0.6543" stop-color="#2d318f"/><stop offset="0.6565" stop-color="#2d318f"/><stop offset="0.6587" stop-color="#2d318f"/><stop offset="0.6609" stop-color="#2d318f"/><stop offset="0.663" stop-color="#2d318f"/><stop offset="0.6652" stop-color="#2d318f"/><stop offset="0.6674" stop-color="#2d318f"/><stop offset="0.6696" stop-color="#2d318f"/><stop offset="0.6717" stop-color="#2d318f"/><stop offset="0.6739" stop-color="#2d318f"/><stop offset="0.6761" stop-color="#2d318f"/><stop offset="0.6783" stop-color="#2d318f"/><stop offset="0.6804" stop-color="#2d318f"/><stop offset="0.6826" stop-color="#2d318f"/><stop offset="0.6848" stop-color="#2d318f"/><stop offset="0.687" stop-color="#2d318f"/><stop offset="0.6891" stop-color="#2d318f"/><stop offset="0.6913" stop-color="#2d318f"/><stop offset="0.6935" stop-color="#2d318f"/><stop offset="0.6957" stop-color="#2d318f"/><stop offset="0.6978" stop-color="#2d318f"/><stop offset="0.7" stop-color="#2d318f"/><stop offset="0.7022" stop-color="#2d318f"/><stop offset="0.7043" stop-color="#2d318f"/><stop offset="0.7065" stop-color="#2d318f"/><stop offset="0.7087" stop-color="#2d318f"/><stop offset="0.7109" stop-color="#2d318f"/><stop offset="0.713" stop-color="#2d318f"/><stop offset="0.7152" stop-color="#2d318f"/><stop offset="0.7174" stop-color="#2d318f"/><stop offset="0.7196" stop-color="#2d318f"/><stop offset="0.7217" stop-color="#2d318f"/><stop offset="0.7239" stop-color="#2d318f"/><stop offset="0.7261" stop-color="#2d318f"/><stop offset="0.7283" stop-color="#2d318f"/><stop offset="0.7304" stop-color="#2d318f"/><stop offset="0.7326" stop-color="#2d318f"/><stop offset="0.7348" stop-color="#2d318f"/><stop offset="0.737" stop-color="#2d318f"/><stop offset="0.7391" stop-color="#2d318f"/><stop offset="0.7413" stop-color="#2d318f"/><stop offset="0.7435" stop-color="#2d318f"/><stop offset="0.7457" stop-color="#2d318f"/><stop offset="0.7478" stop-color="#2d318f"/><stop offset="0.75" stop-color="#2d318f"/><stop offset="0.7522" stop-color="#2d318f"/><stop offset="0.7543" stop-color="#2d318f"/><stop offset="0.7565" stop-color="#2d318f"/><stop offset="0.7587" stop-color="#2d318f"/><stop offset="0.7609" stop-color="#2d318f"/><stop offset="0.763" stop-color="#2d318f"/><stop offset="0.7652" stop-color="#2d318f"/><stop offset="0.7674" stop-color="#2d318f"/><stop offset="0.7696" stop-color="#2d318f"/><stop offset="0.7717" stop-color="#2d318f"/><stop offset="0.7739" stop-color="#2d318f"/><stop offset="0.7761" stop-color="#2d318f"/><stop offset="0.7783" stop-color="#2d318f"/><stop offset="0.7804" stop-color="#2d318f"/><stop offset="0.7826" stop-color="#2d318f"/><stop offset="0.7848" stop-color="#2d318f"/><stop offset="0.787" stop-color="#2d318f"/><stop offset="0.7891" stop-color="#2d318f"/><stop offset="0.7913" stop-color="#2d318f"/><stop offset="0.7935" stop-color="#2d318f"/><stop offset="0.7957" stop-color="#2d318f"/><stop offset="0.7978" stop-color="#2d318f"/><stop offset="0.8" stop-color="#2d318f"/><stop offset="0.8022" stop-color="#2d318f"/><stop offset="0.8043" stop-color="#2d318f"/><stop offset="0.8065" stop-color="#2d318f"/><stop offset="0.8087" stop-color="#2d318f"/><stop offset="0.8109" stop-color="#2d318f"/><stop offset="0.813" stop-color="#2d318f"/><stop offset="0.8152" stop-color="#2d318f"/><stop offset="0.8174" stop-color="#2d318f"/><stop offset="0.8196" stop-color="#2d318f"/><stop offset="0.8217" stop-color="#2d318f"/><stop offset="0.8239" stop-color="#2d318f"/><stop offset="0.8261" stop-color="#2d318f"/><stop offset="0.8283" stop-color="#2d318f"/><stop offset="0.8304" stop-color="#2d318f"/><stop offset="0.8326" stop-color="#2d318f"/><stop offset="0.8348" stop-color="#2d318f"/><stop offset="0.837" stop-color="#2d318e"/><stop offset="0.8391" stop-color="#2d318e"/><stop offset="0.8413" stop-color="#2d318e"/><stop offset="0.8435" stop-color="#2d318e"/><stop offset="0.8457" stop-color="#2d318e"/><stop offset="0.8478" stop-color="#2d318e"/><stop offset="0.85" stop-color="#2d318e"/><stop offset="0.8522" stop-color="#2d318e"/><stop offset="0.8543" stop-color="#2d318e"/><stop offset="0.8565" stop-color="#2d318e"/><stop offset="0.8587" stop-color="#2d318e"/><stop offset="0.8609" stop-color="#2d318e"/><stop offset="0.863" stop-color="#2d318e"/><stop offset="0.8652" stop-color="#2d318e"/><stop offset="0.8674" stop-color="#2d318e"/><stop offset="0.8696" stop-color="#2d318e"/><stop offset="0.8717" stop-color="#2d318e"/><stop offset="0.8739" stop-color="#2d318e"/><stop offset="0.8761" stop-color="#2d318e"/><stop offset="0.8783" stop-color="#2d318e"/><stop offset="0.8804" stop-color="#2d318e"/><stop offset="0.8826" stop-color="#2d318e"/><stop offset="0.8848" stop-color="#2d308e"/><stop offset="0.887" stop-color="#2d308e"/><stop offset="0.8891" stop-color="#2d308e"/><stop offset="0.8913" stop-color="#2d308e"/><stop offset="0.8935" stop-color="#2d308e"/><stop offset="0.8957" stop-color="#2d308e"/><stop offset="0.8978" stop-color="#2d308e"/><stop offset="0.9" stop-color="#2d308e"/><stop offset="0.9022" stop-color="#2d308e"/><stop offset="0.9043" stop-color="#2d308e"/><stop offset="0.9065" stop-color="#2d308e"/><stop offset="0.9087" stop-color="#2d308e"/><stop offset="0.9109" stop-color="#2d308e"/><stop offset="0.913" stop-color="#2d308e"/><stop offset="0.9152" stop-color="#2d308e"/><stop offset="0.9174" stop-color="#2d308e"/><stop offset="0.9196" stop-color="#2d308e"/><stop offset="0.9217" stop-color="#2d308e"/><stop offset="0.9239" stop-color="#2d308e"/><stop offset="0.9261" stop-color="#2d308e"/><stop offset="0.9283" stop-color="#2d308e"/><stop offset="0.9304" stop-color="#2d308e"/><stop offset="0.9326" stop-color="#2d308e"/><stop offset="0.9348" stop-color="#2d308e"/><stop offset="0.937" stop-color="#2d308e"/><stop offset="0.9391" stop-color="#2d308e"/><stop offset="0.9413" stop-color="#2d308e"/><stop offset="0.9435" stop-color="#2d308e"/><stop offset="0.9457" stop-color="#2d308e"/><stop offset="0.9478" stop-color="#2d308e"/><stop offset="0.95" stop-color="#2d308e"/><stop offset="0.9522" stop-color="#2d308e"/><stop offset="0.9543" stop-color="#2d308e"/><stop offset="0.9565" stop-color="#2d308e"/><stop offset="0.9587" stop-color="#2d308e"/><stop offset="0.9609" stop-color="#2d308e"/><stop offset="0.963" stop-color="#2d308e"/><stop offset="0.9652" stop-color="#2d308e"/><stop offset="0.9674" stop-color="#2d308e"/><stop offset="0.9696" stop-color="#2d308e"/><stop offset="0.9717" stop-color="#2d308e"/><stop offset="0.9739" stop-color="#2d308e"/><stop offset="0.9761" stop-color="#2d308e"/><stop offset="0.9783" stop-color="#2d308e"/><stop offset="0.9804" stop-color="#2d308e"/><stop offset="0.9826" stop-color="#2d308e"/><stop offset="0.9848" stop-color="#2d308e"/><stop offset="0.987" stop-color="#2d308e"/><stop offset="0.9891" stop-color="#2d308e"/><stop offset="0.9913" stop-color="#2d308e"/><stop offset="0.9935" stop-color="#2d308e"/><stop offset="0.9957" stop-color="#2d308e"/><stop offset="0.9978" stop-color="#2d308e"/><stop offset="1" stop-color="#2d308e"/></linearGradient><linearGradient id="g107" x1="0" x2="0" y1="0" y2="1"><stop offset="0.0000" stop-color="#7d191e"/><stop offset="0.0210" stop-color="#901c20"/><stop offset="0.0550" stop-color="#b01c22"/><stop offset="0.0900" stop-color="#d81c24"/><stop offset="0.1240" stop-color="#e82028"/><stop offset="0.1580" stop-color="#e83828"/><stop offset="0.1920" stop-color="#ec5828"/><stop offset="0.2260" stop-color="#f07030"/><stop offset="0.2490" stop-color="#f08030"/><stop offset="0.2840" stop-color="#f0a030"/><stop offset="0.3180" stop-color="#f0c028"/><stop offset="0.3520" stop-color="#f0e020"/><stop offset="0.3870" stop-color="#f0e818"/><stop offset="0.4210" stop-color="#d0d820"/><stop offset="0.4550" stop-color="#b0d040"/><stop offset="0.4900" stop-color="#98c858"/><stop offset="0.5240" stop-color="#88c068"/><stop offset="0.5800" stop-color="#70c2aa"/><stop offset="0.6160" stop-color="#60c2cc"/><stop offset="0.6500" stop-color="#50c0e2"/><stop offset="0.6840" stop-color="#40b8ee"/><stop offset="0.7300" stop-color="#3896d7"/><stop offset="0.7530" stop-color="#3a78c8"/><stop offset="0.7870" stop-color="#3a60b8"/><stop offset="0.8330" stop-color="#3a50a8"/><stop offset="0.8900" stop-color="#34449e"/><stop offset="0.9470" stop-color="#2e3894"/><stop offset="0.9820" stop-color="#202880"/><stop offset="1.0000" stop-color="#1c2070"/></linearGradient><linearGradient id="g108"><stop offset="0" stop-color="#f5e31e"/><stop offset="0.0034" stop-color="#f2e520"/><stop offset="0.0067" stop-color="#e9e225"/><stop offset="0.0101" stop-color="#e1e02b"/><stop offset="0.0134" stop-color="#b5d245"/><stop offset="0.0168" stop-color="#76c8c1"/><stop offset="0.0201" stop-color="#3bbbec"/><stop offset="0.0235" stop-color="#2ea6e4"/><stop offset="0.0268" stop-color="#2f87ce"/><stop offset="0.0302" stop-color="#3273bf"/><stop offset="0.0335" stop-color="#3664b4"/><stop offset="0.0369" stop-color="#3a56a9"/><stop offset="0.0402" stop-color="#3649a1"/><stop offset="0.0436" stop-color="#33419c"/><stop offset="0.0469" stop-color="#323c98"/><stop offset="0.0503" stop-color="#303795"/><stop offset="0.0536" stop-color="#2e3291"/><stop offset="0.057" stop-color="#2d308e"/><stop offset="0.0603" stop-color="#2c2f8b"/><stop offset="0.0637" stop-color="#2b2f8a"/><stop offset="0.067" stop-color="#2b2e89"/><stop offset="0.0704" stop-color="#2b2e88"/><stop offset="0.0737" stop-color="#2a2d87"/><stop offset="0.0771" stop-color="#2a2d86"/><stop offset="0.0804" stop-color="#2a2c85"/><stop offset="0.0838" stop-color="#292c83"/><stop offset="0.0872" stop-color="#292c83"/><stop offset="0.0905" stop-color="#292b82"/><stop offset="0.0939" stop-color="#292b82"/><stop offset="0.0972" stop-color="#292b82"/><stop offset="0.1006" stop-color="#282b81"/><stop offset="0.1039" stop-color="#282b81"/><stop offset="0.1073" stop-color="#282b81"/><stop offset="0.1106" stop-color="#282b81"/><stop offset="0.114" stop-color="#282b80"/><stop offset="0.1173" stop-color="#282a80"/><stop offset="0.1207" stop-color="#282a80"/><stop offset="0.124" stop-color="#282a7f"/><stop offset="0.1274" stop-color="#282a7f"/><stop offset="0.1307" stop-color="#282a7f"/><stop offset="0.1341" stop-color="#282a7f"/><stop offset="0.1374" stop-color="#282a80"/><stop offset="0.1408" stop-color="#282b80"/><stop offset="0.1441" stop-color="#282b81"/><stop offset="0.1475" stop-color="#282b81"/><stop offset="0.1508" stop-color="#292b82"/><stop offset="0.1542" stop-color="#292b82"/><stop offset="0.1575" stop-color="#292c83"/><stop offset="0.1609" stop-color="#292c83"/><stop offset="0.1642" stop-color="#292c84"/><stop offset="0.1676" stop-color="#292c84"/><stop offset="0.1709" stop-color="#2a2d86"/><stop offset="0.1743" stop-color="#2b2f8a"/><stop offset="0.1777" stop-color="#2d308e"/><stop offset="0.181" stop-color="#2e3292"/><stop offset="0.1844" stop-color="#303896"/><stop offset="0.1877" stop-color="#323e9a"/><stop offset="0.1911" stop-color="#34439d"/><stop offset="0.1944" stop-color="#3649a1"/><stop offset="0.1978" stop-color="#384fa5"/><stop offset="0.2011" stop-color="#3a55a8"/><stop offset="0.2045" stop-color="#385cae"/><stop offset="0.2078" stop-color="#3662b3"/><stop offset="0.2112" stop-color="#3569b8"/><stop offset="0.2145" stop-color="#307dc6"/><stop offset="0.2179" stop-color="#2f90d4"/><stop offset="0.2212" stop-color="#2fa9e5"/><stop offset="0.2246" stop-color="#3abaec"/><stop offset="0.2279" stop-color="#61c6d9"/><stop offset="0.2313" stop-color="#82c8a3"/><stop offset="0.2346" stop-color="#a4ce63"/><stop offset="0.238" stop-color="#bcd441"/><stop offset="0.2413" stop-color="#dbde2e"/><stop offset="0.2447" stop-color="#f5e31e"/><stop offset="0.248" stop-color="#f7cb1e"/><stop offset="0.2514" stop-color="#f7b41f"/><stop offset="0.2547" stop-color="#f59c20"/><stop offset="0.2581" stop-color="#f37c21"/><stop offset="0.2615" stop-color="#ef5a23"/><stop offset="0.2648" stop-color="#e93425"/><stop offset="0.2682" stop-color="#df2225"/><stop offset="0.2715" stop-color="#cf1e23"/><stop offset="0.2749" stop-color="#bf1b21"/><stop offset="0.2782" stop-color="#ae191f"/><stop offset="0.2816" stop-color="#99171c"/><stop offset="0.2849" stop-color="#831619"/><stop offset="0.2883" stop-color="#6e1416"/><stop offset="0.2916" stop-color="#7c1518"/><stop offset="0.295" stop-color="#8a161a"/><stop offset="0.2983" stop-color="#98171c"/><stop offset="0.3017" stop-color="#a6181e"/><stop offset="0.305" stop-color="#b91a21"/><stop offset="0.3084" stop-color="#c91d22"/><stop offset="0.3117" stop-color="#d82024"/><stop offset="0.3151" stop-color="#e62526"/><stop offset="0.3184" stop-color="#ea3a25"/><stop offset="0.3218" stop-color="#ed4f24"/><stop offset="0.3251" stop-color="#f06423"/><stop offset="0.3285" stop-color="#f37e21"/><stop offset="0.3318" stop-color="#f59a20"/><stop offset="0.3352" stop-color="#f7af1f"/><stop offset="0.3385" stop-color="#f8bf1e"/><stop offset="0.3419" stop-color="#f7cc1e"/><stop offset="0.3453" stop-color="#f6da1e"/><stop offset="0.3486" stop-color="#f3e51f"/><stop offset="0.352" stop-color="#dedf2c"/><stop offset="0.3553" stop-color="#cad939"/><stop offset="0.3587" stop-color="#b5d245"/><stop offset="0.362" stop-color="#a5cf61"/><stop offset="0.3654" stop-color="#91ca84"/><stop offset="0.3687" stop-color="#83c8a1"/><stop offset="0.3721" stop-color="#7ac8b8"/><stop offset="0.3754" stop-color="#73c8c9"/><stop offset="0.3788" stop-color="#67c7d5"/><stop offset="0.3821" stop-color="#58c4de"/><stop offset="0.3855" stop-color="#4ac2e7"/><stop offset="0.3888" stop-color="#3dbfee"/><stop offset="0.3922" stop-color="#38b7eb"/><stop offset="0.3955" stop-color="#33afe8"/><stop offset="0.3989" stop-color="#30aae6"/><stop offset="0.4022" stop-color="#2ea7e5"/><stop offset="0.4056" stop-color="#2da3e2"/><stop offset="0.4089" stop-color="#2e9ede"/><stop offset="0.4123" stop-color="#2e98db"/><stop offset="0.4156" stop-color="#2e93d7"/><stop offset="0.419" stop-color="#2e92d6"/><stop offset="0.4223" stop-color="#2e91d5"/><stop offset="0.4257" stop-color="#2f91d5"/><stop offset="0.4291" stop-color="#2f90d4"/><stop offset="0.4324" stop-color="#2f8fd3"/><stop offset="0.4358" stop-color="#2f8ed2"/><stop offset="0.4391" stop-color="#2f8ed3"/><stop offset="0.4425" stop-color="#2e92d6"/><stop offset="0.4458" stop-color="#2e96d9"/><stop offset="0.4492" stop-color="#2e99db"/><stop offset="0.4525" stop-color="#2e9dde"/><stop offset="0.4559" stop-color="#2da1e1"/><stop offset="0.4592" stop-color="#2da6e4"/><stop offset="0.4626" stop-color="#30abe6"/><stop offset="0.4659" stop-color="#34afe8"/><stop offset="0.4693" stop-color="#37b4ea"/><stop offset="0.4726" stop-color="#3ab9ec"/><stop offset="0.476" stop-color="#3dbeed"/><stop offset="0.4793" stop-color="#42c1ec"/><stop offset="0.4827" stop-color="#48c2e8"/><stop offset="0.486" stop-color="#4ec2e5"/><stop offset="0.4894" stop-color="#53c3e1"/><stop offset="0.4927" stop-color="#59c4de"/><stop offset="0.4961" stop-color="#5fc5da"/><stop offset="0.4994" stop-color="#65c6d7"/><stop offset="0.5028" stop-color="#6bc7d3"/><stop offset="0.5061" stop-color="#70c8cf"/><stop offset="0.5095" stop-color="#73c8c9"/><stop offset="0.5128" stop-color="#76c8c2"/><stop offset="0.5162" stop-color="#78c8bb"/><stop offset="0.5196" stop-color="#7bc8b4"/><stop offset="0.5229" stop-color="#7ec8ac"/><stop offset="0.5263" stop-color="#81c8a5"/><stop offset="0.5296" stop-color="#84c89d"/><stop offset="0.533" stop-color="#87c896"/><stop offset="0.5363" stop-color="#8dc98c"/><stop offset="0.5397" stop-color="#93cb82"/><stop offset="0.543" stop-color="#98cc77"/><stop offset="0.5464" stop-color="#9ecd6d"/><stop offset="0.5497" stop-color="#a4ce63"/><stop offset="0.5531" stop-color="#a5cf60"/><stop offset="0.5564" stop-color="#a7cf5d"/><stop offset="0.5598" stop-color="#a9d05a"/><stop offset="0.5631" stop-color="#abd057"/><stop offset="0.5665" stop-color="#acd054"/><stop offset="0.5698" stop-color="#aed151"/><stop offset="0.5732" stop-color="#b0d14e"/><stop offset="0.5765" stop-color="#b1d14b"/><stop offset="0.5799" stop-color="#b3d248"/><stop offset="0.5832" stop-color="#b5d245"/><stop offset="0.5866" stop-color="#b7d344"/><stop offset="0.5899" stop-color="#bad442"/><stop offset="0.5933" stop-color="#bcd541"/><stop offset="0.5966" stop-color="#bfd53f"/><stop offset="0.6" stop-color="#c1d63e"/><stop offset="0.6034" stop-color="#bed540"/><stop offset="0.6067" stop-color="#bbd442"/><stop offset="0.6101" stop-color="#b8d344"/><stop offset="0.6134" stop-color="#b5d246"/><stop offset="0.6168" stop-color="#b2d249"/><stop offset="0.6201" stop-color="#b0d14d"/><stop offset="0.6235" stop-color="#aed151"/><stop offset="0.6268" stop-color="#acd055"/><stop offset="0.6302" stop-color="#aad059"/><stop offset="0.6335" stop-color="#a7cf5c"/><stop offset="0.6369" stop-color="#a5cf60"/><stop offset="0.6402" stop-color="#a3ce64"/><stop offset="0.6436" stop-color="#a1ce68"/><stop offset="0.6469" stop-color="#9dcd6e"/><stop offset="0.6503" stop-color="#99cc76"/><stop offset="0.6536" stop-color="#95cb7e"/><stop offset="0.657" stop-color="#90ca85"/><stop offset="0.6603" stop-color="#8cc98d"/><stop offset="0.6637" stop-color="#88c895"/><stop offset="0.667" stop-color="#85c89b"/><stop offset="0.6704" stop-color="#83c8a0"/><stop offset="0.6737" stop-color="#81c8a6"/><stop offset="0.6771" stop-color="#7fc8ab"/><stop offset="0.6804" stop-color="#7dc8b0"/><stop offset="0.6838" stop-color="#7bc8b4"/><stop offset="0.6872" stop-color="#79c8b8"/><stop offset="0.6905" stop-color="#78c8bd"/><stop offset="0.6939" stop-color="#76c8c1"/><stop offset="0.6972" stop-color="#74c8c5"/><stop offset="0.7006" stop-color="#73c8c9"/><stop offset="0.7039" stop-color="#71c8cd"/><stop offset="0.7073" stop-color="#6fc8d1"/><stop offset="0.7106" stop-color="#6bc7d3"/><stop offset="0.714" stop-color="#6ac7d4"/><stop offset="0.7173" stop-color="#69c7d4"/><stop offset="0.7207" stop-color="#69c7d4"/><stop offset="0.724" stop-color="#68c7d5"/><stop offset="0.7274" stop-color="#68c7d5"/><stop offset="0.7307" stop-color="#67c7d5"/><stop offset="0.7341" stop-color="#67c7d6"/><stop offset="0.7374" stop-color="#66c6d6"/><stop offset="0.7408" stop-color="#66c6d6"/><stop offset="0.7441" stop-color="#65c6d6"/><stop offset="0.7475" stop-color="#65c6d7"/><stop offset="0.7508" stop-color="#64c6d7"/><stop offset="0.7542" stop-color="#64c6d7"/><stop offset="0.7575" stop-color="#63c6d8"/><stop offset="0.7609" stop-color="#63c6d8"/><stop offset="0.7642" stop-color="#62c6d8"/><stop offset="0.7676" stop-color="#62c6d8"/><stop offset="0.7709" stop-color="#64c6d7"/><stop offset="0.7743" stop-color="#66c6d6"/><stop offset="0.7777" stop-color="#68c7d5"/><stop offset="0.781" stop-color="#6ac7d4"/><stop offset="0.7844" stop-color="#6cc7d2"/><stop offset="0.7877" stop-color="#6ec8d1"/><stop offset="0.7911" stop-color="#70c8d0"/><stop offset="0.7944" stop-color="#71c8ce"/><stop offset="0.7978" stop-color="#72c8cb"/><stop offset="0.8011" stop-color="#73c8c9"/><stop offset="0.8045" stop-color="#74c8c6"/><stop offset="0.8078" stop-color="#75c8c3"/><stop offset="0.8112" stop-color="#76c8c1"/><stop offset="0.8145" stop-color="#77c8be"/><stop offset="0.8179" stop-color="#78c8bb"/><stop offset="0.8212" stop-color="#79c8b8"/><stop offset="0.8246" stop-color="#7ac8b6"/><stop offset="0.8279" stop-color="#7cc8b3"/><stop offset="0.8313" stop-color="#7dc8b0"/><stop offset="0.8346" stop-color="#7ec8ad"/><stop offset="0.838" stop-color="#7fc8aa"/><stop offset="0.8413" stop-color="#80c8a8"/><stop offset="0.8447" stop-color="#81c8a5"/><stop offset="0.848" stop-color="#82c8a4"/><stop offset="0.8514" stop-color="#82c8a3"/><stop offset="0.8547" stop-color="#82c8a3"/><stop offset="0.8581" stop-color="#82c8a3"/><stop offset="0.8615" stop-color="#82c8a3"/><stop offset="0.8648" stop-color="#82c8a2"/><stop offset="0.8682" stop-color="#82c8a2"/><stop offset="0.8715" stop-color="#82c8a2"/><stop offset="0.8749" stop-color="#83c8a1"/><stop offset="0.8782" stop-color="#83c8a1"/><stop offset="0.8816" stop-color="#83c8a1"/><stop offset="0.8849" stop-color="#83c8a0"/><stop offset="0.8883" stop-color="#83c8a0"/><stop offset="0.8916" stop-color="#83c8a0"/><stop offset="0.895" stop-color="#83c89f"/><stop offset="0.8983" stop-color="#83c89f"/><stop offset="0.9017" stop-color="#83c89f"/><stop offset="0.905" stop-color="#84c89f"/><stop offset="0.9084" stop-color="#84c89e"/><stop offset="0.9117" stop-color="#84c89e"/><stop offset="0.9151" stop-color="#84c89e"/><stop offset="0.9184" stop-color="#84c89d"/><stop offset="0.9218" stop-color="#84c89d"/><stop offset="0.9251" stop-color="#84c89d"/><stop offset="0.9285" stop-color="#84c89c"/><stop offset="0.9318" stop-color="#85c89c"/><stop offset="0.9352" stop-color="#85c89c"/><stop offset="0.9385" stop-color="#85c89c"/><stop offset="0.9419" stop-color="#85c89b"/><stop offset="0.9453" stop-color="#85c89b"/><stop offset="0.9486" stop-color="#85c89b"/><stop offset="0.952" stop-color="#85c89a"/><stop offset="0.9553" stop-color="#85c89a"/><stop offset="0.9587" stop-color="#86c89a"/><stop offset="0.962" stop-color="#86c899"/><stop offset="0.9654" stop-color="#86c899"/><stop offset="0.9687" stop-color="#86c899"/><stop offset="0.9721" stop-color="#86c899"/><stop offset="0.9754" stop-color="#86c898"/><stop offset="0.9788" stop-color="#86c898"/><stop offset="0.9821" stop-color="#86c898"/><stop offset="0.9855" stop-color="#86c897"/><stop offset="0.9888" stop-color="#87c897"/><stop offset="0.9922" stop-color="#87c897"/><stop offset="0.9955" stop-color="#87c896"/><stop offset="0.9989" stop-color="#87c896"/></linearGradient><linearGradient id="g109" x1="0" x2="0" y1="0" y2="1"><stop offset="0.0000" stop-color="#7d191e"/><stop offset="0.0210" stop-color="#901c20"/><stop offset="0.0550" stop-color="#b01c22"/><stop offset="0.0900" stop-color="#d81c24"/><stop offset="0.1240" stop-color="#e82028"/><stop offset="0.1580" stop-color="#e83828"/><stop offset="0.1920" stop-color="#ec5828"/><stop offset="0.2260" stop-color="#f07030"/><stop offset="0.2490" stop-color="#f08030"/><stop offset="0.2840" stop-color="#f0a030"/><stop offset="0.3180" stop-color="#f0c028"/><stop offset="0.3520" stop-color="#f0e020"/><stop offset="0.3870" stop-color="#f0e818"/><stop offset="0.4210" stop-color="#d0d820"/><stop offset="0.4550" stop-color="#b0d040"/><stop offset="0.4900" stop-color="#98c858"/><stop offset="0.5240" stop-color="#88c068"/><stop offset="0.5800" stop-color="#70c2aa"/><stop offset="0.6160" stop-color="#60c2cc"/><stop offset="0.6500" stop-color="#50c0e2"/><stop offset="0.6840" stop-color="#40b8ee"/><stop offset="0.7300" stop-color="#3896d7"/><stop offset="0.7530" stop-color="#3a78c8"/><stop offset="0.7870" stop-color="#3a60b8"/><stop offset="0.8330" stop-color="#3a50a8"/><stop offset="0.8900" stop-color="#34449e"/><stop offset="0.9470" stop-color="#2e3894"/><stop offset="0.9820" stop-color="#202880"/><stop offset="1.0000" stop-color="#1c2070"/></linearGradient></defs><rect width="350" height="302" fill="#fff"/><rect x="37.00" y="4.200" width="92.00" height="1.874" fill="url(#g1)"/><rect x="37.00" y="5.074" width="92.00" height="1.874" fill="url(#g2)"/><rect x="37.00" y="5.948" width="92.00" height="1.874" fill="url(#g3)"/><rect x="37.00" y="6.822" width="92.00" height="1.874" fill="url(#g4)"/><rect x="37.00" y="7.696" width="92.00" height="1.874" fill="url(#g5)"/><rect x="37.00" y="8.570" width="92.00" height="1.874" fill="url(#g6)"/><rect x="37.00" y="9.444" width="92.00" height="1.874" fill="url(#g7)"/><rect x="37.00" y="10.318" width="92.00" height="1.874" fill="url(#g8)"/><rect x="37.00" y="11.192" width="92.00" height="1.874" fill="url(#g9)"/><rect x="37.00" y="12.066" width="92.00" height="1.874" fill="url(#g10)"/><rect x="37.00" y="12.940" width="92.00" height="1.874" fill="url(#g11)"/><rect x="37.00" y="13.814" width="92.00" height="1.874" fill="url(#g12)"/><rect x="37.00" y="14.688" width="92.00" height="1.874" fill="url(#g13)"/><rect x="37.00" y="15.562" width="92.00" height="1.874" fill="url(#g14)"/><rect x="37.00" y="16.436" width="92.00" height="1.874" fill="url(#g15)"/><rect x="37.00" y="17.310" width="92.00" height="1.874" fill="url(#g16)"/><rect x="37.00" y="18.184" width="92.00" height="1.874" fill="url(#g17)"/><rect x="37.00" y="19.058" width="92.00" height="1.874" fill="url(#g18)"/><rect x="37.00" y="19.932" width="92.00" height="1.874" fill="url(#g19)"/><rect x="37.00" y="20.806" width="92.00" height="1.874" fill="url(#g20)"/><rect x="37.00" y="21.680" width="92.00" height="1.874" fill="url(#g21)"/><rect x="37.00" y="22.554" width="92.00" height="1.874" fill="url(#g22)"/><rect x="37.00" y="23.428" width="92.00" height="1.874" fill="url(#g23)"/><rect x="37.00" y="24.302" width="92.00" height="1.874" fill="url(#g24)"/><rect x="37.00" y="25.176" width="92.00" height="1.874" fill="url(#g25)"/><rect x="37.00" y="26.050" width="92.00" height="1.874" fill="url(#g26)"/><rect x="37.00" y="26.924" width="92.00" height="1.874" fill="url(#g27)"/><rect x="37.00" y="27.798" width="92.00" height="1.874" fill="url(#g28)"/><rect x="37.00" y="28.672" width="92.00" height="1.874" fill="url(#g29)"/><rect x="37.00" y="29.546" width="92.00" height="1.874" fill="url(#g30)"/><rect x="37.00" y="30.420" width="92.00" height="1.874" fill="url(#g31)"/><rect x="37.00" y="31.294" width="92.00" height="1.874" fill="url(#g32)"/><rect x="37.00" y="32.168" width="92.00" height="1.874" fill="url(#g33)"/><rect x="37.00" y="33.042" width="92.00" height="1.874" fill="url(#g34)"/><rect x="37.00" y="33.916" width="92.00" height="1.874" fill="url(#g35)"/><rect x="37.00" y="34.790" width="92.00" height="1.874" fill="url(#g36)"/><rect x="37.00" y="35.664" width="92.00" height="1.874" fill="url(#g37)"/><rect x="37.00" y="36.538" width="92.00" height="1.874" fill="url(#g38)"/><rect x="37.00" y="37.412" width="92.00" height="1.874" fill="url(#g39)"/><rect x="37.00" y="38.286" width="92.00" height="1.874" fill="url(#g40)"/><rect x="37.00" y="39.160" width="92.00" height="1.874" fill="url(#g41)"/><rect x="37.00" y="40.034" width="92.00" height="1.874" fill="url(#g42)"/><rect x="37.00" y="40.908" width="92.00" height="1.874" fill="url(#g43)"/><rect x="37.00" y="41.782" width="92.00" height="1.874" fill="url(#g44)"/><rect x="37.00" y="42.656" width="92.00" height="1.874" fill="url(#g45)"/><rect x="37.00" y="43.530" width="92.00" height="1.874" fill="url(#g46)"/><rect x="37.00" y="44.404" width="92.00" height="1.874" fill="url(#g47)"/><rect x="37.00" y="45.278" width="92.00" height="1.874" fill="url(#g48)"/><rect x="37.00" y="46.152" width="92.00" height="1.874" fill="url(#g49)"/><rect x="37.00" y="47.026" width="92.00" height="1.874" fill="url(#g50)"/><rect x="37.00" y="47.900" width="92.00" height="1.874" fill="url(#g51)"/><rect x="37.00" y="48.774" width="92.00" height="1.874" fill="url(#g52)"/><rect x="37.00" y="49.648" width="92.00" height="1.874" fill="url(#g53)"/><rect x="37.00" y="50.522" width="92.00" height="1.874" fill="url(#g54)"/><rect x="37.00" y="51.396" width="92.00" height="1.874" fill="url(#g55)"/><rect x="37.00" y="52.270" width="92.00" height="1.874" fill="url(#g56)"/><rect x="37.00" y="53.144" width="92.00" height="1.874" fill="url(#g57)"/><rect x="37.00" y="54.018" width="92.00" height="1.874" fill="url(#g58)"/><rect x="37.00" y="54.892" width="92.00" height="1.874" fill="url(#g59)"/><rect x="37.00" y="55.766" width="92.00" height="1.874" fill="url(#g60)"/><rect x="37.00" y="56.640" width="92.00" height="1.874" fill="url(#g61)"/><rect x="37.00" y="57.514" width="92.00" height="1.874" fill="url(#g62)"/><rect x="37.00" y="58.388" width="92.00" height="1.874" fill="url(#g63)"/><rect x="37.00" y="59.262" width="92.00" height="1.874" fill="url(#g64)"/><rect x="37.00" y="60.136" width="92.00" height="1.874" fill="url(#g65)"/><rect x="37.00" y="61.010" width="92.00" height="1.874" fill="url(#g66)"/><rect x="37.00" y="61.884" width="92.00" height="1.874" fill="url(#g67)"/><rect x="37.00" y="62.758" width="92.00" height="1.874" fill="url(#g68)"/><rect x="37.00" y="63.632" width="92.00" height="1.874" fill="url(#g69)"/><rect x="37.00" y="64.506" width="92.00" height="1.874" fill="url(#g70)"/><rect x="37.00" y="65.380" width="92.00" height="1.874" fill="url(#g71)"/><rect x="37.00" y="66.254" width="92.00" height="1.874" fill="url(#g72)"/><rect x="37.00" y="67.128" width="92.00" height="1.874" fill="url(#g73)"/><rect x="37.00" y="68.002" width="92.00" height="1.874" fill="url(#g74)"/><rect x="37.00" y="68.876" width="92.00" height="1.874" fill="url(#g75)"/><rect x="37.00" y="69.750" width="92.00" height="1.874" fill="url(#g76)"/><rect x="37.00" y="70.624" width="92.00" height="1.874" fill="url(#g77)"/><rect x="37.00" y="71.498" width="92.00" height="1.874" fill="url(#g78)"/><rect x="37.00" y="72.372" width="92.00" height="1.874" fill="url(#g79)"/><rect x="37.00" y="73.246" width="92.00" height="1.874" fill="url(#g80)"/><rect x="37.00" y="74.120" width="92.00" height="1.874" fill="url(#g81)"/><rect x="37.00" y="74.994" width="92.00" height="1.874" fill="url(#g82)"/><rect x="37.00" y="75.868" width="92.00" height="1.874" fill="url(#g83)"/><rect x="37.00" y="76.742" width="92.00" height="1.874" fill="url(#g84)"/><rect x="37.00" y="77.616" width="92.00" height="1.874" fill="url(#g85)"/><rect x="37.00" y="78.490" width="92.00" height="1.874" fill="url(#g86)"/><rect x="37.00" y="79.364" width="92.00" height="1.874" fill="url(#g87)"/><rect x="37.00" y="80.238" width="92.00" height="1.874" fill="url(#g88)"/><rect x="37.00" y="81.112" width="92.00" height="1.874" fill="url(#g89)"/><rect x="37.00" y="81.986" width="92.00" height="1.874" fill="url(#g90)"/><rect x="37.00" y="82.860" width="92.00" height="1.874" fill="url(#g91)"/><rect x="37.00" y="83.734" width="92.00" height="1.874" fill="url(#g92)"/><rect x="37.00" y="84.608" width="92.00" height="1.874" fill="url(#g93)"/><rect x="37.00" y="85.482" width="92.00" height="1.874" fill="url(#g94)"/><rect x="37.00" y="86.356" width="92.00" height="1.874" fill="url(#g95)"/><rect x="37.00" y="87.230" width="92.00" height="1.874" fill="url(#g96)"/><rect x="37.00" y="88.104" width="92.00" height="1.874" fill="url(#g97)"/><rect x="37.00" y="88.978" width="92.00" height="1.874" fill="url(#g98)"/><rect x="37.00" y="89.852" width="92.00" height="1.874" fill="url(#g99)"/><rect x="37.00" y="90.726" width="92.00" height="0.874" fill="url(#g100)"/><path d="M47.00 4.60H129.00M47.00 91.20H129.00M128.60 4.20V91.60" fill="none" stroke="#101040" stroke-opacity="0.4" stroke-width="0.8"/><text transform="translate(33.80 9.00) scale(0.930 1)" font-size="10.20" text-anchor="end" >100</text><text transform="translate(33.80 27.00) scale(0.930 1)" font-size="10.20" text-anchor="end" >80</text><text transform="translate(33.80 44.00) scale(0.930 1)" font-size="10.20" text-anchor="end" >60</text><text transform="translate(33.80 62.00) scale(0.930 1)" font-size="10.20" text-anchor="end" >40</text><text transform="translate(33.80 80.00) scale(0.930 1)" font-size="10.20" text-anchor="end" >20</text><text transform="translate(37.60 106.00) scale(0.930 1)" font-size="10.20" text-anchor="middle" >0</text><text transform="translate(129.50 106.00) scale(0.930 1)" font-size="10.20" text-anchor="middle" >50</text><text transform="translate(83.00 119.00) scale(1.000 1)" font-size="11.00" text-anchor="middle" >t</text><text transform="translate(8.70 50.80) rotate(-90)" font-size="10.7" class="yl">I<tspan font-size="7.5" dy="5.2">i</tspan></text><rect x="132.40" y="4.20" width="6.70" height="87.40" fill="url(#g101)"/><rect x="132.75" y="4.55" width="6.00" height="86.70" fill="none" stroke="#101030" stroke-opacity="0.35" stroke-width="0.7"/><text transform="translate(142.00 9.00) scale(0.880 1)" font-size="10.00" text-anchor="start" >0.1</text><text transform="translate(142.00 26.00) scale(0.880 1)" font-size="10.00" text-anchor="start" >0.08</text><text transform="translate(142.00 44.00) scale(0.880 1)" font-size="10.00" text-anchor="start" >0.06</text><text transform="translate(142.00 61.00) scale(0.880 1)" font-size="10.00" text-anchor="start" >0.04</text><text transform="translate(142.00 79.00) scale(0.880 1)" font-size="10.00" text-anchor="start" >0.02</text><rect x="221.70" y="4.20" width="89.10" height="87.40" fill="url(#g102)"/><rect x="221.70" y="4.200" width="89.10" height="0.874" fill="url(#g103)" opacity="0.014"/><rect x="221.70" y="5.074" width="89.10" height="0.874" fill="url(#g103)" opacity="0.046"/><rect x="221.70" y="5.948" width="89.10" height="0.874" fill="url(#g103)" opacity="0.039"/><rect x="221.70" y="7.696" width="89.10" height="0.874" fill="url(#g104)" opacity="0.018"/><rect x="221.70" y="8.570" width="89.10" height="0.874" fill="url(#g104)" opacity="0.010"/><rect x="221.70" y="10.318" width="89.10" height="0.874" fill="url(#g103)" opacity="0.012"/><rect x="221.70" y="12.066" width="89.10" height="0.874" fill="url(#g104)" opacity="0.023"/><rect x="221.70" y="12.940" width="89.10" height="0.874" fill="url(#g103)" opacity="0.019"/><rect x="221.70" y="13.814" width="89.10" height="0.874" fill="url(#g103)" opacity="0.020"/><rect x="221.70" y="14.688" width="89.10" height="0.874" fill="url(#g103)" opacity="0.014"/><rect x="221.70" y="17.310" width="89.10" height="0.874" fill="url(#g103)" opacity="0.016"/><rect x="221.70" y="18.184" width="89.10" height="0.874" fill="url(#g103)" opacity="0.023"/><rect x="221.70" y="21.680" width="89.10" height="0.874" fill="url(#g104)" opacity="0.030"/><rect x="221.70" y="22.554" width="89.10" height="0.874" fill="url(#g104)" opacity="0.042"/><rect x="221.70" y="23.428" width="89.10" height="0.874" fill="url(#g104)" opacity="0.012"/><rect x="221.70" y="24.302" width="89.10" height="0.874" fill="url(#g104)" opacity="0.032"/><rect x="221.70" y="25.176" width="89.10" height="0.874" fill="url(#g104)" opacity="0.062"/><rect x="221.70" y="26.050" width="89.10" height="0.874" fill="url(#g104)" opacity="0.044"/><rect x="221.70" y="26.924" width="89.10" height="0.874" fill="url(#g104)" opacity="0.031"/><rect x="221.70" y="27.798" width="89.10" height="0.874" fill="url(#g104)" opacity="0.049"/><rect x="221.70" y="28.672" width="89.10" height="0.874" fill="url(#g104)" opacity="0.048"/><rect x="221.70" y="30.420" width="89.10" height="0.874" fill="url(#g103)" opacity="0.020"/><rect x="221.70" y="32.168" width="89.10" height="0.874" fill="url(#g104)" opacity="0.017"/><rect x="221.70" y="33.916" width="89.10" height="0.874" fill="url(#g103)" opacity="0.018"/><rect x="221.70" y="35.664" width="89.10" height="0.874" fill="url(#g103)" opacity="0.021"/><rect x="221.70" y="36.538" width="89.10" height="0.874" fill="url(#g103)" opacity="0.029"/><rect x="221.70" y="38.286" width="89.10" height="0.874" fill="url(#g104)" opacity="0.019"/><rect x="221.70" y="40.034" width="89.10" height="0.874" fill="url(#g103)" opacity="0.020"/><rect x="221.70" y="40.908" width="89.10" height="0.874" fill="url(#g103)" opacity="0.017"/><rect x="221.70" y="41.782" width="89.10" height="0.874" fill="url(#g104)" opacity="0.027"/><rect x="221.70" y="42.656" width="89.10" height="0.874" fill="url(#g104)" opacity="0.037"/><rect x="221.70" y="43.530" width="89.10" height="0.874" fill="url(#g104)" opacity="0.044"/><rect x="221.70" y="44.404" width="89.10" height="0.874" fill="url(#g104)" opacity="0.050"/><rect x="221.70" y="47.900" width="89.10" height="0.874" fill="url(#g103)" opacity="0.035"/><rect x="221.70" y="48.774" width="89.10" height="0.874" fill="url(#g103)" opacity="0.040"/><rect x="221.70" y="49.648" width="89.10" height="0.874" fill="url(#g103)" opacity="0.027"/><rect x="221.70" y="50.522" width="89.10" height="0.874" fill="url(#g103)" opacity="0.025"/><rect x="221.70" y="51.396" width="89.10" height="0.874" fill="url(#g103)" opacity="0.014"/><rect x="221.70" y="52.270" width="89.10" height="0.874" fill="url(#g104)" opacity="0.017"/><rect x="221.70" y="54.892" width="89.10" height="0.874" fill="url(#g104)" opacity="0.034"/><rect x="221.70" y="55.766" width="89.10" height="0.874" fill="url(#g104)" opacity="0.011"/><rect x="221.70" y="57.514" width="89.10" height="0.874" fill="url(#g103)" opacity="0.012"/><rect x="221.70" y="61.010" width="89.10" height="0.874" fill="url(#g104)" opacity="0.012"/><rect x="221.70" y="65.380" width="89.10" height="0.874" fill="url(#g103)" opacity="0.028"/><rect x="221.70" y="66.254" width="89.10" height="0.874" fill="url(#g103)" opacity="0.024"/><rect x="221.70" y="68.002" width="89.10" height="0.874" fill="url(#g103)" opacity="0.026"/><rect x="221.70" y="68.876" width="89.10" height="0.874" fill="url(#g103)" opacity="0.055"/><rect x="221.70" y="69.750" width="89.10" height="0.874" fill="url(#g103)" opacity="0.041"/><rect x="221.70" y="70.624" width="89.10" height="0.874" fill="url(#g104)" opacity="0.012"/><rect x="221.70" y="71.498" width="89.10" height="0.874" fill="url(#g103)" opacity="0.011"/><rect x="221.70" y="72.372" width="89.10" height="0.874" fill="url(#g103)" opacity="0.019"/><rect x="221.70" y="74.120" width="89.10" height="0.874" fill="url(#g104)" opacity="0.013"/><rect x="221.70" y="75.868" width="89.10" height="0.874" fill="url(#g104)" opacity="0.013"/><rect x="221.70" y="76.742" width="89.10" height="0.874" fill="url(#g103)" opacity="0.014"/><rect x="221.70" y="77.616" width="89.10" height="0.874" fill="url(#g103)" opacity="0.022"/><rect x="221.70" y="78.490" width="89.10" height="0.874" fill="url(#g104)" opacity="0.030"/><rect x="221.70" y="79.364" width="89.10" height="0.874" fill="url(#g104)" opacity="0.036"/><rect x="221.70" y="80.238" width="89.10" height="0.874" fill="url(#g104)" opacity="0.033"/><rect x="221.70" y="81.986" width="89.10" height="0.874" fill="url(#g103)" opacity="0.060"/><rect x="221.70" y="82.860" width="89.10" height="0.874" fill="url(#g103)" opacity="0.047"/><rect x="221.70" y="83.734" width="89.10" height="0.874" fill="url(#g104)" opacity="0.030"/><rect x="221.70" y="84.608" width="89.10" height="0.874" fill="url(#g104)" opacity="0.025"/><rect x="221.70" y="85.482" width="89.10" height="0.874" fill="url(#g103)" opacity="0.027"/><rect x="221.70" y="86.356" width="89.10" height="0.874" fill="url(#g103)" opacity="0.050"/><rect x="221.70" y="87.230" width="89.10" height="0.874" fill="url(#g103)" opacity="0.019"/><rect x="221.70" y="88.104" width="89.10" height="0.874" fill="url(#g104)" opacity="0.011"/><path d="M222.00 4.60H250.00M222.00 91.20H250.00" fill="none" stroke="#101040" stroke-opacity="0.4" stroke-width="0.8"/><text transform="translate(218.50 9.00) scale(0.930 1)" font-size="10.20" text-anchor="end" >100</text><text transform="translate(218.50 27.00) scale(0.930 1)" font-size="10.20" text-anchor="end" >80</text><text transform="translate(218.50 44.00) scale(0.930 1)" font-size="10.20" text-anchor="end" >60</text><text transform="translate(218.50 62.00) scale(0.930 1)" font-size="10.20" text-anchor="end" >40</text><text transform="translate(218.50 80.00) scale(0.930 1)" font-size="10.20" text-anchor="end" >20</text><text transform="translate(222.00 106.00) scale(0.930 1)" font-size="10.20" text-anchor="middle" >0</text><text transform="translate(266.30 106.00) scale(0.930 1)" font-size="10.20" text-anchor="middle" >100</text><text transform="translate(310.90 106.00) scale(0.930 1)" font-size="10.20" text-anchor="middle" >200</text><text transform="translate(266.25 119.00) scale(1.000 1)" font-size="11.00" text-anchor="middle" >t</text><text transform="translate(193.20 50.80) rotate(-90)" font-size="10.7" class="yl">I<tspan font-size="7.5" dy="5.2">i</tspan></text><rect x="322.60" y="4.20" width="6.40" height="87.40" fill="url(#g105)"/><rect x="322.95" y="4.55" width="5.70" height="86.70" fill="none" stroke="#101030" stroke-opacity="0.35" stroke-width="0.7"/><text transform="translate(331.90 27.00) scale(0.880 1)" font-size="10.00" text-anchor="start" >0.3</text><text transform="translate(331.90 61.00) scale(0.880 1)" font-size="10.00" text-anchor="start" >0.2</text><text transform="translate(331.90 95.00) scale(0.880 1)" font-size="10.00" text-anchor="start" >0.1</text><rect x="37.00" y="162.20" width="92.00" height="87.40" fill="url(#g106)"/><path d="M39.50 162.60H129.00M39.50 249.20H129.00M128.60 162.20V249.60" fill="none" stroke="#101040" stroke-opacity="0.4" stroke-width="0.8"/><text transform="translate(33.80 167.00) scale(0.930 1)" font-size="10.20" text-anchor="end" >100</text><text transform="translate(33.80 185.00) scale(0.930 1)" font-size="10.20" text-anchor="end" >80</text><text transform="translate(33.80 202.00) scale(0.930 1)" font-size="10.20" text-anchor="end" >60</text><text transform="translate(33.80 220.00) scale(0.930 1)" font-size="10.20" text-anchor="end" >40</text><text transform="translate(33.80 238.00) scale(0.930 1)" font-size="10.20" text-anchor="end" >20</text><text transform="translate(37.60 263.00) scale(0.930 1)" font-size="10.20" text-anchor="middle" >0</text><text transform="translate(129.50 263.00) scale(0.930 1)" font-size="10.20" text-anchor="middle" >50</text><text transform="translate(83.00 277.00) scale(1.000 1)" font-size="11.00" text-anchor="middle" >t</text><text transform="translate(8.70 208.80) rotate(-90)" font-size="10.7" class="yl">I<tspan font-size="7.5" dy="5.2">i</tspan></text><rect x="132.40" y="162.20" width="6.70" height="87.40" fill="url(#g107)"/><rect x="132.75" y="162.55" width="6.00" height="86.70" fill="none" stroke="#101030" stroke-opacity="0.35" stroke-width="0.7"/><text transform="translate(142.00 168.00) scale(0.880 1)" font-size="10.00" text-anchor="start" >0.1</text><text transform="translate(142.00 184.00) scale(0.880 1)" font-size="10.00" text-anchor="start" >0.08</text><text transform="translate(142.00 202.00) scale(0.880 1)" font-size="10.00" text-anchor="start" >0.06</text><text transform="translate(142.00 219.00) scale(0.880 1)" font-size="10.00" text-anchor="start" >0.04</text><text transform="translate(142.00 236.00) scale(0.880 1)" font-size="10.00" text-anchor="start" >0.02</text><rect x="221.30" y="162.20" width="89.50" height="87.40" fill="url(#g108)"/><path d="M223.50 162.60H240.50M223.50 249.20H240.50" fill="none" stroke="#101040" stroke-opacity="0.4" stroke-width="0.8"/><text transform="translate(218.10 167.00) scale(0.930 1)" font-size="10.20" text-anchor="end" >100</text><text transform="translate(218.10 185.00) scale(0.930 1)" font-size="10.20" text-anchor="end" >80</text><text transform="translate(218.10 202.00) scale(0.930 1)" font-size="10.20" text-anchor="end" >60</text><text transform="translate(218.10 220.00) scale(0.930 1)" font-size="10.20" text-anchor="end" >40</text><text transform="translate(218.10 238.00) scale(0.930 1)" font-size="10.20" text-anchor="end" >20</text><text transform="translate(222.00 263.00) scale(0.930 1)" font-size="10.20" text-anchor="middle" >0</text><text transform="translate(266.30 263.00) scale(0.930 1)" font-size="10.20" text-anchor="middle" >100</text><text transform="translate(310.90 263.00) scale(0.930 1)" font-size="10.20" text-anchor="middle" >200</text><text transform="translate(266.05 277.00) scale(1.000 1)" font-size="11.00" text-anchor="middle" >t</text><text transform="translate(193.20 208.80) rotate(-90)" font-size="10.7" class="yl">I<tspan font-size="7.5" dy="5.2">i</tspan></text><rect x="322.60" y="162.20" width="6.30" height="87.40" fill="url(#g109)"/><rect x="322.95" y="162.55" width="5.60" height="86.70" fill="none" stroke="#101030" stroke-opacity="0.35" stroke-width="0.7"/><text transform="translate(331.80 176.00) scale(0.880 1)" font-size="10.00" text-anchor="start" >0.12</text><text transform="translate(331.80 190.00) scale(0.880 1)" font-size="10.00" text-anchor="start" >0.1</text><text transform="translate(331.80 203.00) scale(0.880 1)" font-size="10.00" text-anchor="start" >0.08</text><text transform="translate(331.80 218.00) scale(0.880 1)" font-size="10.00" text-anchor="start" >0.06</text><text transform="translate(331.80 231.00) scale(0.880 1)" font-size="10.00" text-anchor="start" >0.04</text><text transform="translate(331.80 245.00) scale(0.880 1)" font-size="10.00" text-anchor="start" >0.02</text><path d="M105.50 4.60L105.50 91.20" stroke="#fff" stroke-opacity="0.09" stroke-width="0.8"/><path d="M37.00 40.90L128.60 40.90" stroke="#fff" stroke-opacity="0.09" stroke-width="0.8"/><path d="M222.00 40.90L310.40 40.90" stroke="#fff" stroke-opacity="0.09" stroke-width="0.8"/><path d="M105.30 162.60L105.30 249.20" stroke="#fff" stroke-opacity="0.09" stroke-width="0.8"/><text x="79.45" y="140.60" font-size="14.5" text-anchor="middle" class="cap">(a)</text><text x="264.20" y="140.60" font-size="14.5" text-anchor="middle" class="cap">(b)</text><text x="79.00" y="298.40" font-size="14.5" text-anchor="middle" class="cap">(c)</text><text x="263.80" y="298.40" font-size="14.5" text-anchor="middle" class="cap">(d)</text></svg></body></html>
